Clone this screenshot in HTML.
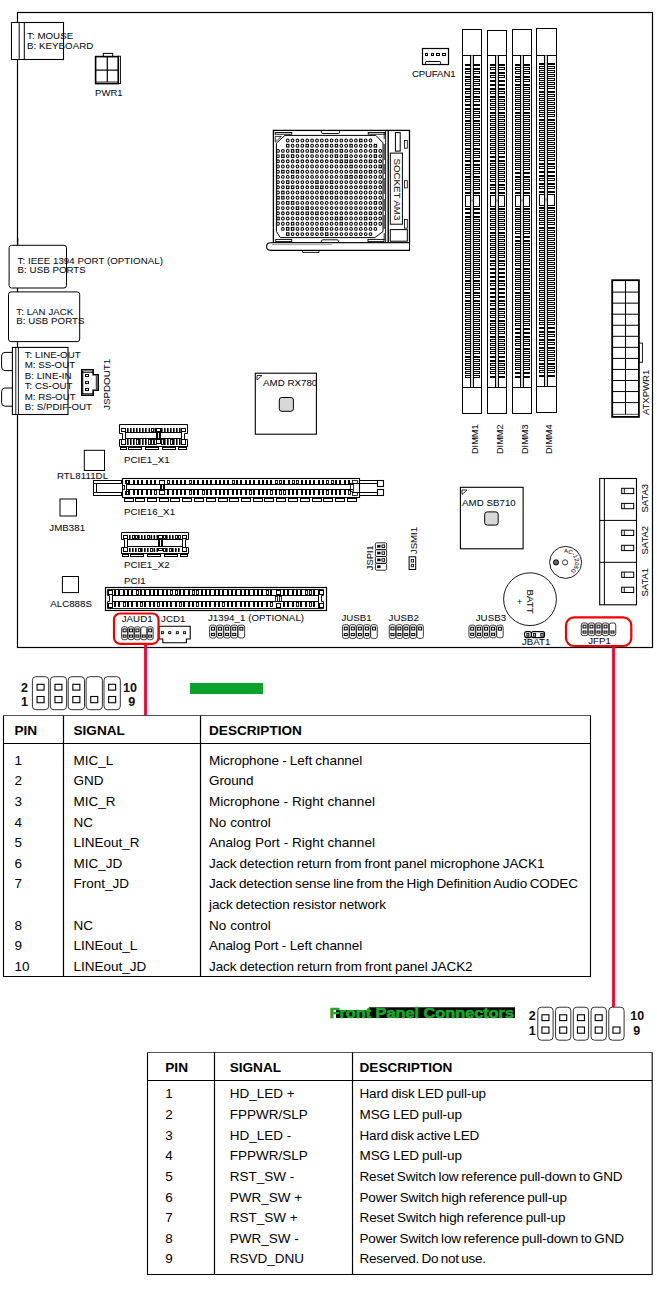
<!DOCTYPE html>
<html><head><meta charset="utf-8"><style>
html,body{margin:0;padding:0;background:#fff;width:657px;height:1292px;overflow:hidden}
svg{display:block;font-family:"Liberation Sans",sans-serif}
</style></head><body>
<svg width="657" height="1292" viewBox="0 0 657 1292">
<rect x="0" y="0" width="657" height="1292" fill="#fff"/>
<rect x="17.50" y="12.50" width="635.00" height="635.00" fill="none" stroke="#000" stroke-width="1.2" />
<rect x="11.50" y="22.50" width="52.00" height="37.00" fill="#fff" stroke="#000" stroke-width="1.1" />
<rect x="11.50" y="22.50" width="7.70" height="37.00" fill="#fff" stroke="#000" stroke-width="1.0" rx="1" />
<line x1="24.30" y1="22.50" x2="24.30" y2="59.50" stroke="#000" stroke-width="1.0"/>
<text x="27.00" y="39.30" font-size="9.7" text-anchor="start" fill="#0a0a14" font-weight="normal" stroke="#0a0a14" stroke-width="0.06" letter-spacing="0.05" >T: MOUSE</text>
<text x="27.00" y="49.20" font-size="9.7" text-anchor="start" fill="#0a0a14" font-weight="normal" stroke="#0a0a14" stroke-width="0.06" letter-spacing="0.05" >B: KEYBOARD</text>
<rect x="103.30" y="53.40" width="9.40" height="3.20" fill="none" stroke="#000" stroke-width="1" />
<rect x="95.60" y="56.60" width="22.70" height="27.00" fill="none" stroke="#000" stroke-width="1.6" />
<rect x="118.30" y="56.20" width="2.20" height="27.40" fill="none" stroke="#000" stroke-width="0.9" />
<line x1="107.30" y1="56.60" x2="107.30" y2="82.00" stroke="#000" stroke-width="1.2"/>
<line x1="95.60" y1="70.10" x2="118.30" y2="70.10" stroke="#000" stroke-width="1.2"/>
<line x1="95.60" y1="82.00" x2="118.30" y2="82.00" stroke="#000" stroke-width="0.8"/>
<text x="95.00" y="95.70" font-size="9.5" text-anchor="start" fill="#0a0a14" font-weight="normal" stroke="#0a0a14" stroke-width="0.06" letter-spacing="0.05" >PWR1</text>
<rect x="422.5" y="48.5" width="26" height="16" fill="none" stroke="#000" stroke-width="1.2"/>
<rect x="425.5" y="53.5" width="2" height="2" fill="none" stroke="#000" stroke-width="1"/>
<rect x="431.5" y="53.5" width="2" height="2" fill="none" stroke="#000" stroke-width="1"/>
<rect x="436.5" y="53.5" width="3" height="2" fill="none" stroke="#000" stroke-width="1"/>
<rect x="442.5" y="53.5" width="3" height="2" fill="none" stroke="#000" stroke-width="1"/>
<rect x="425.5" y="61.5" width="15" height="3" rx="0.8" fill="none" stroke="#000" stroke-width="1"/>
<text x="411.90" y="77.10" font-size="9.6" text-anchor="start" fill="#0a0a14" font-weight="normal" stroke="#0a0a14" stroke-width="0.06" letter-spacing="-0.1" >CPUFAN1</text>
<rect x="462.50" y="29.50" width="19.00" height="384.00" fill="#fff" stroke="#000" stroke-width="1" />
<line x1="462.00" y1="55.50" x2="482.00" y2="55.50" stroke="#000" stroke-width="1"/>
<line x1="462.00" y1="387.50" x2="482.00" y2="387.50" stroke="#000" stroke-width="1"/>
<rect x="471.00" y="55.50" width="2.00" height="331.50" fill="#d6d6d6" stroke="none" stroke-width="0" />
<line x1="470.50" y1="55.50" x2="470.50" y2="387.00" stroke="#000" stroke-width="1"/>
<line x1="473.50" y1="55.50" x2="473.50" y2="387.00" stroke="#000" stroke-width="1"/>
<rect x="465.00" y="64.00" width="6.00" height="2.00" fill="#000" stroke="none" stroke-width="0" />
<rect x="473.00" y="64.00" width="7.00" height="2.00" fill="#000" stroke="none" stroke-width="0" />
<rect x="465.00" y="68.00" width="6.00" height="2.00" fill="#000" stroke="none" stroke-width="0" />
<rect x="473.00" y="68.00" width="7.00" height="2.00" fill="#000" stroke="none" stroke-width="0" />
<rect x="465.50" y="71.50" width="5.00" height="2.00" fill="none" stroke="#000" stroke-width="1" />
<rect x="473.50" y="71.50" width="6.00" height="2.00" fill="none" stroke="#000" stroke-width="1" />
<rect x="465.00" y="76.00" width="6.00" height="2.00" fill="#000" stroke="none" stroke-width="0" />
<rect x="473.00" y="76.00" width="7.00" height="2.00" fill="#000" stroke="none" stroke-width="0" />
<rect x="465.50" y="79.50" width="5.00" height="2.00" fill="none" stroke="#000" stroke-width="1" />
<rect x="473.50" y="79.50" width="6.00" height="2.00" fill="none" stroke="#000" stroke-width="1" />
<rect x="465.50" y="83.50" width="5.00" height="2.00" fill="none" stroke="#000" stroke-width="1" />
<rect x="473.50" y="83.50" width="6.00" height="2.00" fill="none" stroke="#000" stroke-width="1" />
<rect x="465.00" y="88.00" width="6.00" height="2.00" fill="#000" stroke="none" stroke-width="0" />
<rect x="473.00" y="88.00" width="7.00" height="2.00" fill="#000" stroke="none" stroke-width="0" />
<rect x="465.50" y="91.50" width="5.00" height="2.00" fill="none" stroke="#000" stroke-width="1" />
<rect x="473.50" y="91.50" width="6.00" height="2.00" fill="none" stroke="#000" stroke-width="1" />
<rect x="465.00" y="96.00" width="6.00" height="2.00" fill="#000" stroke="none" stroke-width="0" />
<rect x="473.00" y="96.00" width="7.00" height="2.00" fill="#000" stroke="none" stroke-width="0" />
<rect x="465.50" y="99.50" width="5.00" height="2.00" fill="none" stroke="#000" stroke-width="1" />
<rect x="473.50" y="99.50" width="6.00" height="2.00" fill="none" stroke="#000" stroke-width="1" />
<rect x="465.00" y="104.00" width="6.00" height="2.00" fill="#000" stroke="none" stroke-width="0" />
<rect x="473.00" y="104.00" width="7.00" height="2.00" fill="#000" stroke="none" stroke-width="0" />
<rect x="465.00" y="108.00" width="6.00" height="2.00" fill="#000" stroke="none" stroke-width="0" />
<rect x="473.00" y="108.00" width="7.00" height="2.00" fill="#000" stroke="none" stroke-width="0" />
<rect x="465.50" y="111.50" width="5.00" height="2.00" fill="none" stroke="#000" stroke-width="1" />
<rect x="473.50" y="111.50" width="6.00" height="2.00" fill="none" stroke="#000" stroke-width="1" />
<rect x="465.50" y="115.50" width="5.00" height="2.00" fill="none" stroke="#000" stroke-width="1" />
<rect x="473.50" y="115.50" width="6.00" height="2.00" fill="none" stroke="#000" stroke-width="1" />
<rect x="465.00" y="120.00" width="6.00" height="2.00" fill="#000" stroke="none" stroke-width="0" />
<rect x="473.00" y="120.00" width="7.00" height="2.00" fill="#000" stroke="none" stroke-width="0" />
<rect x="465.50" y="123.50" width="5.00" height="2.00" fill="none" stroke="#000" stroke-width="1" />
<rect x="473.50" y="123.50" width="6.00" height="2.00" fill="none" stroke="#000" stroke-width="1" />
<rect x="465.50" y="127.50" width="5.00" height="2.00" fill="none" stroke="#000" stroke-width="1" />
<rect x="473.50" y="127.50" width="6.00" height="2.00" fill="none" stroke="#000" stroke-width="1" />
<rect x="465.50" y="131.50" width="5.00" height="2.00" fill="none" stroke="#000" stroke-width="1" />
<rect x="473.50" y="131.50" width="6.00" height="2.00" fill="none" stroke="#000" stroke-width="1" />
<rect x="465.50" y="135.50" width="5.00" height="2.00" fill="none" stroke="#000" stroke-width="1" />
<rect x="473.50" y="135.50" width="6.00" height="2.00" fill="none" stroke="#000" stroke-width="1" />
<rect x="465.50" y="139.50" width="5.00" height="2.00" fill="none" stroke="#000" stroke-width="1" />
<rect x="473.50" y="139.50" width="6.00" height="2.00" fill="none" stroke="#000" stroke-width="1" />
<rect x="465.50" y="143.50" width="5.00" height="2.00" fill="none" stroke="#000" stroke-width="1" />
<rect x="473.50" y="143.50" width="6.00" height="2.00" fill="none" stroke="#000" stroke-width="1" />
<rect x="465.00" y="148.00" width="6.00" height="2.00" fill="#000" stroke="none" stroke-width="0" />
<rect x="473.00" y="148.00" width="7.00" height="2.00" fill="#000" stroke="none" stroke-width="0" />
<rect x="465.50" y="151.50" width="5.00" height="2.00" fill="none" stroke="#000" stroke-width="1" />
<rect x="473.50" y="151.50" width="6.00" height="2.00" fill="none" stroke="#000" stroke-width="1" />
<rect x="465.50" y="155.50" width="5.00" height="2.00" fill="none" stroke="#000" stroke-width="1" />
<rect x="473.50" y="155.50" width="6.00" height="2.00" fill="none" stroke="#000" stroke-width="1" />
<rect x="465.00" y="160.00" width="6.00" height="2.00" fill="#000" stroke="none" stroke-width="0" />
<rect x="473.00" y="160.00" width="7.00" height="2.00" fill="#000" stroke="none" stroke-width="0" />
<rect x="465.00" y="164.00" width="6.00" height="2.00" fill="#000" stroke="none" stroke-width="0" />
<rect x="473.00" y="164.00" width="7.00" height="2.00" fill="#000" stroke="none" stroke-width="0" />
<rect x="465.50" y="167.50" width="5.00" height="2.00" fill="none" stroke="#000" stroke-width="1" />
<rect x="473.50" y="167.50" width="6.00" height="2.00" fill="none" stroke="#000" stroke-width="1" />
<rect x="465.50" y="171.50" width="5.00" height="2.00" fill="none" stroke="#000" stroke-width="1" />
<rect x="473.50" y="171.50" width="6.00" height="2.00" fill="none" stroke="#000" stroke-width="1" />
<rect x="465.00" y="176.00" width="6.00" height="2.00" fill="#000" stroke="none" stroke-width="0" />
<rect x="473.00" y="176.00" width="7.00" height="2.00" fill="#000" stroke="none" stroke-width="0" />
<rect x="465.50" y="179.50" width="5.00" height="2.00" fill="none" stroke="#000" stroke-width="1" />
<rect x="473.50" y="179.50" width="6.00" height="2.00" fill="none" stroke="#000" stroke-width="1" />
<rect x="465.50" y="183.50" width="5.00" height="2.00" fill="none" stroke="#000" stroke-width="1" />
<rect x="473.50" y="183.50" width="6.00" height="2.00" fill="none" stroke="#000" stroke-width="1" />
<rect x="465.50" y="187.50" width="5.00" height="2.00" fill="none" stroke="#000" stroke-width="1" />
<rect x="473.50" y="187.50" width="6.00" height="2.00" fill="none" stroke="#000" stroke-width="1" />
<rect x="465.00" y="192.00" width="6.00" height="2.00" fill="#000" stroke="none" stroke-width="0" />
<rect x="473.00" y="192.00" width="7.00" height="2.00" fill="#000" stroke="none" stroke-width="0" />
<rect x="465.00" y="208.00" width="6.00" height="2.00" fill="#000" stroke="none" stroke-width="0" />
<rect x="473.00" y="208.00" width="7.00" height="2.00" fill="#000" stroke="none" stroke-width="0" />
<rect x="465.00" y="212.00" width="6.00" height="2.00" fill="#000" stroke="none" stroke-width="0" />
<rect x="473.00" y="212.00" width="7.00" height="2.00" fill="#000" stroke="none" stroke-width="0" />
<rect x="465.00" y="216.00" width="6.00" height="2.00" fill="#000" stroke="none" stroke-width="0" />
<rect x="473.00" y="216.00" width="7.00" height="2.00" fill="#000" stroke="none" stroke-width="0" />
<rect x="465.50" y="219.50" width="5.00" height="2.00" fill="none" stroke="#000" stroke-width="1" />
<rect x="473.50" y="219.50" width="6.00" height="2.00" fill="none" stroke="#000" stroke-width="1" />
<rect x="465.50" y="223.50" width="5.00" height="2.00" fill="none" stroke="#000" stroke-width="1" />
<rect x="473.50" y="223.50" width="6.00" height="2.00" fill="none" stroke="#000" stroke-width="1" />
<rect x="465.50" y="227.50" width="5.00" height="2.00" fill="none" stroke="#000" stroke-width="1" />
<rect x="473.50" y="227.50" width="6.00" height="2.00" fill="none" stroke="#000" stroke-width="1" />
<rect x="465.50" y="231.50" width="5.00" height="2.00" fill="none" stroke="#000" stroke-width="1" />
<rect x="473.50" y="231.50" width="6.00" height="2.00" fill="none" stroke="#000" stroke-width="1" />
<rect x="465.50" y="235.50" width="5.00" height="2.00" fill="none" stroke="#000" stroke-width="1" />
<rect x="473.50" y="235.50" width="6.00" height="2.00" fill="none" stroke="#000" stroke-width="1" />
<rect x="465.50" y="239.50" width="5.00" height="2.00" fill="none" stroke="#000" stroke-width="1" />
<rect x="473.50" y="239.50" width="6.00" height="2.00" fill="none" stroke="#000" stroke-width="1" />
<rect x="465.50" y="243.50" width="5.00" height="2.00" fill="none" stroke="#000" stroke-width="1" />
<rect x="473.50" y="243.50" width="6.00" height="2.00" fill="none" stroke="#000" stroke-width="1" />
<rect x="465.50" y="247.50" width="5.00" height="2.00" fill="none" stroke="#000" stroke-width="1" />
<rect x="473.50" y="247.50" width="6.00" height="2.00" fill="none" stroke="#000" stroke-width="1" />
<rect x="465.50" y="251.50" width="5.00" height="2.00" fill="none" stroke="#000" stroke-width="1" />
<rect x="473.50" y="251.50" width="6.00" height="2.00" fill="none" stroke="#000" stroke-width="1" />
<rect x="465.50" y="255.50" width="5.00" height="2.00" fill="none" stroke="#000" stroke-width="1" />
<rect x="473.50" y="255.50" width="6.00" height="2.00" fill="none" stroke="#000" stroke-width="1" />
<rect x="465.50" y="259.50" width="5.00" height="2.00" fill="none" stroke="#000" stroke-width="1" />
<rect x="473.50" y="259.50" width="6.00" height="2.00" fill="none" stroke="#000" stroke-width="1" />
<rect x="465.50" y="263.50" width="5.00" height="2.00" fill="none" stroke="#000" stroke-width="1" />
<rect x="473.50" y="263.50" width="6.00" height="2.00" fill="none" stroke="#000" stroke-width="1" />
<rect x="465.50" y="267.50" width="5.00" height="2.00" fill="none" stroke="#000" stroke-width="1" />
<rect x="473.50" y="267.50" width="6.00" height="2.00" fill="none" stroke="#000" stroke-width="1" />
<rect x="465.50" y="271.50" width="5.00" height="2.00" fill="none" stroke="#000" stroke-width="1" />
<rect x="473.50" y="271.50" width="6.00" height="2.00" fill="none" stroke="#000" stroke-width="1" />
<rect x="465.50" y="275.50" width="5.00" height="2.00" fill="none" stroke="#000" stroke-width="1" />
<rect x="473.50" y="275.50" width="6.00" height="2.00" fill="none" stroke="#000" stroke-width="1" />
<rect x="465.00" y="280.00" width="6.00" height="2.00" fill="#000" stroke="none" stroke-width="0" />
<rect x="473.00" y="280.00" width="7.00" height="2.00" fill="#000" stroke="none" stroke-width="0" />
<rect x="465.50" y="283.50" width="5.00" height="2.00" fill="none" stroke="#000" stroke-width="1" />
<rect x="473.50" y="283.50" width="6.00" height="2.00" fill="none" stroke="#000" stroke-width="1" />
<rect x="465.50" y="287.50" width="5.00" height="2.00" fill="none" stroke="#000" stroke-width="1" />
<rect x="473.50" y="287.50" width="6.00" height="2.00" fill="none" stroke="#000" stroke-width="1" />
<rect x="465.00" y="292.00" width="6.00" height="2.00" fill="#000" stroke="none" stroke-width="0" />
<rect x="473.00" y="292.00" width="7.00" height="2.00" fill="#000" stroke="none" stroke-width="0" />
<rect x="465.50" y="295.50" width="5.00" height="2.00" fill="none" stroke="#000" stroke-width="1" />
<rect x="473.50" y="295.50" width="6.00" height="2.00" fill="none" stroke="#000" stroke-width="1" />
<rect x="465.00" y="300.00" width="6.00" height="2.00" fill="#000" stroke="none" stroke-width="0" />
<rect x="473.00" y="300.00" width="7.00" height="2.00" fill="#000" stroke="none" stroke-width="0" />
<rect x="465.50" y="303.50" width="5.00" height="2.00" fill="none" stroke="#000" stroke-width="1" />
<rect x="473.50" y="303.50" width="6.00" height="2.00" fill="none" stroke="#000" stroke-width="1" />
<rect x="465.50" y="307.50" width="5.00" height="2.00" fill="none" stroke="#000" stroke-width="1" />
<rect x="473.50" y="307.50" width="6.00" height="2.00" fill="none" stroke="#000" stroke-width="1" />
<rect x="465.50" y="311.50" width="5.00" height="2.00" fill="none" stroke="#000" stroke-width="1" />
<rect x="473.50" y="311.50" width="6.00" height="2.00" fill="none" stroke="#000" stroke-width="1" />
<rect x="465.50" y="315.50" width="5.00" height="2.00" fill="none" stroke="#000" stroke-width="1" />
<rect x="473.50" y="315.50" width="6.00" height="2.00" fill="none" stroke="#000" stroke-width="1" />
<rect x="465.50" y="319.50" width="5.00" height="2.00" fill="none" stroke="#000" stroke-width="1" />
<rect x="473.50" y="319.50" width="6.00" height="2.00" fill="none" stroke="#000" stroke-width="1" />
<rect x="465.50" y="323.50" width="5.00" height="2.00" fill="none" stroke="#000" stroke-width="1" />
<rect x="473.50" y="323.50" width="6.00" height="2.00" fill="none" stroke="#000" stroke-width="1" />
<rect x="465.50" y="327.50" width="5.00" height="2.00" fill="none" stroke="#000" stroke-width="1" />
<rect x="473.50" y="327.50" width="6.00" height="2.00" fill="none" stroke="#000" stroke-width="1" />
<rect x="465.50" y="331.50" width="5.00" height="2.00" fill="none" stroke="#000" stroke-width="1" />
<rect x="473.50" y="331.50" width="6.00" height="2.00" fill="none" stroke="#000" stroke-width="1" />
<rect x="465.50" y="335.50" width="5.00" height="2.00" fill="none" stroke="#000" stroke-width="1" />
<rect x="473.50" y="335.50" width="6.00" height="2.00" fill="none" stroke="#000" stroke-width="1" />
<rect x="465.50" y="339.50" width="5.00" height="2.00" fill="none" stroke="#000" stroke-width="1" />
<rect x="473.50" y="339.50" width="6.00" height="2.00" fill="none" stroke="#000" stroke-width="1" />
<rect x="465.50" y="343.50" width="5.00" height="2.00" fill="none" stroke="#000" stroke-width="1" />
<rect x="473.50" y="343.50" width="6.00" height="2.00" fill="none" stroke="#000" stroke-width="1" />
<rect x="465.50" y="347.50" width="5.00" height="2.00" fill="none" stroke="#000" stroke-width="1" />
<rect x="473.50" y="347.50" width="6.00" height="2.00" fill="none" stroke="#000" stroke-width="1" />
<rect x="465.50" y="351.50" width="5.00" height="2.00" fill="none" stroke="#000" stroke-width="1" />
<rect x="473.50" y="351.50" width="6.00" height="2.00" fill="none" stroke="#000" stroke-width="1" />
<rect x="465.00" y="356.00" width="6.00" height="2.00" fill="#000" stroke="none" stroke-width="0" />
<rect x="473.00" y="356.00" width="7.00" height="2.00" fill="#000" stroke="none" stroke-width="0" />
<rect x="465.50" y="359.50" width="5.00" height="2.00" fill="none" stroke="#000" stroke-width="1" />
<rect x="473.50" y="359.50" width="6.00" height="2.00" fill="none" stroke="#000" stroke-width="1" />
<rect x="465.50" y="363.50" width="5.00" height="2.00" fill="none" stroke="#000" stroke-width="1" />
<rect x="473.50" y="363.50" width="6.00" height="2.00" fill="none" stroke="#000" stroke-width="1" />
<rect x="465.50" y="367.50" width="5.00" height="2.00" fill="none" stroke="#000" stroke-width="1" />
<rect x="473.50" y="367.50" width="6.00" height="2.00" fill="none" stroke="#000" stroke-width="1" />
<rect x="465.50" y="371.50" width="5.00" height="2.00" fill="none" stroke="#000" stroke-width="1" />
<rect x="473.50" y="371.50" width="6.00" height="2.00" fill="none" stroke="#000" stroke-width="1" />
<rect x="465.50" y="375.50" width="5.00" height="2.00" fill="none" stroke="#000" stroke-width="1" />
<rect x="473.50" y="375.50" width="6.00" height="2.00" fill="none" stroke="#000" stroke-width="1" />
<rect x="465.50" y="195.50" width="5.00" height="11.00" fill="none" stroke="#000" stroke-width="1" />
<rect x="473.50" y="195.50" width="6.00" height="11.00" fill="none" stroke="#000" stroke-width="1" />
<rect x="471.00" y="199.50" width="2.00" height="2.00" fill="#999" stroke="none" stroke-width="0" />
<rect x="470.50" y="198.00" width="3.00" height="5.00" fill="none" stroke="none" stroke-width="0" />
<text x="478.30" y="454.00" font-size="9.4" text-anchor="start" fill="#0a0a14" font-weight="normal" stroke="#0a0a14" stroke-width="0.06" transform="rotate(-90 478.30 454.00)" textLength="29.5" lengthAdjust="spacingAndGlyphs" >DIMM1</text>
<rect x="487.50" y="30.50" width="19.00" height="383.00" fill="#fff" stroke="#000" stroke-width="1" />
<line x1="487.00" y1="55.50" x2="507.00" y2="55.50" stroke="#000" stroke-width="1"/>
<line x1="487.00" y1="387.50" x2="507.00" y2="387.50" stroke="#000" stroke-width="1"/>
<rect x="496.00" y="55.50" width="2.00" height="331.50" fill="#d6d6d6" stroke="none" stroke-width="0" />
<line x1="495.50" y1="55.50" x2="495.50" y2="387.00" stroke="#000" stroke-width="1"/>
<line x1="498.50" y1="55.50" x2="498.50" y2="387.00" stroke="#000" stroke-width="1"/>
<rect x="490.00" y="64.00" width="6.00" height="2.00" fill="#000" stroke="none" stroke-width="0" />
<rect x="498.00" y="64.00" width="7.00" height="2.00" fill="#000" stroke="none" stroke-width="0" />
<rect x="490.50" y="67.50" width="5.00" height="2.00" fill="none" stroke="#000" stroke-width="1" />
<rect x="498.50" y="67.50" width="6.00" height="2.00" fill="none" stroke="#000" stroke-width="1" />
<rect x="490.00" y="72.00" width="6.00" height="2.00" fill="#000" stroke="none" stroke-width="0" />
<rect x="498.00" y="72.00" width="7.00" height="2.00" fill="#000" stroke="none" stroke-width="0" />
<rect x="490.50" y="75.50" width="5.00" height="2.00" fill="none" stroke="#000" stroke-width="1" />
<rect x="498.50" y="75.50" width="6.00" height="2.00" fill="none" stroke="#000" stroke-width="1" />
<rect x="490.00" y="80.00" width="6.00" height="2.00" fill="#000" stroke="none" stroke-width="0" />
<rect x="498.00" y="80.00" width="7.00" height="2.00" fill="#000" stroke="none" stroke-width="0" />
<rect x="490.00" y="84.00" width="6.00" height="2.00" fill="#000" stroke="none" stroke-width="0" />
<rect x="498.00" y="84.00" width="7.00" height="2.00" fill="#000" stroke="none" stroke-width="0" />
<rect x="490.00" y="88.00" width="6.00" height="2.00" fill="#000" stroke="none" stroke-width="0" />
<rect x="498.00" y="88.00" width="7.00" height="2.00" fill="#000" stroke="none" stroke-width="0" />
<rect x="490.50" y="91.50" width="5.00" height="2.00" fill="none" stroke="#000" stroke-width="1" />
<rect x="498.50" y="91.50" width="6.00" height="2.00" fill="none" stroke="#000" stroke-width="1" />
<rect x="490.00" y="96.00" width="6.00" height="2.00" fill="#000" stroke="none" stroke-width="0" />
<rect x="498.00" y="96.00" width="7.00" height="2.00" fill="#000" stroke="none" stroke-width="0" />
<rect x="490.50" y="99.50" width="5.00" height="2.00" fill="none" stroke="#000" stroke-width="1" />
<rect x="498.50" y="99.50" width="6.00" height="2.00" fill="none" stroke="#000" stroke-width="1" />
<rect x="490.50" y="103.50" width="5.00" height="2.00" fill="none" stroke="#000" stroke-width="1" />
<rect x="498.50" y="103.50" width="6.00" height="2.00" fill="none" stroke="#000" stroke-width="1" />
<rect x="490.50" y="107.50" width="5.00" height="2.00" fill="none" stroke="#000" stroke-width="1" />
<rect x="498.50" y="107.50" width="6.00" height="2.00" fill="none" stroke="#000" stroke-width="1" />
<rect x="490.00" y="112.00" width="6.00" height="2.00" fill="#000" stroke="none" stroke-width="0" />
<rect x="498.00" y="112.00" width="7.00" height="2.00" fill="#000" stroke="none" stroke-width="0" />
<rect x="490.50" y="115.50" width="5.00" height="2.00" fill="none" stroke="#000" stroke-width="1" />
<rect x="498.50" y="115.50" width="6.00" height="2.00" fill="none" stroke="#000" stroke-width="1" />
<rect x="490.50" y="119.50" width="5.00" height="2.00" fill="none" stroke="#000" stroke-width="1" />
<rect x="498.50" y="119.50" width="6.00" height="2.00" fill="none" stroke="#000" stroke-width="1" />
<rect x="490.50" y="123.50" width="5.00" height="2.00" fill="none" stroke="#000" stroke-width="1" />
<rect x="498.50" y="123.50" width="6.00" height="2.00" fill="none" stroke="#000" stroke-width="1" />
<rect x="490.50" y="127.50" width="5.00" height="2.00" fill="none" stroke="#000" stroke-width="1" />
<rect x="498.50" y="127.50" width="6.00" height="2.00" fill="none" stroke="#000" stroke-width="1" />
<rect x="490.50" y="131.50" width="5.00" height="2.00" fill="none" stroke="#000" stroke-width="1" />
<rect x="498.50" y="131.50" width="6.00" height="2.00" fill="none" stroke="#000" stroke-width="1" />
<rect x="490.50" y="135.50" width="5.00" height="2.00" fill="none" stroke="#000" stroke-width="1" />
<rect x="498.50" y="135.50" width="6.00" height="2.00" fill="none" stroke="#000" stroke-width="1" />
<rect x="490.50" y="139.50" width="5.00" height="2.00" fill="none" stroke="#000" stroke-width="1" />
<rect x="498.50" y="139.50" width="6.00" height="2.00" fill="none" stroke="#000" stroke-width="1" />
<rect x="490.50" y="143.50" width="5.00" height="2.00" fill="none" stroke="#000" stroke-width="1" />
<rect x="498.50" y="143.50" width="6.00" height="2.00" fill="none" stroke="#000" stroke-width="1" />
<rect x="490.50" y="147.50" width="5.00" height="2.00" fill="none" stroke="#000" stroke-width="1" />
<rect x="498.50" y="147.50" width="6.00" height="2.00" fill="none" stroke="#000" stroke-width="1" />
<rect x="490.50" y="151.50" width="5.00" height="2.00" fill="none" stroke="#000" stroke-width="1" />
<rect x="498.50" y="151.50" width="6.00" height="2.00" fill="none" stroke="#000" stroke-width="1" />
<rect x="490.00" y="156.00" width="6.00" height="2.00" fill="#000" stroke="none" stroke-width="0" />
<rect x="498.00" y="156.00" width="7.00" height="2.00" fill="#000" stroke="none" stroke-width="0" />
<rect x="490.00" y="160.00" width="6.00" height="2.00" fill="#000" stroke="none" stroke-width="0" />
<rect x="498.00" y="160.00" width="7.00" height="2.00" fill="#000" stroke="none" stroke-width="0" />
<rect x="490.50" y="163.50" width="5.00" height="2.00" fill="none" stroke="#000" stroke-width="1" />
<rect x="498.50" y="163.50" width="6.00" height="2.00" fill="none" stroke="#000" stroke-width="1" />
<rect x="490.50" y="167.50" width="5.00" height="2.00" fill="none" stroke="#000" stroke-width="1" />
<rect x="498.50" y="167.50" width="6.00" height="2.00" fill="none" stroke="#000" stroke-width="1" />
<rect x="490.50" y="171.50" width="5.00" height="2.00" fill="none" stroke="#000" stroke-width="1" />
<rect x="498.50" y="171.50" width="6.00" height="2.00" fill="none" stroke="#000" stroke-width="1" />
<rect x="490.50" y="175.50" width="5.00" height="2.00" fill="none" stroke="#000" stroke-width="1" />
<rect x="498.50" y="175.50" width="6.00" height="2.00" fill="none" stroke="#000" stroke-width="1" />
<rect x="490.50" y="179.50" width="5.00" height="2.00" fill="none" stroke="#000" stroke-width="1" />
<rect x="498.50" y="179.50" width="6.00" height="2.00" fill="none" stroke="#000" stroke-width="1" />
<rect x="490.00" y="184.00" width="6.00" height="2.00" fill="#000" stroke="none" stroke-width="0" />
<rect x="498.00" y="184.00" width="7.00" height="2.00" fill="#000" stroke="none" stroke-width="0" />
<rect x="490.50" y="187.50" width="5.00" height="2.00" fill="none" stroke="#000" stroke-width="1" />
<rect x="498.50" y="187.50" width="6.00" height="2.00" fill="none" stroke="#000" stroke-width="1" />
<rect x="490.00" y="192.00" width="6.00" height="2.00" fill="#000" stroke="none" stroke-width="0" />
<rect x="498.00" y="192.00" width="7.00" height="2.00" fill="#000" stroke="none" stroke-width="0" />
<rect x="490.00" y="208.00" width="6.00" height="2.00" fill="#000" stroke="none" stroke-width="0" />
<rect x="498.00" y="208.00" width="7.00" height="2.00" fill="#000" stroke="none" stroke-width="0" />
<rect x="490.50" y="211.50" width="5.00" height="2.00" fill="none" stroke="#000" stroke-width="1" />
<rect x="498.50" y="211.50" width="6.00" height="2.00" fill="none" stroke="#000" stroke-width="1" />
<rect x="490.50" y="215.50" width="5.00" height="2.00" fill="none" stroke="#000" stroke-width="1" />
<rect x="498.50" y="215.50" width="6.00" height="2.00" fill="none" stroke="#000" stroke-width="1" />
<rect x="490.50" y="219.50" width="5.00" height="2.00" fill="none" stroke="#000" stroke-width="1" />
<rect x="498.50" y="219.50" width="6.00" height="2.00" fill="none" stroke="#000" stroke-width="1" />
<rect x="490.50" y="223.50" width="5.00" height="2.00" fill="none" stroke="#000" stroke-width="1" />
<rect x="498.50" y="223.50" width="6.00" height="2.00" fill="none" stroke="#000" stroke-width="1" />
<rect x="490.50" y="227.50" width="5.00" height="2.00" fill="none" stroke="#000" stroke-width="1" />
<rect x="498.50" y="227.50" width="6.00" height="2.00" fill="none" stroke="#000" stroke-width="1" />
<rect x="490.00" y="232.00" width="6.00" height="2.00" fill="#000" stroke="none" stroke-width="0" />
<rect x="498.00" y="232.00" width="7.00" height="2.00" fill="#000" stroke="none" stroke-width="0" />
<rect x="490.50" y="235.50" width="5.00" height="2.00" fill="none" stroke="#000" stroke-width="1" />
<rect x="498.50" y="235.50" width="6.00" height="2.00" fill="none" stroke="#000" stroke-width="1" />
<rect x="490.50" y="239.50" width="5.00" height="2.00" fill="none" stroke="#000" stroke-width="1" />
<rect x="498.50" y="239.50" width="6.00" height="2.00" fill="none" stroke="#000" stroke-width="1" />
<rect x="490.50" y="243.50" width="5.00" height="2.00" fill="none" stroke="#000" stroke-width="1" />
<rect x="498.50" y="243.50" width="6.00" height="2.00" fill="none" stroke="#000" stroke-width="1" />
<rect x="490.50" y="247.50" width="5.00" height="2.00" fill="none" stroke="#000" stroke-width="1" />
<rect x="498.50" y="247.50" width="6.00" height="2.00" fill="none" stroke="#000" stroke-width="1" />
<rect x="490.50" y="251.50" width="5.00" height="2.00" fill="none" stroke="#000" stroke-width="1" />
<rect x="498.50" y="251.50" width="6.00" height="2.00" fill="none" stroke="#000" stroke-width="1" />
<rect x="490.50" y="255.50" width="5.00" height="2.00" fill="none" stroke="#000" stroke-width="1" />
<rect x="498.50" y="255.50" width="6.00" height="2.00" fill="none" stroke="#000" stroke-width="1" />
<rect x="490.00" y="260.00" width="6.00" height="2.00" fill="#000" stroke="none" stroke-width="0" />
<rect x="498.00" y="260.00" width="7.00" height="2.00" fill="#000" stroke="none" stroke-width="0" />
<rect x="490.50" y="263.50" width="5.00" height="2.00" fill="none" stroke="#000" stroke-width="1" />
<rect x="498.50" y="263.50" width="6.00" height="2.00" fill="none" stroke="#000" stroke-width="1" />
<rect x="490.00" y="268.00" width="6.00" height="2.00" fill="#000" stroke="none" stroke-width="0" />
<rect x="498.00" y="268.00" width="7.00" height="2.00" fill="#000" stroke="none" stroke-width="0" />
<rect x="490.00" y="272.00" width="6.00" height="2.00" fill="#000" stroke="none" stroke-width="0" />
<rect x="498.00" y="272.00" width="7.00" height="2.00" fill="#000" stroke="none" stroke-width="0" />
<rect x="490.00" y="276.00" width="6.00" height="2.00" fill="#000" stroke="none" stroke-width="0" />
<rect x="498.00" y="276.00" width="7.00" height="2.00" fill="#000" stroke="none" stroke-width="0" />
<rect x="490.00" y="280.00" width="6.00" height="2.00" fill="#000" stroke="none" stroke-width="0" />
<rect x="498.00" y="280.00" width="7.00" height="2.00" fill="#000" stroke="none" stroke-width="0" />
<rect x="490.50" y="283.50" width="5.00" height="2.00" fill="none" stroke="#000" stroke-width="1" />
<rect x="498.50" y="283.50" width="6.00" height="2.00" fill="none" stroke="#000" stroke-width="1" />
<rect x="490.00" y="288.00" width="6.00" height="2.00" fill="#000" stroke="none" stroke-width="0" />
<rect x="498.00" y="288.00" width="7.00" height="2.00" fill="#000" stroke="none" stroke-width="0" />
<rect x="490.00" y="292.00" width="6.00" height="2.00" fill="#000" stroke="none" stroke-width="0" />
<rect x="498.00" y="292.00" width="7.00" height="2.00" fill="#000" stroke="none" stroke-width="0" />
<rect x="490.00" y="296.00" width="6.00" height="2.00" fill="#000" stroke="none" stroke-width="0" />
<rect x="498.00" y="296.00" width="7.00" height="2.00" fill="#000" stroke="none" stroke-width="0" />
<rect x="490.00" y="300.00" width="6.00" height="2.00" fill="#000" stroke="none" stroke-width="0" />
<rect x="498.00" y="300.00" width="7.00" height="2.00" fill="#000" stroke="none" stroke-width="0" />
<rect x="490.50" y="303.50" width="5.00" height="2.00" fill="none" stroke="#000" stroke-width="1" />
<rect x="498.50" y="303.50" width="6.00" height="2.00" fill="none" stroke="#000" stroke-width="1" />
<rect x="490.00" y="308.00" width="6.00" height="2.00" fill="#000" stroke="none" stroke-width="0" />
<rect x="498.00" y="308.00" width="7.00" height="2.00" fill="#000" stroke="none" stroke-width="0" />
<rect x="490.50" y="311.50" width="5.00" height="2.00" fill="none" stroke="#000" stroke-width="1" />
<rect x="498.50" y="311.50" width="6.00" height="2.00" fill="none" stroke="#000" stroke-width="1" />
<rect x="490.50" y="315.50" width="5.00" height="2.00" fill="none" stroke="#000" stroke-width="1" />
<rect x="498.50" y="315.50" width="6.00" height="2.00" fill="none" stroke="#000" stroke-width="1" />
<rect x="490.00" y="320.00" width="6.00" height="2.00" fill="#000" stroke="none" stroke-width="0" />
<rect x="498.00" y="320.00" width="7.00" height="2.00" fill="#000" stroke="none" stroke-width="0" />
<rect x="490.50" y="323.50" width="5.00" height="2.00" fill="none" stroke="#000" stroke-width="1" />
<rect x="498.50" y="323.50" width="6.00" height="2.00" fill="none" stroke="#000" stroke-width="1" />
<rect x="490.50" y="327.50" width="5.00" height="2.00" fill="none" stroke="#000" stroke-width="1" />
<rect x="498.50" y="327.50" width="6.00" height="2.00" fill="none" stroke="#000" stroke-width="1" />
<rect x="490.50" y="331.50" width="5.00" height="2.00" fill="none" stroke="#000" stroke-width="1" />
<rect x="498.50" y="331.50" width="6.00" height="2.00" fill="none" stroke="#000" stroke-width="1" />
<rect x="490.00" y="336.00" width="6.00" height="2.00" fill="#000" stroke="none" stroke-width="0" />
<rect x="498.00" y="336.00" width="7.00" height="2.00" fill="#000" stroke="none" stroke-width="0" />
<rect x="490.50" y="339.50" width="5.00" height="2.00" fill="none" stroke="#000" stroke-width="1" />
<rect x="498.50" y="339.50" width="6.00" height="2.00" fill="none" stroke="#000" stroke-width="1" />
<rect x="490.50" y="343.50" width="5.00" height="2.00" fill="none" stroke="#000" stroke-width="1" />
<rect x="498.50" y="343.50" width="6.00" height="2.00" fill="none" stroke="#000" stroke-width="1" />
<rect x="490.50" y="347.50" width="5.00" height="2.00" fill="none" stroke="#000" stroke-width="1" />
<rect x="498.50" y="347.50" width="6.00" height="2.00" fill="none" stroke="#000" stroke-width="1" />
<rect x="490.50" y="351.50" width="5.00" height="2.00" fill="none" stroke="#000" stroke-width="1" />
<rect x="498.50" y="351.50" width="6.00" height="2.00" fill="none" stroke="#000" stroke-width="1" />
<rect x="490.00" y="356.00" width="6.00" height="2.00" fill="#000" stroke="none" stroke-width="0" />
<rect x="498.00" y="356.00" width="7.00" height="2.00" fill="#000" stroke="none" stroke-width="0" />
<rect x="490.00" y="360.00" width="6.00" height="2.00" fill="#000" stroke="none" stroke-width="0" />
<rect x="498.00" y="360.00" width="7.00" height="2.00" fill="#000" stroke="none" stroke-width="0" />
<rect x="490.50" y="363.50" width="5.00" height="2.00" fill="none" stroke="#000" stroke-width="1" />
<rect x="498.50" y="363.50" width="6.00" height="2.00" fill="none" stroke="#000" stroke-width="1" />
<rect x="490.50" y="367.50" width="5.00" height="2.00" fill="none" stroke="#000" stroke-width="1" />
<rect x="498.50" y="367.50" width="6.00" height="2.00" fill="none" stroke="#000" stroke-width="1" />
<rect x="490.50" y="371.50" width="5.00" height="2.00" fill="none" stroke="#000" stroke-width="1" />
<rect x="498.50" y="371.50" width="6.00" height="2.00" fill="none" stroke="#000" stroke-width="1" />
<rect x="490.00" y="376.00" width="6.00" height="2.00" fill="#000" stroke="none" stroke-width="0" />
<rect x="498.00" y="376.00" width="7.00" height="2.00" fill="#000" stroke="none" stroke-width="0" />
<rect x="490.50" y="195.50" width="5.00" height="11.00" fill="none" stroke="#000" stroke-width="1" />
<rect x="498.50" y="195.50" width="6.00" height="11.00" fill="none" stroke="#000" stroke-width="1" />
<rect x="496.00" y="199.50" width="2.00" height="2.00" fill="#999" stroke="none" stroke-width="0" />
<rect x="495.50" y="198.00" width="3.00" height="5.00" fill="none" stroke="none" stroke-width="0" />
<text x="503.30" y="454.00" font-size="9.4" text-anchor="start" fill="#0a0a14" font-weight="normal" stroke="#0a0a14" stroke-width="0.06" transform="rotate(-90 503.30 454.00)" textLength="29.5" lengthAdjust="spacingAndGlyphs" >DIMM2</text>
<rect x="512.50" y="29.50" width="19.00" height="384.00" fill="#fff" stroke="#000" stroke-width="1" />
<line x1="512.00" y1="55.50" x2="532.00" y2="55.50" stroke="#000" stroke-width="1"/>
<line x1="512.00" y1="387.50" x2="532.00" y2="387.50" stroke="#000" stroke-width="1"/>
<rect x="521.00" y="55.50" width="2.00" height="331.50" fill="#d6d6d6" stroke="none" stroke-width="0" />
<line x1="520.50" y1="55.50" x2="520.50" y2="387.00" stroke="#000" stroke-width="1"/>
<line x1="523.50" y1="55.50" x2="523.50" y2="387.00" stroke="#000" stroke-width="1"/>
<rect x="515.00" y="64.00" width="6.00" height="2.00" fill="#000" stroke="none" stroke-width="0" />
<rect x="523.00" y="64.00" width="7.00" height="2.00" fill="#000" stroke="none" stroke-width="0" />
<rect x="515.50" y="67.50" width="5.00" height="2.00" fill="none" stroke="#000" stroke-width="1" />
<rect x="523.50" y="67.50" width="6.00" height="2.00" fill="none" stroke="#000" stroke-width="1" />
<rect x="515.50" y="71.50" width="5.00" height="2.00" fill="none" stroke="#000" stroke-width="1" />
<rect x="523.50" y="71.50" width="6.00" height="2.00" fill="none" stroke="#000" stroke-width="1" />
<rect x="515.00" y="76.00" width="6.00" height="2.00" fill="#000" stroke="none" stroke-width="0" />
<rect x="523.00" y="76.00" width="7.00" height="2.00" fill="#000" stroke="none" stroke-width="0" />
<rect x="515.50" y="79.50" width="5.00" height="2.00" fill="none" stroke="#000" stroke-width="1" />
<rect x="523.50" y="79.50" width="6.00" height="2.00" fill="none" stroke="#000" stroke-width="1" />
<rect x="515.00" y="84.00" width="6.00" height="2.00" fill="#000" stroke="none" stroke-width="0" />
<rect x="523.00" y="84.00" width="7.00" height="2.00" fill="#000" stroke="none" stroke-width="0" />
<rect x="515.50" y="87.50" width="5.00" height="2.00" fill="none" stroke="#000" stroke-width="1" />
<rect x="523.50" y="87.50" width="6.00" height="2.00" fill="none" stroke="#000" stroke-width="1" />
<rect x="515.50" y="91.50" width="5.00" height="2.00" fill="none" stroke="#000" stroke-width="1" />
<rect x="523.50" y="91.50" width="6.00" height="2.00" fill="none" stroke="#000" stroke-width="1" />
<rect x="515.50" y="95.50" width="5.00" height="2.00" fill="none" stroke="#000" stroke-width="1" />
<rect x="523.50" y="95.50" width="6.00" height="2.00" fill="none" stroke="#000" stroke-width="1" />
<rect x="515.50" y="99.50" width="5.00" height="2.00" fill="none" stroke="#000" stroke-width="1" />
<rect x="523.50" y="99.50" width="6.00" height="2.00" fill="none" stroke="#000" stroke-width="1" />
<rect x="515.50" y="103.50" width="5.00" height="2.00" fill="none" stroke="#000" stroke-width="1" />
<rect x="523.50" y="103.50" width="6.00" height="2.00" fill="none" stroke="#000" stroke-width="1" />
<rect x="515.50" y="107.50" width="5.00" height="2.00" fill="none" stroke="#000" stroke-width="1" />
<rect x="523.50" y="107.50" width="6.00" height="2.00" fill="none" stroke="#000" stroke-width="1" />
<rect x="515.00" y="112.00" width="6.00" height="2.00" fill="#000" stroke="none" stroke-width="0" />
<rect x="523.00" y="112.00" width="7.00" height="2.00" fill="#000" stroke="none" stroke-width="0" />
<rect x="515.50" y="115.50" width="5.00" height="2.00" fill="none" stroke="#000" stroke-width="1" />
<rect x="523.50" y="115.50" width="6.00" height="2.00" fill="none" stroke="#000" stroke-width="1" />
<rect x="515.50" y="119.50" width="5.00" height="2.00" fill="none" stroke="#000" stroke-width="1" />
<rect x="523.50" y="119.50" width="6.00" height="2.00" fill="none" stroke="#000" stroke-width="1" />
<rect x="515.50" y="123.50" width="5.00" height="2.00" fill="none" stroke="#000" stroke-width="1" />
<rect x="523.50" y="123.50" width="6.00" height="2.00" fill="none" stroke="#000" stroke-width="1" />
<rect x="515.50" y="127.50" width="5.00" height="2.00" fill="none" stroke="#000" stroke-width="1" />
<rect x="523.50" y="127.50" width="6.00" height="2.00" fill="none" stroke="#000" stroke-width="1" />
<rect x="515.50" y="131.50" width="5.00" height="2.00" fill="none" stroke="#000" stroke-width="1" />
<rect x="523.50" y="131.50" width="6.00" height="2.00" fill="none" stroke="#000" stroke-width="1" />
<rect x="515.50" y="135.50" width="5.00" height="2.00" fill="none" stroke="#000" stroke-width="1" />
<rect x="523.50" y="135.50" width="6.00" height="2.00" fill="none" stroke="#000" stroke-width="1" />
<rect x="515.50" y="139.50" width="5.00" height="2.00" fill="none" stroke="#000" stroke-width="1" />
<rect x="523.50" y="139.50" width="6.00" height="2.00" fill="none" stroke="#000" stroke-width="1" />
<rect x="515.50" y="143.50" width="5.00" height="2.00" fill="none" stroke="#000" stroke-width="1" />
<rect x="523.50" y="143.50" width="6.00" height="2.00" fill="none" stroke="#000" stroke-width="1" />
<rect x="515.50" y="147.50" width="5.00" height="2.00" fill="none" stroke="#000" stroke-width="1" />
<rect x="523.50" y="147.50" width="6.00" height="2.00" fill="none" stroke="#000" stroke-width="1" />
<rect x="515.50" y="151.50" width="5.00" height="2.00" fill="none" stroke="#000" stroke-width="1" />
<rect x="523.50" y="151.50" width="6.00" height="2.00" fill="none" stroke="#000" stroke-width="1" />
<rect x="515.50" y="155.50" width="5.00" height="2.00" fill="none" stroke="#000" stroke-width="1" />
<rect x="523.50" y="155.50" width="6.00" height="2.00" fill="none" stroke="#000" stroke-width="1" />
<rect x="515.50" y="159.50" width="5.00" height="2.00" fill="none" stroke="#000" stroke-width="1" />
<rect x="523.50" y="159.50" width="6.00" height="2.00" fill="none" stroke="#000" stroke-width="1" />
<rect x="515.50" y="163.50" width="5.00" height="2.00" fill="none" stroke="#000" stroke-width="1" />
<rect x="523.50" y="163.50" width="6.00" height="2.00" fill="none" stroke="#000" stroke-width="1" />
<rect x="515.50" y="167.50" width="5.00" height="2.00" fill="none" stroke="#000" stroke-width="1" />
<rect x="523.50" y="167.50" width="6.00" height="2.00" fill="none" stroke="#000" stroke-width="1" />
<rect x="515.00" y="172.00" width="6.00" height="2.00" fill="#000" stroke="none" stroke-width="0" />
<rect x="523.00" y="172.00" width="7.00" height="2.00" fill="#000" stroke="none" stroke-width="0" />
<rect x="515.00" y="176.00" width="6.00" height="2.00" fill="#000" stroke="none" stroke-width="0" />
<rect x="523.00" y="176.00" width="7.00" height="2.00" fill="#000" stroke="none" stroke-width="0" />
<rect x="515.50" y="179.50" width="5.00" height="2.00" fill="none" stroke="#000" stroke-width="1" />
<rect x="523.50" y="179.50" width="6.00" height="2.00" fill="none" stroke="#000" stroke-width="1" />
<rect x="515.50" y="183.50" width="5.00" height="2.00" fill="none" stroke="#000" stroke-width="1" />
<rect x="523.50" y="183.50" width="6.00" height="2.00" fill="none" stroke="#000" stroke-width="1" />
<rect x="515.50" y="187.50" width="5.00" height="2.00" fill="none" stroke="#000" stroke-width="1" />
<rect x="523.50" y="187.50" width="6.00" height="2.00" fill="none" stroke="#000" stroke-width="1" />
<rect x="515.00" y="192.00" width="6.00" height="2.00" fill="#000" stroke="none" stroke-width="0" />
<rect x="523.00" y="192.00" width="7.00" height="2.00" fill="#000" stroke="none" stroke-width="0" />
<rect x="515.00" y="208.00" width="6.00" height="2.00" fill="#000" stroke="none" stroke-width="0" />
<rect x="523.00" y="208.00" width="7.00" height="2.00" fill="#000" stroke="none" stroke-width="0" />
<rect x="515.50" y="211.50" width="5.00" height="2.00" fill="none" stroke="#000" stroke-width="1" />
<rect x="523.50" y="211.50" width="6.00" height="2.00" fill="none" stroke="#000" stroke-width="1" />
<rect x="515.50" y="215.50" width="5.00" height="2.00" fill="none" stroke="#000" stroke-width="1" />
<rect x="523.50" y="215.50" width="6.00" height="2.00" fill="none" stroke="#000" stroke-width="1" />
<rect x="515.50" y="219.50" width="5.00" height="2.00" fill="none" stroke="#000" stroke-width="1" />
<rect x="523.50" y="219.50" width="6.00" height="2.00" fill="none" stroke="#000" stroke-width="1" />
<rect x="515.50" y="223.50" width="5.00" height="2.00" fill="none" stroke="#000" stroke-width="1" />
<rect x="523.50" y="223.50" width="6.00" height="2.00" fill="none" stroke="#000" stroke-width="1" />
<rect x="515.50" y="227.50" width="5.00" height="2.00" fill="none" stroke="#000" stroke-width="1" />
<rect x="523.50" y="227.50" width="6.00" height="2.00" fill="none" stroke="#000" stroke-width="1" />
<rect x="515.50" y="231.50" width="5.00" height="2.00" fill="none" stroke="#000" stroke-width="1" />
<rect x="523.50" y="231.50" width="6.00" height="2.00" fill="none" stroke="#000" stroke-width="1" />
<rect x="515.00" y="236.00" width="6.00" height="2.00" fill="#000" stroke="none" stroke-width="0" />
<rect x="523.00" y="236.00" width="7.00" height="2.00" fill="#000" stroke="none" stroke-width="0" />
<rect x="515.00" y="240.00" width="6.00" height="2.00" fill="#000" stroke="none" stroke-width="0" />
<rect x="523.00" y="240.00" width="7.00" height="2.00" fill="#000" stroke="none" stroke-width="0" />
<rect x="515.50" y="243.50" width="5.00" height="2.00" fill="none" stroke="#000" stroke-width="1" />
<rect x="523.50" y="243.50" width="6.00" height="2.00" fill="none" stroke="#000" stroke-width="1" />
<rect x="515.50" y="247.50" width="5.00" height="2.00" fill="none" stroke="#000" stroke-width="1" />
<rect x="523.50" y="247.50" width="6.00" height="2.00" fill="none" stroke="#000" stroke-width="1" />
<rect x="515.50" y="251.50" width="5.00" height="2.00" fill="none" stroke="#000" stroke-width="1" />
<rect x="523.50" y="251.50" width="6.00" height="2.00" fill="none" stroke="#000" stroke-width="1" />
<rect x="515.50" y="255.50" width="5.00" height="2.00" fill="none" stroke="#000" stroke-width="1" />
<rect x="523.50" y="255.50" width="6.00" height="2.00" fill="none" stroke="#000" stroke-width="1" />
<rect x="515.50" y="259.50" width="5.00" height="2.00" fill="none" stroke="#000" stroke-width="1" />
<rect x="523.50" y="259.50" width="6.00" height="2.00" fill="none" stroke="#000" stroke-width="1" />
<rect x="515.50" y="263.50" width="5.00" height="2.00" fill="none" stroke="#000" stroke-width="1" />
<rect x="523.50" y="263.50" width="6.00" height="2.00" fill="none" stroke="#000" stroke-width="1" />
<rect x="515.00" y="268.00" width="6.00" height="2.00" fill="#000" stroke="none" stroke-width="0" />
<rect x="523.00" y="268.00" width="7.00" height="2.00" fill="#000" stroke="none" stroke-width="0" />
<rect x="515.50" y="271.50" width="5.00" height="2.00" fill="none" stroke="#000" stroke-width="1" />
<rect x="523.50" y="271.50" width="6.00" height="2.00" fill="none" stroke="#000" stroke-width="1" />
<rect x="515.50" y="275.50" width="5.00" height="2.00" fill="none" stroke="#000" stroke-width="1" />
<rect x="523.50" y="275.50" width="6.00" height="2.00" fill="none" stroke="#000" stroke-width="1" />
<rect x="515.50" y="279.50" width="5.00" height="2.00" fill="none" stroke="#000" stroke-width="1" />
<rect x="523.50" y="279.50" width="6.00" height="2.00" fill="none" stroke="#000" stroke-width="1" />
<rect x="515.50" y="283.50" width="5.00" height="2.00" fill="none" stroke="#000" stroke-width="1" />
<rect x="523.50" y="283.50" width="6.00" height="2.00" fill="none" stroke="#000" stroke-width="1" />
<rect x="515.50" y="287.50" width="5.00" height="2.00" fill="none" stroke="#000" stroke-width="1" />
<rect x="523.50" y="287.50" width="6.00" height="2.00" fill="none" stroke="#000" stroke-width="1" />
<rect x="515.00" y="292.00" width="6.00" height="2.00" fill="#000" stroke="none" stroke-width="0" />
<rect x="523.00" y="292.00" width="7.00" height="2.00" fill="#000" stroke="none" stroke-width="0" />
<rect x="515.50" y="295.50" width="5.00" height="2.00" fill="none" stroke="#000" stroke-width="1" />
<rect x="523.50" y="295.50" width="6.00" height="2.00" fill="none" stroke="#000" stroke-width="1" />
<rect x="515.50" y="299.50" width="5.00" height="2.00" fill="none" stroke="#000" stroke-width="1" />
<rect x="523.50" y="299.50" width="6.00" height="2.00" fill="none" stroke="#000" stroke-width="1" />
<rect x="515.50" y="303.50" width="5.00" height="2.00" fill="none" stroke="#000" stroke-width="1" />
<rect x="523.50" y="303.50" width="6.00" height="2.00" fill="none" stroke="#000" stroke-width="1" />
<rect x="515.50" y="307.50" width="5.00" height="2.00" fill="none" stroke="#000" stroke-width="1" />
<rect x="523.50" y="307.50" width="6.00" height="2.00" fill="none" stroke="#000" stroke-width="1" />
<rect x="515.50" y="311.50" width="5.00" height="2.00" fill="none" stroke="#000" stroke-width="1" />
<rect x="523.50" y="311.50" width="6.00" height="2.00" fill="none" stroke="#000" stroke-width="1" />
<rect x="515.50" y="315.50" width="5.00" height="2.00" fill="none" stroke="#000" stroke-width="1" />
<rect x="523.50" y="315.50" width="6.00" height="2.00" fill="none" stroke="#000" stroke-width="1" />
<rect x="515.50" y="319.50" width="5.00" height="2.00" fill="none" stroke="#000" stroke-width="1" />
<rect x="523.50" y="319.50" width="6.00" height="2.00" fill="none" stroke="#000" stroke-width="1" />
<rect x="515.50" y="323.50" width="5.00" height="2.00" fill="none" stroke="#000" stroke-width="1" />
<rect x="523.50" y="323.50" width="6.00" height="2.00" fill="none" stroke="#000" stroke-width="1" />
<rect x="515.00" y="328.00" width="6.00" height="2.00" fill="#000" stroke="none" stroke-width="0" />
<rect x="523.00" y="328.00" width="7.00" height="2.00" fill="#000" stroke="none" stroke-width="0" />
<rect x="515.00" y="332.00" width="6.00" height="2.00" fill="#000" stroke="none" stroke-width="0" />
<rect x="523.00" y="332.00" width="7.00" height="2.00" fill="#000" stroke="none" stroke-width="0" />
<rect x="515.00" y="336.00" width="6.00" height="2.00" fill="#000" stroke="none" stroke-width="0" />
<rect x="523.00" y="336.00" width="7.00" height="2.00" fill="#000" stroke="none" stroke-width="0" />
<rect x="515.50" y="339.50" width="5.00" height="2.00" fill="none" stroke="#000" stroke-width="1" />
<rect x="523.50" y="339.50" width="6.00" height="2.00" fill="none" stroke="#000" stroke-width="1" />
<rect x="515.50" y="343.50" width="5.00" height="2.00" fill="none" stroke="#000" stroke-width="1" />
<rect x="523.50" y="343.50" width="6.00" height="2.00" fill="none" stroke="#000" stroke-width="1" />
<rect x="515.00" y="348.00" width="6.00" height="2.00" fill="#000" stroke="none" stroke-width="0" />
<rect x="523.00" y="348.00" width="7.00" height="2.00" fill="#000" stroke="none" stroke-width="0" />
<rect x="515.50" y="351.50" width="5.00" height="2.00" fill="none" stroke="#000" stroke-width="1" />
<rect x="523.50" y="351.50" width="6.00" height="2.00" fill="none" stroke="#000" stroke-width="1" />
<rect x="515.50" y="355.50" width="5.00" height="2.00" fill="none" stroke="#000" stroke-width="1" />
<rect x="523.50" y="355.50" width="6.00" height="2.00" fill="none" stroke="#000" stroke-width="1" />
<rect x="515.50" y="359.50" width="5.00" height="2.00" fill="none" stroke="#000" stroke-width="1" />
<rect x="523.50" y="359.50" width="6.00" height="2.00" fill="none" stroke="#000" stroke-width="1" />
<rect x="515.50" y="363.50" width="5.00" height="2.00" fill="none" stroke="#000" stroke-width="1" />
<rect x="523.50" y="363.50" width="6.00" height="2.00" fill="none" stroke="#000" stroke-width="1" />
<rect x="515.50" y="367.50" width="5.00" height="2.00" fill="none" stroke="#000" stroke-width="1" />
<rect x="523.50" y="367.50" width="6.00" height="2.00" fill="none" stroke="#000" stroke-width="1" />
<rect x="515.00" y="372.00" width="6.00" height="2.00" fill="#000" stroke="none" stroke-width="0" />
<rect x="523.00" y="372.00" width="7.00" height="2.00" fill="#000" stroke="none" stroke-width="0" />
<rect x="515.00" y="376.00" width="6.00" height="2.00" fill="#000" stroke="none" stroke-width="0" />
<rect x="523.00" y="376.00" width="7.00" height="2.00" fill="#000" stroke="none" stroke-width="0" />
<rect x="515.50" y="195.50" width="5.00" height="11.00" fill="none" stroke="#000" stroke-width="1" />
<rect x="523.50" y="195.50" width="6.00" height="11.00" fill="none" stroke="#000" stroke-width="1" />
<rect x="521.00" y="199.50" width="2.00" height="2.00" fill="#999" stroke="none" stroke-width="0" />
<rect x="520.50" y="198.00" width="3.00" height="5.00" fill="none" stroke="none" stroke-width="0" />
<text x="528.30" y="454.00" font-size="9.4" text-anchor="start" fill="#0a0a14" font-weight="normal" stroke="#0a0a14" stroke-width="0.06" transform="rotate(-90 528.30 454.00)" textLength="29.5" lengthAdjust="spacingAndGlyphs" >DIMM3</text>
<rect x="536.50" y="28.50" width="20.00" height="384.00" fill="#fff" stroke="#000" stroke-width="1" />
<line x1="536.00" y1="55.50" x2="557.00" y2="55.50" stroke="#000" stroke-width="1"/>
<line x1="536.00" y1="386.50" x2="557.00" y2="386.50" stroke="#000" stroke-width="1"/>
<rect x="545.00" y="55.50" width="2.00" height="330.50" fill="#d6d6d6" stroke="none" stroke-width="0" />
<line x1="544.50" y1="55.50" x2="544.50" y2="386.00" stroke="#000" stroke-width="1"/>
<line x1="547.50" y1="55.50" x2="547.50" y2="386.00" stroke="#000" stroke-width="1"/>
<rect x="539.00" y="63.00" width="6.00" height="2.00" fill="#000" stroke="none" stroke-width="0" />
<rect x="547.00" y="63.00" width="8.00" height="2.00" fill="#000" stroke="none" stroke-width="0" />
<rect x="539.50" y="66.50" width="5.00" height="2.00" fill="none" stroke="#000" stroke-width="1" />
<rect x="547.50" y="66.50" width="7.00" height="2.00" fill="none" stroke="#000" stroke-width="1" />
<rect x="539.50" y="70.50" width="5.00" height="2.00" fill="none" stroke="#000" stroke-width="1" />
<rect x="547.50" y="70.50" width="7.00" height="2.00" fill="none" stroke="#000" stroke-width="1" />
<rect x="539.50" y="74.50" width="5.00" height="2.00" fill="none" stroke="#000" stroke-width="1" />
<rect x="547.50" y="74.50" width="7.00" height="2.00" fill="none" stroke="#000" stroke-width="1" />
<rect x="539.50" y="78.50" width="5.00" height="2.00" fill="none" stroke="#000" stroke-width="1" />
<rect x="547.50" y="78.50" width="7.00" height="2.00" fill="none" stroke="#000" stroke-width="1" />
<rect x="539.50" y="82.50" width="5.00" height="2.00" fill="none" stroke="#000" stroke-width="1" />
<rect x="547.50" y="82.50" width="7.00" height="2.00" fill="none" stroke="#000" stroke-width="1" />
<rect x="539.50" y="86.50" width="5.00" height="2.00" fill="none" stroke="#000" stroke-width="1" />
<rect x="547.50" y="86.50" width="7.00" height="2.00" fill="none" stroke="#000" stroke-width="1" />
<rect x="539.00" y="91.00" width="6.00" height="2.00" fill="#000" stroke="none" stroke-width="0" />
<rect x="547.00" y="91.00" width="8.00" height="2.00" fill="#000" stroke="none" stroke-width="0" />
<rect x="539.50" y="94.50" width="5.00" height="2.00" fill="none" stroke="#000" stroke-width="1" />
<rect x="547.50" y="94.50" width="7.00" height="2.00" fill="none" stroke="#000" stroke-width="1" />
<rect x="539.50" y="98.50" width="5.00" height="2.00" fill="none" stroke="#000" stroke-width="1" />
<rect x="547.50" y="98.50" width="7.00" height="2.00" fill="none" stroke="#000" stroke-width="1" />
<rect x="539.50" y="102.50" width="5.00" height="2.00" fill="none" stroke="#000" stroke-width="1" />
<rect x="547.50" y="102.50" width="7.00" height="2.00" fill="none" stroke="#000" stroke-width="1" />
<rect x="539.50" y="106.50" width="5.00" height="2.00" fill="none" stroke="#000" stroke-width="1" />
<rect x="547.50" y="106.50" width="7.00" height="2.00" fill="none" stroke="#000" stroke-width="1" />
<rect x="539.50" y="110.50" width="5.00" height="2.00" fill="none" stroke="#000" stroke-width="1" />
<rect x="547.50" y="110.50" width="7.00" height="2.00" fill="none" stroke="#000" stroke-width="1" />
<rect x="539.50" y="114.50" width="5.00" height="2.00" fill="none" stroke="#000" stroke-width="1" />
<rect x="547.50" y="114.50" width="7.00" height="2.00" fill="none" stroke="#000" stroke-width="1" />
<rect x="539.00" y="119.00" width="6.00" height="2.00" fill="#000" stroke="none" stroke-width="0" />
<rect x="547.00" y="119.00" width="8.00" height="2.00" fill="#000" stroke="none" stroke-width="0" />
<rect x="539.50" y="122.50" width="5.00" height="2.00" fill="none" stroke="#000" stroke-width="1" />
<rect x="547.50" y="122.50" width="7.00" height="2.00" fill="none" stroke="#000" stroke-width="1" />
<rect x="539.50" y="126.50" width="5.00" height="2.00" fill="none" stroke="#000" stroke-width="1" />
<rect x="547.50" y="126.50" width="7.00" height="2.00" fill="none" stroke="#000" stroke-width="1" />
<rect x="539.50" y="130.50" width="5.00" height="2.00" fill="none" stroke="#000" stroke-width="1" />
<rect x="547.50" y="130.50" width="7.00" height="2.00" fill="none" stroke="#000" stroke-width="1" />
<rect x="539.50" y="134.50" width="5.00" height="2.00" fill="none" stroke="#000" stroke-width="1" />
<rect x="547.50" y="134.50" width="7.00" height="2.00" fill="none" stroke="#000" stroke-width="1" />
<rect x="539.50" y="138.50" width="5.00" height="2.00" fill="none" stroke="#000" stroke-width="1" />
<rect x="547.50" y="138.50" width="7.00" height="2.00" fill="none" stroke="#000" stroke-width="1" />
<rect x="539.50" y="142.50" width="5.00" height="2.00" fill="none" stroke="#000" stroke-width="1" />
<rect x="547.50" y="142.50" width="7.00" height="2.00" fill="none" stroke="#000" stroke-width="1" />
<rect x="539.50" y="146.50" width="5.00" height="2.00" fill="none" stroke="#000" stroke-width="1" />
<rect x="547.50" y="146.50" width="7.00" height="2.00" fill="none" stroke="#000" stroke-width="1" />
<rect x="539.50" y="150.50" width="5.00" height="2.00" fill="none" stroke="#000" stroke-width="1" />
<rect x="547.50" y="150.50" width="7.00" height="2.00" fill="none" stroke="#000" stroke-width="1" />
<rect x="539.50" y="154.50" width="5.00" height="2.00" fill="none" stroke="#000" stroke-width="1" />
<rect x="547.50" y="154.50" width="7.00" height="2.00" fill="none" stroke="#000" stroke-width="1" />
<rect x="539.50" y="158.50" width="5.00" height="2.00" fill="none" stroke="#000" stroke-width="1" />
<rect x="547.50" y="158.50" width="7.00" height="2.00" fill="none" stroke="#000" stroke-width="1" />
<rect x="539.00" y="163.00" width="6.00" height="2.00" fill="#000" stroke="none" stroke-width="0" />
<rect x="547.00" y="163.00" width="8.00" height="2.00" fill="#000" stroke="none" stroke-width="0" />
<rect x="539.50" y="166.50" width="5.00" height="2.00" fill="none" stroke="#000" stroke-width="1" />
<rect x="547.50" y="166.50" width="7.00" height="2.00" fill="none" stroke="#000" stroke-width="1" />
<rect x="539.00" y="171.00" width="6.00" height="2.00" fill="#000" stroke="none" stroke-width="0" />
<rect x="547.00" y="171.00" width="8.00" height="2.00" fill="#000" stroke="none" stroke-width="0" />
<rect x="539.00" y="175.00" width="6.00" height="2.00" fill="#000" stroke="none" stroke-width="0" />
<rect x="547.00" y="175.00" width="8.00" height="2.00" fill="#000" stroke="none" stroke-width="0" />
<rect x="539.50" y="178.50" width="5.00" height="2.00" fill="none" stroke="#000" stroke-width="1" />
<rect x="547.50" y="178.50" width="7.00" height="2.00" fill="none" stroke="#000" stroke-width="1" />
<rect x="539.00" y="183.00" width="6.00" height="2.00" fill="#000" stroke="none" stroke-width="0" />
<rect x="547.00" y="183.00" width="8.00" height="2.00" fill="#000" stroke="none" stroke-width="0" />
<rect x="539.50" y="186.50" width="5.00" height="2.00" fill="none" stroke="#000" stroke-width="1" />
<rect x="547.50" y="186.50" width="7.00" height="2.00" fill="none" stroke="#000" stroke-width="1" />
<rect x="539.00" y="191.00" width="6.00" height="2.00" fill="#000" stroke="none" stroke-width="0" />
<rect x="547.00" y="191.00" width="8.00" height="2.00" fill="#000" stroke="none" stroke-width="0" />
<rect x="539.00" y="207.00" width="6.00" height="2.00" fill="#000" stroke="none" stroke-width="0" />
<rect x="547.00" y="207.00" width="8.00" height="2.00" fill="#000" stroke="none" stroke-width="0" />
<rect x="539.50" y="210.50" width="5.00" height="2.00" fill="none" stroke="#000" stroke-width="1" />
<rect x="547.50" y="210.50" width="7.00" height="2.00" fill="none" stroke="#000" stroke-width="1" />
<rect x="539.50" y="214.50" width="5.00" height="2.00" fill="none" stroke="#000" stroke-width="1" />
<rect x="547.50" y="214.50" width="7.00" height="2.00" fill="none" stroke="#000" stroke-width="1" />
<rect x="539.50" y="218.50" width="5.00" height="2.00" fill="none" stroke="#000" stroke-width="1" />
<rect x="547.50" y="218.50" width="7.00" height="2.00" fill="none" stroke="#000" stroke-width="1" />
<rect x="539.50" y="222.50" width="5.00" height="2.00" fill="none" stroke="#000" stroke-width="1" />
<rect x="547.50" y="222.50" width="7.00" height="2.00" fill="none" stroke="#000" stroke-width="1" />
<rect x="539.00" y="227.00" width="6.00" height="2.00" fill="#000" stroke="none" stroke-width="0" />
<rect x="547.00" y="227.00" width="8.00" height="2.00" fill="#000" stroke="none" stroke-width="0" />
<rect x="539.50" y="230.50" width="5.00" height="2.00" fill="none" stroke="#000" stroke-width="1" />
<rect x="547.50" y="230.50" width="7.00" height="2.00" fill="none" stroke="#000" stroke-width="1" />
<rect x="539.50" y="234.50" width="5.00" height="2.00" fill="none" stroke="#000" stroke-width="1" />
<rect x="547.50" y="234.50" width="7.00" height="2.00" fill="none" stroke="#000" stroke-width="1" />
<rect x="539.50" y="238.50" width="5.00" height="2.00" fill="none" stroke="#000" stroke-width="1" />
<rect x="547.50" y="238.50" width="7.00" height="2.00" fill="none" stroke="#000" stroke-width="1" />
<rect x="539.50" y="242.50" width="5.00" height="2.00" fill="none" stroke="#000" stroke-width="1" />
<rect x="547.50" y="242.50" width="7.00" height="2.00" fill="none" stroke="#000" stroke-width="1" />
<rect x="539.50" y="246.50" width="5.00" height="2.00" fill="none" stroke="#000" stroke-width="1" />
<rect x="547.50" y="246.50" width="7.00" height="2.00" fill="none" stroke="#000" stroke-width="1" />
<rect x="539.50" y="250.50" width="5.00" height="2.00" fill="none" stroke="#000" stroke-width="1" />
<rect x="547.50" y="250.50" width="7.00" height="2.00" fill="none" stroke="#000" stroke-width="1" />
<rect x="539.50" y="254.50" width="5.00" height="2.00" fill="none" stroke="#000" stroke-width="1" />
<rect x="547.50" y="254.50" width="7.00" height="2.00" fill="none" stroke="#000" stroke-width="1" />
<rect x="539.50" y="258.50" width="5.00" height="2.00" fill="none" stroke="#000" stroke-width="1" />
<rect x="547.50" y="258.50" width="7.00" height="2.00" fill="none" stroke="#000" stroke-width="1" />
<rect x="539.50" y="262.50" width="5.00" height="2.00" fill="none" stroke="#000" stroke-width="1" />
<rect x="547.50" y="262.50" width="7.00" height="2.00" fill="none" stroke="#000" stroke-width="1" />
<rect x="539.50" y="266.50" width="5.00" height="2.00" fill="none" stroke="#000" stroke-width="1" />
<rect x="547.50" y="266.50" width="7.00" height="2.00" fill="none" stroke="#000" stroke-width="1" />
<rect x="539.50" y="270.50" width="5.00" height="2.00" fill="none" stroke="#000" stroke-width="1" />
<rect x="547.50" y="270.50" width="7.00" height="2.00" fill="none" stroke="#000" stroke-width="1" />
<rect x="539.50" y="274.50" width="5.00" height="2.00" fill="none" stroke="#000" stroke-width="1" />
<rect x="547.50" y="274.50" width="7.00" height="2.00" fill="none" stroke="#000" stroke-width="1" />
<rect x="539.50" y="278.50" width="5.00" height="2.00" fill="none" stroke="#000" stroke-width="1" />
<rect x="547.50" y="278.50" width="7.00" height="2.00" fill="none" stroke="#000" stroke-width="1" />
<rect x="539.50" y="282.50" width="5.00" height="2.00" fill="none" stroke="#000" stroke-width="1" />
<rect x="547.50" y="282.50" width="7.00" height="2.00" fill="none" stroke="#000" stroke-width="1" />
<rect x="539.50" y="286.50" width="5.00" height="2.00" fill="none" stroke="#000" stroke-width="1" />
<rect x="547.50" y="286.50" width="7.00" height="2.00" fill="none" stroke="#000" stroke-width="1" />
<rect x="539.50" y="290.50" width="5.00" height="2.00" fill="none" stroke="#000" stroke-width="1" />
<rect x="547.50" y="290.50" width="7.00" height="2.00" fill="none" stroke="#000" stroke-width="1" />
<rect x="539.50" y="294.50" width="5.00" height="2.00" fill="none" stroke="#000" stroke-width="1" />
<rect x="547.50" y="294.50" width="7.00" height="2.00" fill="none" stroke="#000" stroke-width="1" />
<rect x="539.50" y="298.50" width="5.00" height="2.00" fill="none" stroke="#000" stroke-width="1" />
<rect x="547.50" y="298.50" width="7.00" height="2.00" fill="none" stroke="#000" stroke-width="1" />
<rect x="539.50" y="302.50" width="5.00" height="2.00" fill="none" stroke="#000" stroke-width="1" />
<rect x="547.50" y="302.50" width="7.00" height="2.00" fill="none" stroke="#000" stroke-width="1" />
<rect x="539.50" y="306.50" width="5.00" height="2.00" fill="none" stroke="#000" stroke-width="1" />
<rect x="547.50" y="306.50" width="7.00" height="2.00" fill="none" stroke="#000" stroke-width="1" />
<rect x="539.50" y="310.50" width="5.00" height="2.00" fill="none" stroke="#000" stroke-width="1" />
<rect x="547.50" y="310.50" width="7.00" height="2.00" fill="none" stroke="#000" stroke-width="1" />
<rect x="539.50" y="314.50" width="5.00" height="2.00" fill="none" stroke="#000" stroke-width="1" />
<rect x="547.50" y="314.50" width="7.00" height="2.00" fill="none" stroke="#000" stroke-width="1" />
<rect x="539.50" y="318.50" width="5.00" height="2.00" fill="none" stroke="#000" stroke-width="1" />
<rect x="547.50" y="318.50" width="7.00" height="2.00" fill="none" stroke="#000" stroke-width="1" />
<rect x="539.50" y="322.50" width="5.00" height="2.00" fill="none" stroke="#000" stroke-width="1" />
<rect x="547.50" y="322.50" width="7.00" height="2.00" fill="none" stroke="#000" stroke-width="1" />
<rect x="539.00" y="327.00" width="6.00" height="2.00" fill="#000" stroke="none" stroke-width="0" />
<rect x="547.00" y="327.00" width="8.00" height="2.00" fill="#000" stroke="none" stroke-width="0" />
<rect x="539.00" y="331.00" width="6.00" height="2.00" fill="#000" stroke="none" stroke-width="0" />
<rect x="547.00" y="331.00" width="8.00" height="2.00" fill="#000" stroke="none" stroke-width="0" />
<rect x="539.50" y="334.50" width="5.00" height="2.00" fill="none" stroke="#000" stroke-width="1" />
<rect x="547.50" y="334.50" width="7.00" height="2.00" fill="none" stroke="#000" stroke-width="1" />
<rect x="539.00" y="339.00" width="6.00" height="2.00" fill="#000" stroke="none" stroke-width="0" />
<rect x="547.00" y="339.00" width="8.00" height="2.00" fill="#000" stroke="none" stroke-width="0" />
<rect x="539.50" y="342.50" width="5.00" height="2.00" fill="none" stroke="#000" stroke-width="1" />
<rect x="547.50" y="342.50" width="7.00" height="2.00" fill="none" stroke="#000" stroke-width="1" />
<rect x="539.00" y="347.00" width="6.00" height="2.00" fill="#000" stroke="none" stroke-width="0" />
<rect x="547.00" y="347.00" width="8.00" height="2.00" fill="#000" stroke="none" stroke-width="0" />
<rect x="539.50" y="350.50" width="5.00" height="2.00" fill="none" stroke="#000" stroke-width="1" />
<rect x="547.50" y="350.50" width="7.00" height="2.00" fill="none" stroke="#000" stroke-width="1" />
<rect x="539.50" y="354.50" width="5.00" height="2.00" fill="none" stroke="#000" stroke-width="1" />
<rect x="547.50" y="354.50" width="7.00" height="2.00" fill="none" stroke="#000" stroke-width="1" />
<rect x="539.50" y="358.50" width="5.00" height="2.00" fill="none" stroke="#000" stroke-width="1" />
<rect x="547.50" y="358.50" width="7.00" height="2.00" fill="none" stroke="#000" stroke-width="1" />
<rect x="539.00" y="363.00" width="6.00" height="2.00" fill="#000" stroke="none" stroke-width="0" />
<rect x="547.00" y="363.00" width="8.00" height="2.00" fill="#000" stroke="none" stroke-width="0" />
<rect x="539.50" y="366.50" width="5.00" height="2.00" fill="none" stroke="#000" stroke-width="1" />
<rect x="547.50" y="366.50" width="7.00" height="2.00" fill="none" stroke="#000" stroke-width="1" />
<rect x="539.50" y="370.50" width="5.00" height="2.00" fill="none" stroke="#000" stroke-width="1" />
<rect x="547.50" y="370.50" width="7.00" height="2.00" fill="none" stroke="#000" stroke-width="1" />
<rect x="539.00" y="375.00" width="6.00" height="2.00" fill="#000" stroke="none" stroke-width="0" />
<rect x="547.00" y="375.00" width="8.00" height="2.00" fill="#000" stroke="none" stroke-width="0" />
<rect x="539.50" y="194.50" width="5.00" height="11.00" fill="none" stroke="#000" stroke-width="1" />
<rect x="547.50" y="194.50" width="7.00" height="11.00" fill="none" stroke="#000" stroke-width="1" />
<rect x="545.00" y="198.50" width="2.00" height="2.00" fill="#999" stroke="none" stroke-width="0" />
<rect x="544.50" y="197.00" width="3.00" height="5.00" fill="none" stroke="none" stroke-width="0" />
<text x="552.30" y="454.00" font-size="9.4" text-anchor="start" fill="#0a0a14" font-weight="normal" stroke="#0a0a14" stroke-width="0.06" transform="rotate(-90 552.30 454.00)" textLength="29.5" lengthAdjust="spacingAndGlyphs" >DIMM4</text>
<rect x="273.40" y="130.40" width="136.10" height="112.30" fill="#fff" stroke="#000" stroke-width="1.3" />
<line x1="385.60" y1="130.40" x2="385.60" y2="242.70" stroke="#000" stroke-width="0.9"/>
<line x1="388.20" y1="130.40" x2="388.20" y2="242.70" stroke="#000" stroke-width="1.4"/>
<path d="M321.4,130.4 L321.4,132.3 Q321.4,133.5 323,133.5 L338,133.5 Q339.6,133.5 339.6,132.3 L339.6,130.4" fill="none" stroke="#000" stroke-width="0.9"/>
<rect x="275.20" y="132.50" width="16.50" height="1.70" fill="none" stroke="#000" stroke-width="0.9" />
<rect x="368.20" y="132.50" width="17.10" height="1.70" fill="none" stroke="#000" stroke-width="0.9" />
<rect x="275.70" y="239.40" width="16.00" height="2.20" fill="none" stroke="#000" stroke-width="0.9" />
<rect x="368.00" y="239.40" width="16.00" height="2.20" fill="none" stroke="#000" stroke-width="0.9" />
<path d="M321.4,242.7 L321.4,240.8 Q321.4,239.8 323,239.8 L337,239.8 Q338.5,239.8 338.5,240.8 L338.5,242.7" fill="none" stroke="#000" stroke-width="0.9"/>
<path d="M284.8,135.4 L375.8,135.4 L383,142.9 L383,231.5 L374.8,237.6 L280.3,237.6 L276.4,231.4 L276.4,143.3 Z" fill="none" stroke="#000" stroke-width="1.0"/>
<path d="M275.3,136.4 L281.4,136.4 L275.3,142.1 Z" fill="none" stroke="#000" stroke-width="0.8"/>
<line x1="384.20" y1="133.00" x2="384.20" y2="139.00" stroke="#000" stroke-width="0.9"/>
<line x1="384.20" y1="144.00" x2="384.20" y2="160.00" stroke="#000" stroke-width="0.9"/>
<line x1="384.20" y1="164.00" x2="384.20" y2="174.00" stroke="#000" stroke-width="0.9"/>
<line x1="384.20" y1="178.00" x2="384.20" y2="194.00" stroke="#000" stroke-width="0.9"/>
<line x1="384.20" y1="199.00" x2="384.20" y2="211.00" stroke="#000" stroke-width="0.9"/>
<line x1="384.20" y1="215.00" x2="384.20" y2="229.00" stroke="#000" stroke-width="0.9"/>
<line x1="384.20" y1="233.00" x2="384.20" y2="240.00" stroke="#000" stroke-width="0.9"/>
<rect x="395.40" y="132.60" width="4.80" height="18.50" fill="none" stroke="#000" stroke-width="1.0" />
<rect x="404.40" y="140.50" width="2.90" height="7.70" fill="none" stroke="#000" stroke-width="0.8" />
<rect x="404.40" y="180.70" width="2.90" height="7.20" fill="none" stroke="#000" stroke-width="0.8" />
<rect x="404.40" y="219.40" width="2.90" height="8.70" fill="none" stroke="#000" stroke-width="0.8" />
<rect x="390.30" y="153.10" width="12.10" height="71.10" fill="none" stroke="#000" stroke-width="1.0" />
<rect x="390.30" y="229.60" width="17.00" height="11.60" fill="none" stroke="#000" stroke-width="1.0" />
<text x="393.90" y="158.40" font-size="9.8" text-anchor="start" fill="#222" font-weight="normal" stroke="#222" stroke-width="0.06" transform="rotate(90 393.90 158.40)" textLength="62" lengthAdjust="spacingAndGlyphs" >SOCKET AM3</text>
<path d="M409.5,242.7 L409.5,250.4 L270.5,250.4 Q266.6,250.4 266.6,246.6 Q266.6,242.7 270.5,242.7 Z" fill="#fff" stroke="#000" stroke-width="1.1"/>
<line x1="272.00" y1="244.60" x2="332.00" y2="244.60" stroke="#666" stroke-width="0.6"/>
<path d="M302.6,250.4 L302.6,252.4 L319,252.4 L319,250.4" fill="none" stroke="#000" stroke-width="0.9"/>
<rect x="286.44" y="139.05" width="2.6" height="2.9" rx="1.2" fill="none" stroke="#000" stroke-width="1.05"/>
<rect x="291.31" y="139.05" width="2.6" height="2.9" rx="1.2" fill="none" stroke="#000" stroke-width="1.05"/>
<rect x="296.18" y="139.05" width="2.6" height="2.9" rx="1.2" fill="none" stroke="#000" stroke-width="1.05"/>
<rect x="301.05" y="139.05" width="2.6" height="2.9" rx="1.2" fill="none" stroke="#000" stroke-width="1.05"/>
<rect x="305.92" y="139.05" width="2.6" height="2.9" rx="1.2" fill="none" stroke="#000" stroke-width="1.05"/>
<rect x="310.79" y="139.05" width="2.6" height="2.9" rx="1.2" fill="none" stroke="#000" stroke-width="1.05"/>
<rect x="315.66" y="139.05" width="2.6" height="2.9" rx="1.2" fill="none" stroke="#000" stroke-width="1.05"/>
<rect x="320.53" y="139.05" width="2.6" height="2.9" rx="1.2" fill="none" stroke="#000" stroke-width="1.05"/>
<rect x="325.40" y="139.05" width="2.6" height="2.9" rx="1.2" fill="none" stroke="#000" stroke-width="1.05"/>
<rect x="330.27" y="139.05" width="2.6" height="2.9" rx="1.2" fill="none" stroke="#000" stroke-width="1.05"/>
<rect x="335.14" y="139.05" width="2.6" height="2.9" rx="1.2" fill="none" stroke="#000" stroke-width="1.05"/>
<rect x="340.01" y="139.05" width="2.6" height="2.9" rx="1.2" fill="none" stroke="#000" stroke-width="1.05"/>
<rect x="344.88" y="139.05" width="2.6" height="2.9" rx="1.2" fill="none" stroke="#000" stroke-width="1.05"/>
<rect x="349.75" y="139.05" width="2.6" height="2.9" rx="1.2" fill="none" stroke="#000" stroke-width="1.05"/>
<rect x="354.62" y="139.05" width="2.6" height="2.9" rx="1.2" fill="none" stroke="#000" stroke-width="1.05"/>
<rect x="359.59" y="139.20" width="2.40" height="2.60" fill="none" stroke="#000" stroke-width="1.1" />
<rect x="364.36" y="139.05" width="2.6" height="2.9" rx="1.2" fill="none" stroke="#000" stroke-width="1.05"/>
<rect x="369.23" y="139.05" width="2.6" height="2.9" rx="1.2" fill="none" stroke="#000" stroke-width="1.05"/>
<rect x="286.54" y="144.40" width="2.40" height="2.60" fill="none" stroke="#000" stroke-width="1.1" />
<rect x="291.31" y="144.25" width="2.6" height="2.9" rx="1.2" fill="none" stroke="#000" stroke-width="1.05"/>
<rect x="296.18" y="144.25" width="2.6" height="2.9" rx="1.2" fill="none" stroke="#000" stroke-width="1.05"/>
<rect x="301.05" y="144.25" width="2.6" height="2.9" rx="1.2" fill="none" stroke="#000" stroke-width="1.05"/>
<rect x="306.02" y="144.40" width="2.40" height="2.60" fill="none" stroke="#000" stroke-width="1.1" />
<rect x="310.79" y="144.25" width="2.6" height="2.9" rx="1.2" fill="none" stroke="#000" stroke-width="1.05"/>
<rect x="315.66" y="144.25" width="2.6" height="2.9" rx="1.2" fill="none" stroke="#000" stroke-width="1.05"/>
<rect x="320.53" y="144.25" width="2.6" height="2.9" rx="1.2" fill="none" stroke="#000" stroke-width="1.05"/>
<rect x="325.50" y="144.40" width="2.40" height="2.60" fill="none" stroke="#000" stroke-width="1.1" />
<rect x="330.27" y="144.25" width="2.6" height="2.9" rx="1.2" fill="none" stroke="#000" stroke-width="1.05"/>
<rect x="335.24" y="144.40" width="2.40" height="2.60" fill="none" stroke="#000" stroke-width="1.1" />
<rect x="340.01" y="144.25" width="2.6" height="2.9" rx="1.2" fill="none" stroke="#000" stroke-width="1.05"/>
<rect x="344.88" y="144.25" width="2.6" height="2.9" rx="1.2" fill="none" stroke="#000" stroke-width="1.05"/>
<rect x="349.85" y="144.40" width="2.40" height="2.60" fill="none" stroke="#000" stroke-width="1.1" />
<rect x="354.62" y="144.25" width="2.6" height="2.9" rx="1.2" fill="none" stroke="#000" stroke-width="1.05"/>
<rect x="359.49" y="144.25" width="2.6" height="2.9" rx="1.2" fill="none" stroke="#000" stroke-width="1.05"/>
<rect x="364.36" y="144.25" width="2.6" height="2.9" rx="1.2" fill="none" stroke="#000" stroke-width="1.05"/>
<rect x="369.23" y="144.25" width="2.6" height="2.9" rx="1.2" fill="none" stroke="#000" stroke-width="1.05"/>
<rect x="374.20" y="144.40" width="2.40" height="2.60" fill="none" stroke="#000" stroke-width="1.1" />
<rect x="276.70" y="149.45" width="2.6" height="2.9" rx="1.2" fill="none" stroke="#000" stroke-width="1.05"/>
<rect x="281.57" y="149.45" width="2.6" height="2.9" rx="1.2" fill="none" stroke="#000" stroke-width="1.05"/>
<rect x="286.44" y="149.45" width="2.6" height="2.9" rx="1.2" fill="none" stroke="#000" stroke-width="1.05"/>
<rect x="291.41" y="149.60" width="2.40" height="2.60" fill="none" stroke="#000" stroke-width="1.1" />
<rect x="296.28" y="149.60" width="2.40" height="2.60" fill="none" stroke="#000" stroke-width="1.1" />
<rect x="301.05" y="149.45" width="2.6" height="2.9" rx="1.2" fill="none" stroke="#000" stroke-width="1.05"/>
<rect x="305.92" y="149.45" width="2.6" height="2.9" rx="1.2" fill="none" stroke="#000" stroke-width="1.05"/>
<rect x="310.89" y="149.60" width="2.40" height="2.60" fill="none" stroke="#000" stroke-width="1.1" />
<rect x="315.66" y="149.45" width="2.6" height="2.9" rx="1.2" fill="none" stroke="#000" stroke-width="1.05"/>
<rect x="320.53" y="149.45" width="2.6" height="2.9" rx="1.2" fill="none" stroke="#000" stroke-width="1.05"/>
<rect x="325.40" y="149.45" width="2.6" height="2.9" rx="1.2" fill="none" stroke="#000" stroke-width="1.05"/>
<rect x="330.37" y="149.60" width="2.40" height="2.60" fill="none" stroke="#000" stroke-width="1.1" />
<rect x="335.14" y="149.45" width="2.6" height="2.9" rx="1.2" fill="none" stroke="#000" stroke-width="1.05"/>
<rect x="340.11" y="149.60" width="2.40" height="2.60" fill="none" stroke="#000" stroke-width="1.1" />
<rect x="344.88" y="149.45" width="2.6" height="2.9" rx="1.2" fill="none" stroke="#000" stroke-width="1.05"/>
<rect x="349.75" y="149.45" width="2.6" height="2.9" rx="1.2" fill="none" stroke="#000" stroke-width="1.05"/>
<rect x="354.62" y="149.45" width="2.6" height="2.9" rx="1.2" fill="none" stroke="#000" stroke-width="1.05"/>
<rect x="359.49" y="149.45" width="2.6" height="2.9" rx="1.2" fill="none" stroke="#000" stroke-width="1.05"/>
<rect x="364.36" y="149.45" width="2.6" height="2.9" rx="1.2" fill="none" stroke="#000" stroke-width="1.05"/>
<rect x="369.23" y="149.45" width="2.6" height="2.9" rx="1.2" fill="none" stroke="#000" stroke-width="1.05"/>
<rect x="374.20" y="149.60" width="2.40" height="2.60" fill="none" stroke="#000" stroke-width="1.1" />
<rect x="378.97" y="149.45" width="2.6" height="2.9" rx="1.2" fill="none" stroke="#000" stroke-width="1.05"/>
<rect x="276.70" y="154.65" width="2.6" height="2.9" rx="1.2" fill="none" stroke="#000" stroke-width="1.05"/>
<rect x="281.67" y="154.80" width="2.40" height="2.60" fill="none" stroke="#000" stroke-width="1.1" />
<rect x="286.44" y="154.65" width="2.6" height="2.9" rx="1.2" fill="none" stroke="#000" stroke-width="1.05"/>
<rect x="291.41" y="154.80" width="2.40" height="2.60" fill="none" stroke="#000" stroke-width="1.1" />
<rect x="296.18" y="154.65" width="2.6" height="2.9" rx="1.2" fill="none" stroke="#000" stroke-width="1.05"/>
<rect x="301.05" y="154.65" width="2.6" height="2.9" rx="1.2" fill="none" stroke="#000" stroke-width="1.05"/>
<rect x="305.92" y="154.65" width="2.6" height="2.9" rx="1.2" fill="none" stroke="#000" stroke-width="1.05"/>
<rect x="310.79" y="154.65" width="2.6" height="2.9" rx="1.2" fill="none" stroke="#000" stroke-width="1.05"/>
<rect x="315.66" y="154.65" width="2.6" height="2.9" rx="1.2" fill="none" stroke="#000" stroke-width="1.05"/>
<rect x="320.53" y="154.65" width="2.6" height="2.9" rx="1.2" fill="none" stroke="#000" stroke-width="1.05"/>
<rect x="325.40" y="154.65" width="2.6" height="2.9" rx="1.2" fill="none" stroke="#000" stroke-width="1.05"/>
<rect x="330.27" y="154.65" width="2.6" height="2.9" rx="1.2" fill="none" stroke="#000" stroke-width="1.05"/>
<rect x="335.24" y="154.80" width="2.40" height="2.60" fill="none" stroke="#000" stroke-width="1.1" />
<rect x="340.01" y="154.65" width="2.6" height="2.9" rx="1.2" fill="none" stroke="#000" stroke-width="1.05"/>
<rect x="344.98" y="154.80" width="2.40" height="2.60" fill="none" stroke="#000" stroke-width="1.1" />
<rect x="349.75" y="154.65" width="2.6" height="2.9" rx="1.2" fill="none" stroke="#000" stroke-width="1.05"/>
<rect x="354.62" y="154.65" width="2.6" height="2.9" rx="1.2" fill="none" stroke="#000" stroke-width="1.05"/>
<rect x="359.49" y="154.65" width="2.6" height="2.9" rx="1.2" fill="none" stroke="#000" stroke-width="1.05"/>
<rect x="364.36" y="154.65" width="2.6" height="2.9" rx="1.2" fill="none" stroke="#000" stroke-width="1.05"/>
<rect x="369.23" y="154.65" width="2.6" height="2.9" rx="1.2" fill="none" stroke="#000" stroke-width="1.05"/>
<rect x="374.20" y="154.80" width="2.40" height="2.60" fill="none" stroke="#000" stroke-width="1.1" />
<rect x="378.97" y="154.65" width="2.6" height="2.9" rx="1.2" fill="none" stroke="#000" stroke-width="1.05"/>
<rect x="276.70" y="159.85" width="2.6" height="2.9" rx="1.2" fill="none" stroke="#000" stroke-width="1.05"/>
<rect x="281.57" y="159.85" width="2.6" height="2.9" rx="1.2" fill="none" stroke="#000" stroke-width="1.05"/>
<rect x="286.44" y="159.85" width="2.6" height="2.9" rx="1.2" fill="none" stroke="#000" stroke-width="1.05"/>
<rect x="291.31" y="159.85" width="2.6" height="2.9" rx="1.2" fill="none" stroke="#000" stroke-width="1.05"/>
<rect x="296.18" y="159.85" width="2.6" height="2.9" rx="1.2" fill="none" stroke="#000" stroke-width="1.05"/>
<rect x="301.05" y="159.85" width="2.6" height="2.9" rx="1.2" fill="none" stroke="#000" stroke-width="1.05"/>
<rect x="305.92" y="159.85" width="2.6" height="2.9" rx="1.2" fill="none" stroke="#000" stroke-width="1.05"/>
<rect x="310.79" y="159.85" width="2.6" height="2.9" rx="1.2" fill="none" stroke="#000" stroke-width="1.05"/>
<rect x="315.66" y="159.85" width="2.6" height="2.9" rx="1.2" fill="none" stroke="#000" stroke-width="1.05"/>
<rect x="320.53" y="159.85" width="2.6" height="2.9" rx="1.2" fill="none" stroke="#000" stroke-width="1.05"/>
<rect x="325.40" y="159.85" width="2.6" height="2.9" rx="1.2" fill="none" stroke="#000" stroke-width="1.05"/>
<rect x="330.27" y="159.85" width="2.6" height="2.9" rx="1.2" fill="none" stroke="#000" stroke-width="1.05"/>
<rect x="335.14" y="159.85" width="2.6" height="2.9" rx="1.2" fill="none" stroke="#000" stroke-width="1.05"/>
<rect x="340.11" y="160.00" width="2.40" height="2.60" fill="none" stroke="#000" stroke-width="1.1" />
<rect x="344.98" y="160.00" width="2.40" height="2.60" fill="none" stroke="#000" stroke-width="1.1" />
<rect x="349.85" y="160.00" width="2.40" height="2.60" fill="none" stroke="#000" stroke-width="1.1" />
<rect x="354.62" y="159.85" width="2.6" height="2.9" rx="1.2" fill="none" stroke="#000" stroke-width="1.05"/>
<rect x="359.49" y="159.85" width="2.6" height="2.9" rx="1.2" fill="none" stroke="#000" stroke-width="1.05"/>
<rect x="364.36" y="159.85" width="2.6" height="2.9" rx="1.2" fill="none" stroke="#000" stroke-width="1.05"/>
<rect x="369.33" y="160.00" width="2.40" height="2.60" fill="none" stroke="#000" stroke-width="1.1" />
<rect x="374.10" y="159.85" width="2.6" height="2.9" rx="1.2" fill="none" stroke="#000" stroke-width="1.05"/>
<rect x="378.97" y="159.85" width="2.6" height="2.9" rx="1.2" fill="none" stroke="#000" stroke-width="1.05"/>
<rect x="276.70" y="165.05" width="2.6" height="2.9" rx="1.2" fill="none" stroke="#000" stroke-width="1.05"/>
<rect x="281.57" y="165.05" width="2.6" height="2.9" rx="1.2" fill="none" stroke="#000" stroke-width="1.05"/>
<rect x="286.44" y="165.05" width="2.6" height="2.9" rx="1.2" fill="none" stroke="#000" stroke-width="1.05"/>
<rect x="291.31" y="165.05" width="2.6" height="2.9" rx="1.2" fill="none" stroke="#000" stroke-width="1.05"/>
<rect x="296.18" y="165.05" width="2.6" height="2.9" rx="1.2" fill="none" stroke="#000" stroke-width="1.05"/>
<rect x="301.05" y="165.05" width="2.6" height="2.9" rx="1.2" fill="none" stroke="#000" stroke-width="1.05"/>
<rect x="305.92" y="165.05" width="2.6" height="2.9" rx="1.2" fill="none" stroke="#000" stroke-width="1.05"/>
<rect x="310.79" y="165.05" width="2.6" height="2.9" rx="1.2" fill="none" stroke="#000" stroke-width="1.05"/>
<rect x="315.66" y="165.05" width="2.6" height="2.9" rx="1.2" fill="none" stroke="#000" stroke-width="1.05"/>
<rect x="320.53" y="165.05" width="2.6" height="2.9" rx="1.2" fill="none" stroke="#000" stroke-width="1.05"/>
<rect x="325.40" y="165.05" width="2.6" height="2.9" rx="1.2" fill="none" stroke="#000" stroke-width="1.05"/>
<rect x="330.27" y="165.05" width="2.6" height="2.9" rx="1.2" fill="none" stroke="#000" stroke-width="1.05"/>
<rect x="335.14" y="165.05" width="2.6" height="2.9" rx="1.2" fill="none" stroke="#000" stroke-width="1.05"/>
<rect x="340.01" y="165.05" width="2.6" height="2.9" rx="1.2" fill="none" stroke="#000" stroke-width="1.05"/>
<rect x="344.88" y="165.05" width="2.6" height="2.9" rx="1.2" fill="none" stroke="#000" stroke-width="1.05"/>
<rect x="349.85" y="165.20" width="2.40" height="2.60" fill="none" stroke="#000" stroke-width="1.1" />
<rect x="354.62" y="165.05" width="2.6" height="2.9" rx="1.2" fill="none" stroke="#000" stroke-width="1.05"/>
<rect x="359.49" y="165.05" width="2.6" height="2.9" rx="1.2" fill="none" stroke="#000" stroke-width="1.05"/>
<rect x="364.36" y="165.05" width="2.6" height="2.9" rx="1.2" fill="none" stroke="#000" stroke-width="1.05"/>
<rect x="369.23" y="165.05" width="2.6" height="2.9" rx="1.2" fill="none" stroke="#000" stroke-width="1.05"/>
<rect x="374.10" y="165.05" width="2.6" height="2.9" rx="1.2" fill="none" stroke="#000" stroke-width="1.05"/>
<rect x="379.07" y="165.20" width="2.40" height="2.60" fill="none" stroke="#000" stroke-width="1.1" />
<rect x="276.70" y="170.25" width="2.6" height="2.9" rx="1.2" fill="none" stroke="#000" stroke-width="1.05"/>
<rect x="281.67" y="170.40" width="2.40" height="2.60" fill="none" stroke="#000" stroke-width="1.1" />
<rect x="286.44" y="170.25" width="2.6" height="2.9" rx="1.2" fill="none" stroke="#000" stroke-width="1.05"/>
<rect x="291.41" y="170.40" width="2.40" height="2.60" fill="none" stroke="#000" stroke-width="1.1" />
<rect x="296.28" y="170.40" width="2.40" height="2.60" fill="none" stroke="#000" stroke-width="1.1" />
<rect x="301.05" y="170.25" width="2.6" height="2.9" rx="1.2" fill="none" stroke="#000" stroke-width="1.05"/>
<rect x="305.92" y="170.25" width="2.6" height="2.9" rx="1.2" fill="none" stroke="#000" stroke-width="1.05"/>
<rect x="310.79" y="170.25" width="2.6" height="2.9" rx="1.2" fill="none" stroke="#000" stroke-width="1.05"/>
<rect x="315.66" y="170.25" width="2.6" height="2.9" rx="1.2" fill="none" stroke="#000" stroke-width="1.05"/>
<rect x="320.53" y="170.25" width="2.6" height="2.9" rx="1.2" fill="none" stroke="#000" stroke-width="1.05"/>
<rect x="325.40" y="170.25" width="2.6" height="2.9" rx="1.2" fill="none" stroke="#000" stroke-width="1.05"/>
<rect x="330.27" y="170.25" width="2.6" height="2.9" rx="1.2" fill="none" stroke="#000" stroke-width="1.05"/>
<rect x="335.14" y="170.25" width="2.6" height="2.9" rx="1.2" fill="none" stroke="#000" stroke-width="1.05"/>
<rect x="340.01" y="170.25" width="2.6" height="2.9" rx="1.2" fill="none" stroke="#000" stroke-width="1.05"/>
<rect x="344.88" y="170.25" width="2.6" height="2.9" rx="1.2" fill="none" stroke="#000" stroke-width="1.05"/>
<rect x="349.75" y="170.25" width="2.6" height="2.9" rx="1.2" fill="none" stroke="#000" stroke-width="1.05"/>
<rect x="354.72" y="170.40" width="2.40" height="2.60" fill="none" stroke="#000" stroke-width="1.1" />
<rect x="359.49" y="170.25" width="2.6" height="2.9" rx="1.2" fill="none" stroke="#000" stroke-width="1.05"/>
<rect x="364.36" y="170.25" width="2.6" height="2.9" rx="1.2" fill="none" stroke="#000" stroke-width="1.05"/>
<rect x="369.33" y="170.40" width="2.40" height="2.60" fill="none" stroke="#000" stroke-width="1.1" />
<rect x="374.10" y="170.25" width="2.6" height="2.9" rx="1.2" fill="none" stroke="#000" stroke-width="1.05"/>
<rect x="378.97" y="170.25" width="2.6" height="2.9" rx="1.2" fill="none" stroke="#000" stroke-width="1.05"/>
<rect x="276.70" y="175.45" width="2.6" height="2.9" rx="1.2" fill="none" stroke="#000" stroke-width="1.05"/>
<rect x="281.57" y="175.45" width="2.6" height="2.9" rx="1.2" fill="none" stroke="#000" stroke-width="1.05"/>
<rect x="286.44" y="175.45" width="2.6" height="2.9" rx="1.2" fill="none" stroke="#000" stroke-width="1.05"/>
<rect x="291.41" y="175.60" width="2.40" height="2.60" fill="none" stroke="#000" stroke-width="1.1" />
<rect x="296.18" y="175.45" width="2.6" height="2.9" rx="1.2" fill="none" stroke="#000" stroke-width="1.05"/>
<rect x="301.05" y="175.45" width="2.6" height="2.9" rx="1.2" fill="none" stroke="#000" stroke-width="1.05"/>
<rect x="305.92" y="175.45" width="2.6" height="2.9" rx="1.2" fill="none" stroke="#000" stroke-width="1.05"/>
<rect x="310.79" y="175.45" width="2.6" height="2.9" rx="1.2" fill="none" stroke="#000" stroke-width="1.05"/>
<rect x="315.66" y="175.45" width="2.6" height="2.9" rx="1.2" fill="none" stroke="#000" stroke-width="1.05"/>
<rect x="320.53" y="175.45" width="2.6" height="2.9" rx="1.2" fill="none" stroke="#000" stroke-width="1.05"/>
<rect x="325.40" y="175.45" width="2.6" height="2.9" rx="1.2" fill="none" stroke="#000" stroke-width="1.05"/>
<rect x="330.27" y="175.45" width="2.6" height="2.9" rx="1.2" fill="none" stroke="#000" stroke-width="1.05"/>
<rect x="335.14" y="175.45" width="2.6" height="2.9" rx="1.2" fill="none" stroke="#000" stroke-width="1.05"/>
<rect x="340.01" y="175.45" width="2.6" height="2.9" rx="1.2" fill="none" stroke="#000" stroke-width="1.05"/>
<rect x="344.98" y="175.60" width="2.40" height="2.60" fill="none" stroke="#000" stroke-width="1.1" />
<rect x="349.85" y="175.60" width="2.40" height="2.60" fill="none" stroke="#000" stroke-width="1.1" />
<rect x="354.62" y="175.45" width="2.6" height="2.9" rx="1.2" fill="none" stroke="#000" stroke-width="1.05"/>
<rect x="359.59" y="175.60" width="2.40" height="2.60" fill="none" stroke="#000" stroke-width="1.1" />
<rect x="364.36" y="175.45" width="2.6" height="2.9" rx="1.2" fill="none" stroke="#000" stroke-width="1.05"/>
<rect x="369.23" y="175.45" width="2.6" height="2.9" rx="1.2" fill="none" stroke="#000" stroke-width="1.05"/>
<rect x="374.10" y="175.45" width="2.6" height="2.9" rx="1.2" fill="none" stroke="#000" stroke-width="1.05"/>
<rect x="378.97" y="175.45" width="2.6" height="2.9" rx="1.2" fill="none" stroke="#000" stroke-width="1.05"/>
<rect x="276.70" y="180.65" width="2.6" height="2.9" rx="1.2" fill="none" stroke="#000" stroke-width="1.05"/>
<rect x="281.57" y="180.65" width="2.6" height="2.9" rx="1.2" fill="none" stroke="#000" stroke-width="1.05"/>
<rect x="286.54" y="180.80" width="2.40" height="2.60" fill="none" stroke="#000" stroke-width="1.1" />
<rect x="291.31" y="180.65" width="2.6" height="2.9" rx="1.2" fill="none" stroke="#000" stroke-width="1.05"/>
<rect x="296.18" y="180.65" width="2.6" height="2.9" rx="1.2" fill="none" stroke="#000" stroke-width="1.05"/>
<rect x="301.05" y="180.65" width="2.6" height="2.9" rx="1.2" fill="none" stroke="#000" stroke-width="1.05"/>
<rect x="305.92" y="180.65" width="2.6" height="2.9" rx="1.2" fill="none" stroke="#000" stroke-width="1.05"/>
<rect x="310.79" y="180.65" width="2.6" height="2.9" rx="1.2" fill="none" stroke="#000" stroke-width="1.05"/>
<rect x="315.76" y="180.80" width="2.40" height="2.60" fill="none" stroke="#000" stroke-width="1.1" />
<rect x="320.53" y="180.65" width="2.6" height="2.9" rx="1.2" fill="none" stroke="#000" stroke-width="1.05"/>
<rect x="325.40" y="180.65" width="2.6" height="2.9" rx="1.2" fill="none" stroke="#000" stroke-width="1.05"/>
<rect x="330.37" y="180.80" width="2.40" height="2.60" fill="none" stroke="#000" stroke-width="1.1" />
<rect x="335.14" y="180.65" width="2.6" height="2.9" rx="1.2" fill="none" stroke="#000" stroke-width="1.05"/>
<rect x="340.01" y="180.65" width="2.6" height="2.9" rx="1.2" fill="none" stroke="#000" stroke-width="1.05"/>
<rect x="344.88" y="180.65" width="2.6" height="2.9" rx="1.2" fill="none" stroke="#000" stroke-width="1.05"/>
<rect x="349.75" y="180.65" width="2.6" height="2.9" rx="1.2" fill="none" stroke="#000" stroke-width="1.05"/>
<rect x="354.62" y="180.65" width="2.6" height="2.9" rx="1.2" fill="none" stroke="#000" stroke-width="1.05"/>
<rect x="359.49" y="180.65" width="2.6" height="2.9" rx="1.2" fill="none" stroke="#000" stroke-width="1.05"/>
<rect x="364.36" y="180.65" width="2.6" height="2.9" rx="1.2" fill="none" stroke="#000" stroke-width="1.05"/>
<rect x="369.23" y="180.65" width="2.6" height="2.9" rx="1.2" fill="none" stroke="#000" stroke-width="1.05"/>
<rect x="374.10" y="180.65" width="2.6" height="2.9" rx="1.2" fill="none" stroke="#000" stroke-width="1.05"/>
<rect x="378.97" y="180.65" width="2.6" height="2.9" rx="1.2" fill="none" stroke="#000" stroke-width="1.05"/>
<rect x="276.70" y="185.85" width="2.6" height="2.9" rx="1.2" fill="none" stroke="#000" stroke-width="1.05"/>
<rect x="281.57" y="185.85" width="2.6" height="2.9" rx="1.2" fill="none" stroke="#000" stroke-width="1.05"/>
<rect x="286.54" y="186.00" width="2.40" height="2.60" fill="none" stroke="#000" stroke-width="1.1" />
<rect x="291.41" y="186.00" width="2.40" height="2.60" fill="none" stroke="#000" stroke-width="1.1" />
<rect x="296.18" y="185.85" width="2.6" height="2.9" rx="1.2" fill="none" stroke="#000" stroke-width="1.05"/>
<rect x="301.05" y="185.85" width="2.6" height="2.9" rx="1.2" fill="none" stroke="#000" stroke-width="1.05"/>
<rect x="305.92" y="185.85" width="2.6" height="2.9" rx="1.2" fill="none" stroke="#000" stroke-width="1.05"/>
<rect x="310.79" y="185.85" width="2.6" height="2.9" rx="1.2" fill="none" stroke="#000" stroke-width="1.05"/>
<rect x="315.76" y="186.00" width="2.40" height="2.60" fill="none" stroke="#000" stroke-width="1.1" />
<rect x="320.63" y="186.00" width="2.40" height="2.60" fill="none" stroke="#000" stroke-width="1.1" />
<rect x="325.40" y="185.85" width="2.6" height="2.9" rx="1.2" fill="none" stroke="#000" stroke-width="1.05"/>
<rect x="330.27" y="185.85" width="2.6" height="2.9" rx="1.2" fill="none" stroke="#000" stroke-width="1.05"/>
<rect x="335.14" y="185.85" width="2.6" height="2.9" rx="1.2" fill="none" stroke="#000" stroke-width="1.05"/>
<rect x="340.01" y="185.85" width="2.6" height="2.9" rx="1.2" fill="none" stroke="#000" stroke-width="1.05"/>
<rect x="344.88" y="185.85" width="2.6" height="2.9" rx="1.2" fill="none" stroke="#000" stroke-width="1.05"/>
<rect x="349.75" y="185.85" width="2.6" height="2.9" rx="1.2" fill="none" stroke="#000" stroke-width="1.05"/>
<rect x="354.62" y="185.85" width="2.6" height="2.9" rx="1.2" fill="none" stroke="#000" stroke-width="1.05"/>
<rect x="359.49" y="185.85" width="2.6" height="2.9" rx="1.2" fill="none" stroke="#000" stroke-width="1.05"/>
<rect x="364.46" y="186.00" width="2.40" height="2.60" fill="none" stroke="#000" stroke-width="1.1" />
<rect x="369.23" y="185.85" width="2.6" height="2.9" rx="1.2" fill="none" stroke="#000" stroke-width="1.05"/>
<rect x="374.10" y="185.85" width="2.6" height="2.9" rx="1.2" fill="none" stroke="#000" stroke-width="1.05"/>
<rect x="378.97" y="185.85" width="2.6" height="2.9" rx="1.2" fill="none" stroke="#000" stroke-width="1.05"/>
<rect x="276.70" y="191.05" width="2.6" height="2.9" rx="1.2" fill="none" stroke="#000" stroke-width="1.05"/>
<rect x="281.67" y="191.20" width="2.40" height="2.60" fill="none" stroke="#000" stroke-width="1.1" />
<rect x="286.44" y="191.05" width="2.6" height="2.9" rx="1.2" fill="none" stroke="#000" stroke-width="1.05"/>
<rect x="291.31" y="191.05" width="2.6" height="2.9" rx="1.2" fill="none" stroke="#000" stroke-width="1.05"/>
<rect x="296.18" y="191.05" width="2.6" height="2.9" rx="1.2" fill="none" stroke="#000" stroke-width="1.05"/>
<rect x="301.05" y="191.05" width="2.6" height="2.9" rx="1.2" fill="none" stroke="#000" stroke-width="1.05"/>
<rect x="305.92" y="191.05" width="2.6" height="2.9" rx="1.2" fill="none" stroke="#000" stroke-width="1.05"/>
<rect x="310.79" y="191.05" width="2.6" height="2.9" rx="1.2" fill="none" stroke="#000" stroke-width="1.05"/>
<rect x="315.66" y="191.05" width="2.6" height="2.9" rx="1.2" fill="none" stroke="#000" stroke-width="1.05"/>
<rect x="320.53" y="191.05" width="2.6" height="2.9" rx="1.2" fill="none" stroke="#000" stroke-width="1.05"/>
<rect x="325.40" y="191.05" width="2.6" height="2.9" rx="1.2" fill="none" stroke="#000" stroke-width="1.05"/>
<rect x="330.37" y="191.20" width="2.40" height="2.60" fill="none" stroke="#000" stroke-width="1.1" />
<rect x="335.14" y="191.05" width="2.6" height="2.9" rx="1.2" fill="none" stroke="#000" stroke-width="1.05"/>
<rect x="340.01" y="191.05" width="2.6" height="2.9" rx="1.2" fill="none" stroke="#000" stroke-width="1.05"/>
<rect x="344.98" y="191.20" width="2.40" height="2.60" fill="none" stroke="#000" stroke-width="1.1" />
<rect x="349.75" y="191.05" width="2.6" height="2.9" rx="1.2" fill="none" stroke="#000" stroke-width="1.05"/>
<rect x="354.62" y="191.05" width="2.6" height="2.9" rx="1.2" fill="none" stroke="#000" stroke-width="1.05"/>
<rect x="359.49" y="191.05" width="2.6" height="2.9" rx="1.2" fill="none" stroke="#000" stroke-width="1.05"/>
<rect x="364.36" y="191.05" width="2.6" height="2.9" rx="1.2" fill="none" stroke="#000" stroke-width="1.05"/>
<rect x="369.23" y="191.05" width="2.6" height="2.9" rx="1.2" fill="none" stroke="#000" stroke-width="1.05"/>
<rect x="374.10" y="191.05" width="2.6" height="2.9" rx="1.2" fill="none" stroke="#000" stroke-width="1.05"/>
<rect x="378.97" y="191.05" width="2.6" height="2.9" rx="1.2" fill="none" stroke="#000" stroke-width="1.05"/>
<rect x="276.80" y="196.40" width="2.40" height="2.60" fill="none" stroke="#000" stroke-width="1.1" />
<rect x="281.67" y="196.40" width="2.40" height="2.60" fill="none" stroke="#000" stroke-width="1.1" />
<rect x="286.44" y="196.25" width="2.6" height="2.9" rx="1.2" fill="none" stroke="#000" stroke-width="1.05"/>
<rect x="291.31" y="196.25" width="2.6" height="2.9" rx="1.2" fill="none" stroke="#000" stroke-width="1.05"/>
<rect x="296.18" y="196.25" width="2.6" height="2.9" rx="1.2" fill="none" stroke="#000" stroke-width="1.05"/>
<rect x="301.15" y="196.40" width="2.40" height="2.60" fill="none" stroke="#000" stroke-width="1.1" />
<rect x="305.92" y="196.25" width="2.6" height="2.9" rx="1.2" fill="none" stroke="#000" stroke-width="1.05"/>
<rect x="310.79" y="196.25" width="2.6" height="2.9" rx="1.2" fill="none" stroke="#000" stroke-width="1.05"/>
<rect x="315.66" y="196.25" width="2.6" height="2.9" rx="1.2" fill="none" stroke="#000" stroke-width="1.05"/>
<rect x="320.63" y="196.40" width="2.40" height="2.60" fill="none" stroke="#000" stroke-width="1.1" />
<rect x="325.40" y="196.25" width="2.6" height="2.9" rx="1.2" fill="none" stroke="#000" stroke-width="1.05"/>
<rect x="330.27" y="196.25" width="2.6" height="2.9" rx="1.2" fill="none" stroke="#000" stroke-width="1.05"/>
<rect x="335.24" y="196.40" width="2.40" height="2.60" fill="none" stroke="#000" stroke-width="1.1" />
<rect x="340.01" y="196.25" width="2.6" height="2.9" rx="1.2" fill="none" stroke="#000" stroke-width="1.05"/>
<rect x="344.88" y="196.25" width="2.6" height="2.9" rx="1.2" fill="none" stroke="#000" stroke-width="1.05"/>
<rect x="349.75" y="196.25" width="2.6" height="2.9" rx="1.2" fill="none" stroke="#000" stroke-width="1.05"/>
<rect x="354.62" y="196.25" width="2.6" height="2.9" rx="1.2" fill="none" stroke="#000" stroke-width="1.05"/>
<rect x="359.49" y="196.25" width="2.6" height="2.9" rx="1.2" fill="none" stroke="#000" stroke-width="1.05"/>
<rect x="364.36" y="196.25" width="2.6" height="2.9" rx="1.2" fill="none" stroke="#000" stroke-width="1.05"/>
<rect x="369.23" y="196.25" width="2.6" height="2.9" rx="1.2" fill="none" stroke="#000" stroke-width="1.05"/>
<rect x="374.10" y="196.25" width="2.6" height="2.9" rx="1.2" fill="none" stroke="#000" stroke-width="1.05"/>
<rect x="378.97" y="196.25" width="2.6" height="2.9" rx="1.2" fill="none" stroke="#000" stroke-width="1.05"/>
<rect x="276.70" y="201.45" width="2.6" height="2.9" rx="1.2" fill="none" stroke="#000" stroke-width="1.05"/>
<rect x="281.57" y="201.45" width="2.6" height="2.9" rx="1.2" fill="none" stroke="#000" stroke-width="1.05"/>
<rect x="286.54" y="201.60" width="2.40" height="2.60" fill="none" stroke="#000" stroke-width="1.1" />
<rect x="291.41" y="201.60" width="2.40" height="2.60" fill="none" stroke="#000" stroke-width="1.1" />
<rect x="296.18" y="201.45" width="2.6" height="2.9" rx="1.2" fill="none" stroke="#000" stroke-width="1.05"/>
<rect x="301.05" y="201.45" width="2.6" height="2.9" rx="1.2" fill="none" stroke="#000" stroke-width="1.05"/>
<rect x="305.92" y="201.45" width="2.6" height="2.9" rx="1.2" fill="none" stroke="#000" stroke-width="1.05"/>
<rect x="310.79" y="201.45" width="2.6" height="2.9" rx="1.2" fill="none" stroke="#000" stroke-width="1.05"/>
<rect x="315.66" y="201.45" width="2.6" height="2.9" rx="1.2" fill="none" stroke="#000" stroke-width="1.05"/>
<rect x="320.53" y="201.45" width="2.6" height="2.9" rx="1.2" fill="none" stroke="#000" stroke-width="1.05"/>
<rect x="325.40" y="201.45" width="2.6" height="2.9" rx="1.2" fill="none" stroke="#000" stroke-width="1.05"/>
<rect x="330.27" y="201.45" width="2.6" height="2.9" rx="1.2" fill="none" stroke="#000" stroke-width="1.05"/>
<rect x="335.14" y="201.45" width="2.6" height="2.9" rx="1.2" fill="none" stroke="#000" stroke-width="1.05"/>
<rect x="340.01" y="201.45" width="2.6" height="2.9" rx="1.2" fill="none" stroke="#000" stroke-width="1.05"/>
<rect x="344.88" y="201.45" width="2.6" height="2.9" rx="1.2" fill="none" stroke="#000" stroke-width="1.05"/>
<rect x="349.75" y="201.45" width="2.6" height="2.9" rx="1.2" fill="none" stroke="#000" stroke-width="1.05"/>
<rect x="354.62" y="201.45" width="2.6" height="2.9" rx="1.2" fill="none" stroke="#000" stroke-width="1.05"/>
<rect x="359.49" y="201.45" width="2.6" height="2.9" rx="1.2" fill="none" stroke="#000" stroke-width="1.05"/>
<rect x="364.36" y="201.45" width="2.6" height="2.9" rx="1.2" fill="none" stroke="#000" stroke-width="1.05"/>
<rect x="369.23" y="201.45" width="2.6" height="2.9" rx="1.2" fill="none" stroke="#000" stroke-width="1.05"/>
<rect x="374.20" y="201.60" width="2.40" height="2.60" fill="none" stroke="#000" stroke-width="1.1" />
<rect x="378.97" y="201.45" width="2.6" height="2.9" rx="1.2" fill="none" stroke="#000" stroke-width="1.05"/>
<rect x="276.70" y="206.65" width="2.6" height="2.9" rx="1.2" fill="none" stroke="#000" stroke-width="1.05"/>
<rect x="281.57" y="206.65" width="2.6" height="2.9" rx="1.2" fill="none" stroke="#000" stroke-width="1.05"/>
<rect x="286.44" y="206.65" width="2.6" height="2.9" rx="1.2" fill="none" stroke="#000" stroke-width="1.05"/>
<rect x="291.31" y="206.65" width="2.6" height="2.9" rx="1.2" fill="none" stroke="#000" stroke-width="1.05"/>
<rect x="296.28" y="206.80" width="2.40" height="2.60" fill="none" stroke="#000" stroke-width="1.1" />
<rect x="301.05" y="206.65" width="2.6" height="2.9" rx="1.2" fill="none" stroke="#000" stroke-width="1.05"/>
<rect x="306.02" y="206.80" width="2.40" height="2.60" fill="none" stroke="#000" stroke-width="1.1" />
<rect x="310.79" y="206.65" width="2.6" height="2.9" rx="1.2" fill="none" stroke="#000" stroke-width="1.05"/>
<rect x="315.66" y="206.65" width="2.6" height="2.9" rx="1.2" fill="none" stroke="#000" stroke-width="1.05"/>
<rect x="320.53" y="206.65" width="2.6" height="2.9" rx="1.2" fill="none" stroke="#000" stroke-width="1.05"/>
<rect x="325.40" y="206.65" width="2.6" height="2.9" rx="1.2" fill="none" stroke="#000" stroke-width="1.05"/>
<rect x="330.27" y="206.65" width="2.6" height="2.9" rx="1.2" fill="none" stroke="#000" stroke-width="1.05"/>
<rect x="335.14" y="206.65" width="2.6" height="2.9" rx="1.2" fill="none" stroke="#000" stroke-width="1.05"/>
<rect x="340.01" y="206.65" width="2.6" height="2.9" rx="1.2" fill="none" stroke="#000" stroke-width="1.05"/>
<rect x="344.88" y="206.65" width="2.6" height="2.9" rx="1.2" fill="none" stroke="#000" stroke-width="1.05"/>
<rect x="349.75" y="206.65" width="2.6" height="2.9" rx="1.2" fill="none" stroke="#000" stroke-width="1.05"/>
<rect x="354.62" y="206.65" width="2.6" height="2.9" rx="1.2" fill="none" stroke="#000" stroke-width="1.05"/>
<rect x="359.49" y="206.65" width="2.6" height="2.9" rx="1.2" fill="none" stroke="#000" stroke-width="1.05"/>
<rect x="364.36" y="206.65" width="2.6" height="2.9" rx="1.2" fill="none" stroke="#000" stroke-width="1.05"/>
<rect x="369.23" y="206.65" width="2.6" height="2.9" rx="1.2" fill="none" stroke="#000" stroke-width="1.05"/>
<rect x="374.10" y="206.65" width="2.6" height="2.9" rx="1.2" fill="none" stroke="#000" stroke-width="1.05"/>
<rect x="378.97" y="206.65" width="2.6" height="2.9" rx="1.2" fill="none" stroke="#000" stroke-width="1.05"/>
<rect x="276.70" y="211.85" width="2.6" height="2.9" rx="1.2" fill="none" stroke="#000" stroke-width="1.05"/>
<rect x="281.57" y="211.85" width="2.6" height="2.9" rx="1.2" fill="none" stroke="#000" stroke-width="1.05"/>
<rect x="286.44" y="211.85" width="2.6" height="2.9" rx="1.2" fill="none" stroke="#000" stroke-width="1.05"/>
<rect x="291.31" y="211.85" width="2.6" height="2.9" rx="1.2" fill="none" stroke="#000" stroke-width="1.05"/>
<rect x="296.28" y="212.00" width="2.40" height="2.60" fill="none" stroke="#000" stroke-width="1.1" />
<rect x="301.05" y="211.85" width="2.6" height="2.9" rx="1.2" fill="none" stroke="#000" stroke-width="1.05"/>
<rect x="306.02" y="212.00" width="2.40" height="2.60" fill="none" stroke="#000" stroke-width="1.1" />
<rect x="310.79" y="211.85" width="2.6" height="2.9" rx="1.2" fill="none" stroke="#000" stroke-width="1.05"/>
<rect x="315.76" y="212.00" width="2.40" height="2.60" fill="none" stroke="#000" stroke-width="1.1" />
<rect x="320.53" y="211.85" width="2.6" height="2.9" rx="1.2" fill="none" stroke="#000" stroke-width="1.05"/>
<rect x="325.40" y="211.85" width="2.6" height="2.9" rx="1.2" fill="none" stroke="#000" stroke-width="1.05"/>
<rect x="330.27" y="211.85" width="2.6" height="2.9" rx="1.2" fill="none" stroke="#000" stroke-width="1.05"/>
<rect x="335.14" y="211.85" width="2.6" height="2.9" rx="1.2" fill="none" stroke="#000" stroke-width="1.05"/>
<rect x="340.01" y="211.85" width="2.6" height="2.9" rx="1.2" fill="none" stroke="#000" stroke-width="1.05"/>
<rect x="344.88" y="211.85" width="2.6" height="2.9" rx="1.2" fill="none" stroke="#000" stroke-width="1.05"/>
<rect x="349.75" y="211.85" width="2.6" height="2.9" rx="1.2" fill="none" stroke="#000" stroke-width="1.05"/>
<rect x="354.62" y="211.85" width="2.6" height="2.9" rx="1.2" fill="none" stroke="#000" stroke-width="1.05"/>
<rect x="359.49" y="211.85" width="2.6" height="2.9" rx="1.2" fill="none" stroke="#000" stroke-width="1.05"/>
<rect x="364.36" y="211.85" width="2.6" height="2.9" rx="1.2" fill="none" stroke="#000" stroke-width="1.05"/>
<rect x="369.33" y="212.00" width="2.40" height="2.60" fill="none" stroke="#000" stroke-width="1.1" />
<rect x="374.10" y="211.85" width="2.6" height="2.9" rx="1.2" fill="none" stroke="#000" stroke-width="1.05"/>
<rect x="378.97" y="211.85" width="2.6" height="2.9" rx="1.2" fill="none" stroke="#000" stroke-width="1.05"/>
<rect x="276.80" y="217.20" width="2.40" height="2.60" fill="none" stroke="#000" stroke-width="1.1" />
<rect x="281.57" y="217.05" width="2.6" height="2.9" rx="1.2" fill="none" stroke="#000" stroke-width="1.05"/>
<rect x="286.44" y="217.05" width="2.6" height="2.9" rx="1.2" fill="none" stroke="#000" stroke-width="1.05"/>
<rect x="291.31" y="217.05" width="2.6" height="2.9" rx="1.2" fill="none" stroke="#000" stroke-width="1.05"/>
<rect x="296.18" y="217.05" width="2.6" height="2.9" rx="1.2" fill="none" stroke="#000" stroke-width="1.05"/>
<rect x="301.05" y="217.05" width="2.6" height="2.9" rx="1.2" fill="none" stroke="#000" stroke-width="1.05"/>
<rect x="305.92" y="217.05" width="2.6" height="2.9" rx="1.2" fill="none" stroke="#000" stroke-width="1.05"/>
<rect x="310.79" y="217.05" width="2.6" height="2.9" rx="1.2" fill="none" stroke="#000" stroke-width="1.05"/>
<rect x="315.66" y="217.05" width="2.6" height="2.9" rx="1.2" fill="none" stroke="#000" stroke-width="1.05"/>
<rect x="320.53" y="217.05" width="2.6" height="2.9" rx="1.2" fill="none" stroke="#000" stroke-width="1.05"/>
<rect x="325.40" y="217.05" width="2.6" height="2.9" rx="1.2" fill="none" stroke="#000" stroke-width="1.05"/>
<rect x="330.27" y="217.05" width="2.6" height="2.9" rx="1.2" fill="none" stroke="#000" stroke-width="1.05"/>
<rect x="335.24" y="217.20" width="2.40" height="2.60" fill="none" stroke="#000" stroke-width="1.1" />
<rect x="340.11" y="217.20" width="2.40" height="2.60" fill="none" stroke="#000" stroke-width="1.1" />
<rect x="344.88" y="217.05" width="2.6" height="2.9" rx="1.2" fill="none" stroke="#000" stroke-width="1.05"/>
<rect x="349.75" y="217.05" width="2.6" height="2.9" rx="1.2" fill="none" stroke="#000" stroke-width="1.05"/>
<rect x="354.62" y="217.05" width="2.6" height="2.9" rx="1.2" fill="none" stroke="#000" stroke-width="1.05"/>
<rect x="359.49" y="217.05" width="2.6" height="2.9" rx="1.2" fill="none" stroke="#000" stroke-width="1.05"/>
<rect x="364.46" y="217.20" width="2.40" height="2.60" fill="none" stroke="#000" stroke-width="1.1" />
<rect x="369.23" y="217.05" width="2.6" height="2.9" rx="1.2" fill="none" stroke="#000" stroke-width="1.05"/>
<rect x="374.10" y="217.05" width="2.6" height="2.9" rx="1.2" fill="none" stroke="#000" stroke-width="1.05"/>
<rect x="378.97" y="217.05" width="2.6" height="2.9" rx="1.2" fill="none" stroke="#000" stroke-width="1.05"/>
<rect x="276.70" y="222.25" width="2.6" height="2.9" rx="1.2" fill="none" stroke="#000" stroke-width="1.05"/>
<rect x="281.57" y="222.25" width="2.6" height="2.9" rx="1.2" fill="none" stroke="#000" stroke-width="1.05"/>
<rect x="286.44" y="222.25" width="2.6" height="2.9" rx="1.2" fill="none" stroke="#000" stroke-width="1.05"/>
<rect x="291.41" y="222.40" width="2.40" height="2.60" fill="none" stroke="#000" stroke-width="1.1" />
<rect x="296.18" y="222.25" width="2.6" height="2.9" rx="1.2" fill="none" stroke="#000" stroke-width="1.05"/>
<rect x="301.05" y="222.25" width="2.6" height="2.9" rx="1.2" fill="none" stroke="#000" stroke-width="1.05"/>
<rect x="305.92" y="222.25" width="2.6" height="2.9" rx="1.2" fill="none" stroke="#000" stroke-width="1.05"/>
<rect x="310.79" y="222.25" width="2.6" height="2.9" rx="1.2" fill="none" stroke="#000" stroke-width="1.05"/>
<rect x="315.66" y="222.25" width="2.6" height="2.9" rx="1.2" fill="none" stroke="#000" stroke-width="1.05"/>
<rect x="320.53" y="222.25" width="2.6" height="2.9" rx="1.2" fill="none" stroke="#000" stroke-width="1.05"/>
<rect x="325.40" y="222.25" width="2.6" height="2.9" rx="1.2" fill="none" stroke="#000" stroke-width="1.05"/>
<rect x="330.27" y="222.25" width="2.6" height="2.9" rx="1.2" fill="none" stroke="#000" stroke-width="1.05"/>
<rect x="335.14" y="222.25" width="2.6" height="2.9" rx="1.2" fill="none" stroke="#000" stroke-width="1.05"/>
<rect x="340.11" y="222.40" width="2.40" height="2.60" fill="none" stroke="#000" stroke-width="1.1" />
<rect x="344.88" y="222.25" width="2.6" height="2.9" rx="1.2" fill="none" stroke="#000" stroke-width="1.05"/>
<rect x="349.75" y="222.25" width="2.6" height="2.9" rx="1.2" fill="none" stroke="#000" stroke-width="1.05"/>
<rect x="354.62" y="222.25" width="2.6" height="2.9" rx="1.2" fill="none" stroke="#000" stroke-width="1.05"/>
<rect x="359.49" y="222.25" width="2.6" height="2.9" rx="1.2" fill="none" stroke="#000" stroke-width="1.05"/>
<rect x="364.36" y="222.25" width="2.6" height="2.9" rx="1.2" fill="none" stroke="#000" stroke-width="1.05"/>
<rect x="369.33" y="222.40" width="2.40" height="2.60" fill="none" stroke="#000" stroke-width="1.1" />
<rect x="374.10" y="222.25" width="2.6" height="2.9" rx="1.2" fill="none" stroke="#000" stroke-width="1.05"/>
<rect x="378.97" y="222.25" width="2.6" height="2.9" rx="1.2" fill="none" stroke="#000" stroke-width="1.05"/>
<rect x="281.57" y="227.45" width="2.6" height="2.9" rx="1.2" fill="none" stroke="#000" stroke-width="1.05"/>
<rect x="286.54" y="227.60" width="2.40" height="2.60" fill="none" stroke="#000" stroke-width="1.1" />
<rect x="291.41" y="227.60" width="2.40" height="2.60" fill="none" stroke="#000" stroke-width="1.1" />
<rect x="296.18" y="227.45" width="2.6" height="2.9" rx="1.2" fill="none" stroke="#000" stroke-width="1.05"/>
<rect x="301.05" y="227.45" width="2.6" height="2.9" rx="1.2" fill="none" stroke="#000" stroke-width="1.05"/>
<rect x="305.92" y="227.45" width="2.6" height="2.9" rx="1.2" fill="none" stroke="#000" stroke-width="1.05"/>
<rect x="310.79" y="227.45" width="2.6" height="2.9" rx="1.2" fill="none" stroke="#000" stroke-width="1.05"/>
<rect x="315.66" y="227.45" width="2.6" height="2.9" rx="1.2" fill="none" stroke="#000" stroke-width="1.05"/>
<rect x="320.63" y="227.60" width="2.40" height="2.60" fill="none" stroke="#000" stroke-width="1.1" />
<rect x="325.40" y="227.45" width="2.6" height="2.9" rx="1.2" fill="none" stroke="#000" stroke-width="1.05"/>
<rect x="330.27" y="227.45" width="2.6" height="2.9" rx="1.2" fill="none" stroke="#000" stroke-width="1.05"/>
<rect x="335.14" y="227.45" width="2.6" height="2.9" rx="1.2" fill="none" stroke="#000" stroke-width="1.05"/>
<rect x="340.01" y="227.45" width="2.6" height="2.9" rx="1.2" fill="none" stroke="#000" stroke-width="1.05"/>
<rect x="344.88" y="227.45" width="2.6" height="2.9" rx="1.2" fill="none" stroke="#000" stroke-width="1.05"/>
<rect x="349.75" y="227.45" width="2.6" height="2.9" rx="1.2" fill="none" stroke="#000" stroke-width="1.05"/>
<rect x="354.62" y="227.45" width="2.6" height="2.9" rx="1.2" fill="none" stroke="#000" stroke-width="1.05"/>
<rect x="359.49" y="227.45" width="2.6" height="2.9" rx="1.2" fill="none" stroke="#000" stroke-width="1.05"/>
<rect x="364.36" y="227.45" width="2.6" height="2.9" rx="1.2" fill="none" stroke="#000" stroke-width="1.05"/>
<rect x="369.23" y="227.45" width="2.6" height="2.9" rx="1.2" fill="none" stroke="#000" stroke-width="1.05"/>
<rect x="374.10" y="227.45" width="2.6" height="2.9" rx="1.2" fill="none" stroke="#000" stroke-width="1.05"/>
<rect x="286.54" y="232.80" width="2.40" height="2.60" fill="none" stroke="#000" stroke-width="1.1" />
<rect x="291.31" y="232.65" width="2.6" height="2.9" rx="1.2" fill="none" stroke="#000" stroke-width="1.05"/>
<rect x="296.18" y="232.65" width="2.6" height="2.9" rx="1.2" fill="none" stroke="#000" stroke-width="1.05"/>
<rect x="301.05" y="232.65" width="2.6" height="2.9" rx="1.2" fill="none" stroke="#000" stroke-width="1.05"/>
<rect x="305.92" y="232.65" width="2.6" height="2.9" rx="1.2" fill="none" stroke="#000" stroke-width="1.05"/>
<rect x="310.79" y="232.65" width="2.6" height="2.9" rx="1.2" fill="none" stroke="#000" stroke-width="1.05"/>
<rect x="315.66" y="232.65" width="2.6" height="2.9" rx="1.2" fill="none" stroke="#000" stroke-width="1.05"/>
<rect x="320.53" y="232.65" width="2.6" height="2.9" rx="1.2" fill="none" stroke="#000" stroke-width="1.05"/>
<rect x="325.50" y="232.80" width="2.40" height="2.60" fill="none" stroke="#000" stroke-width="1.1" />
<rect x="330.27" y="232.65" width="2.6" height="2.9" rx="1.2" fill="none" stroke="#000" stroke-width="1.05"/>
<rect x="335.14" y="232.65" width="2.6" height="2.9" rx="1.2" fill="none" stroke="#000" stroke-width="1.05"/>
<rect x="340.01" y="232.65" width="2.6" height="2.9" rx="1.2" fill="none" stroke="#000" stroke-width="1.05"/>
<rect x="344.88" y="232.65" width="2.6" height="2.9" rx="1.2" fill="none" stroke="#000" stroke-width="1.05"/>
<rect x="349.75" y="232.65" width="2.6" height="2.9" rx="1.2" fill="none" stroke="#000" stroke-width="1.05"/>
<rect x="354.62" y="232.65" width="2.6" height="2.9" rx="1.2" fill="none" stroke="#000" stroke-width="1.05"/>
<rect x="359.49" y="232.65" width="2.6" height="2.9" rx="1.2" fill="none" stroke="#000" stroke-width="1.05"/>
<rect x="364.36" y="232.65" width="2.6" height="2.9" rx="1.2" fill="none" stroke="#000" stroke-width="1.05"/>
<rect x="369.23" y="232.65" width="2.6" height="2.9" rx="1.2" fill="none" stroke="#000" stroke-width="1.05"/>
<rect x="9.10" y="245.30" width="57.40" height="42.70" fill="#fff" stroke="#000" stroke-width="1.0" rx="2.5" />
<line x1="17.60" y1="238.00" x2="17.60" y2="245.30" stroke="#000" stroke-width="1.3"/>
<text x="17.60" y="264.00" font-size="9.7" text-anchor="start" fill="#0a0a14" font-weight="normal" stroke="#0a0a14" stroke-width="0.06" letter-spacing="0.05" >T: IEEE 1394 PORT (OPTIONAL)</text>
<text x="17.60" y="273.30" font-size="9.7" text-anchor="start" fill="#0a0a14" font-weight="normal" stroke="#0a0a14" stroke-width="0.06" letter-spacing="0.05" >B: USB PORTS</text>
<rect x="8.50" y="291.90" width="71.20" height="49.70" fill="#fff" stroke="#000" stroke-width="1.0" rx="2.5" />
<text x="16.30" y="314.70" font-size="9.7" text-anchor="start" fill="#0a0a14" font-weight="normal" stroke="#0a0a14" stroke-width="0.06" letter-spacing="0.05" >T: LAN JACK</text>
<text x="16.30" y="324.30" font-size="9.7" text-anchor="start" fill="#0a0a14" font-weight="normal" stroke="#0a0a14" stroke-width="0.06" letter-spacing="0.05" >B: USB PORTS</text>
<path d="M12.4,352.4 L5,352.4 Q1.6,352.4 1.6,356 L1.6,367 Q1.6,370.6 5,370.6 L12.4,370.6" fill="#fff" stroke="#000" stroke-width="1"/>
<path d="M12.4,388 L5,388 Q1.6,388 1.6,391.6 L1.6,402.6 Q1.6,406.2 5,406.2 L12.4,406.2" fill="#fff" stroke="#000" stroke-width="1"/>
<rect x="12.40" y="347.40" width="55.60" height="67.10" fill="#fff" stroke="#000" stroke-width="1.1" />
<line x1="15.80" y1="347.40" x2="15.80" y2="414.50" stroke="#000" stroke-width="0.9"/>
<line x1="18.40" y1="347.40" x2="18.40" y2="414.50" stroke="#000" stroke-width="0.9"/>
<text x="24.70" y="357.80" font-size="9.7" text-anchor="start" fill="#0a0a14" font-weight="normal" stroke="#0a0a14" stroke-width="0.06" letter-spacing="0.05" >T: LINE-OUT</text>
<text x="24.70" y="368.32" font-size="9.7" text-anchor="start" fill="#0a0a14" font-weight="normal" stroke="#0a0a14" stroke-width="0.06" letter-spacing="0.05" >M: SS-OUT</text>
<text x="24.70" y="378.84" font-size="9.7" text-anchor="start" fill="#0a0a14" font-weight="normal" stroke="#0a0a14" stroke-width="0.06" letter-spacing="0.05" >B: LINE-IN</text>
<text x="24.70" y="389.36" font-size="9.7" text-anchor="start" fill="#0a0a14" font-weight="normal" stroke="#0a0a14" stroke-width="0.06" letter-spacing="0.05" >T: CS-OUT</text>
<text x="24.70" y="399.88" font-size="9.7" text-anchor="start" fill="#0a0a14" font-weight="normal" stroke="#0a0a14" stroke-width="0.06" letter-spacing="0.05" >M: RS-OUT</text>
<text x="24.70" y="410.40" font-size="9.7" text-anchor="start" fill="#0a0a14" font-weight="normal" stroke="#0a0a14" stroke-width="0.06" letter-spacing="0.05" >B: S/PDIF-OUT</text>
<path d="M81.8,369.8 L93.2,369.8 L93.2,374.8 L98.2,374.8 L98.2,390.2 L93.2,390.2 L93.2,395.2 L81.8,395.2 Z" fill="none" stroke="#000" stroke-width="1.6"/>
<path d="M82.5,372.2 L93,372.2" stroke="#000" stroke-width="1.1"/>
<path d="M82.8,371 L82.8,394.5" stroke="#000" stroke-width="0.9"/>
<path d="M96.3,375.5 L96.3,389.5" stroke="#000" stroke-width="0.9"/>
<path d="M93.2,393.8 L82.5,393.8" stroke="#000" stroke-width="1.0"/>
<rect x="85.5" y="374.5" width="3" height="2" fill="none" stroke="#000" stroke-width="1"/>
<rect x="85.5" y="381.6" width="3" height="2" fill="none" stroke="#000" stroke-width="1"/>
<rect x="85.5" y="388.6" width="3" height="2" fill="none" stroke="#000" stroke-width="1"/>
<text x="110.30" y="409.90" font-size="9.7" text-anchor="start" fill="#0a0a14" font-weight="normal" stroke="#0a0a14" stroke-width="0.06" transform="rotate(-90 110.30 409.90)" textLength="51" lengthAdjust="spacingAndGlyphs" >JSPDOUT1</text>
<path d="M119.5,424.5 L187.5,424.5 L187.5,433.5 L184.5,433.5 L184.5,439.5 L187.5,439.5 L187.5,446.5 L119.5,446.5 L119.5,439.5 L122.5,439.5 L122.5,433.5 L119.5,433.5 Z" fill="#fff" stroke="#000" stroke-width="1"/>
<rect x="125.5" y="432.5" width="31" height="6" fill="none" stroke="#000" stroke-width="1"/>
<rect x="160.5" y="432.5" width="21" height="6" fill="none" stroke="#000" stroke-width="1"/>
<rect x="121.5" y="428.5" width="4" height="3" fill="none" stroke="#000" stroke-width="1"/>
<rect x="121.5" y="439.5" width="4" height="5" fill="none" stroke="#000" stroke-width="1"/>
<rect x="181.5" y="428.5" width="4" height="3" fill="none" stroke="#000" stroke-width="1"/>
<rect x="181.5" y="439.5" width="4" height="5" fill="none" stroke="#000" stroke-width="1"/>
<rect x="125" y="428" width="1" height="17" fill="#000"/>
<rect x="181" y="428" width="1" height="17" fill="#000"/>
<rect x="156.5" y="428.5" width="4" height="3" fill="none" stroke="#000" stroke-width="1"/>
<rect x="156.5" y="439.5" width="4" height="4" fill="none" stroke="#000" stroke-width="1"/>
<rect x="157.5" y="432.5" width="2" height="6" fill="none" stroke="#000" stroke-width="1"/>
<rect x="127.0" y="428" width="1.5999999999999943" height="4" fill="#000"/>
<rect x="130.0" y="428" width="1.5999999999999943" height="4" fill="#000"/>
<rect x="133.0" y="428" width="1.5999999999999943" height="4" fill="#000"/>
<rect x="136.0" y="428" width="1.5999999999999943" height="4" fill="#000"/>
<rect x="139.0" y="428" width="1.5999999999999943" height="4" fill="#000"/>
<rect x="142.0" y="428" width="1.5999999999999943" height="4" fill="#000"/>
<rect x="145.0" y="428" width="1.5999999999999943" height="4" fill="#000"/>
<rect x="148.5" y="428" width="1.5999999999999943" height="4" fill="#000"/>
<rect x="151.5" y="428.5" width="2" height="3" fill="none" stroke="#000" stroke-width="0.9"/>
<rect x="154.5" y="428" width="1.5999999999999943" height="4" fill="#000"/>
<rect x="127.0" y="439" width="1.5999999999999943" height="6" fill="#000"/>
<rect x="130.0" y="439" width="1.5999999999999943" height="6" fill="#000"/>
<rect x="133.0" y="439" width="1.5999999999999943" height="6" fill="#000"/>
<rect x="136.5" y="439.5" width="2" height="5" fill="none" stroke="#000" stroke-width="0.9"/>
<rect x="139.0" y="439" width="1.5999999999999943" height="6" fill="#000"/>
<rect x="142.0" y="439" width="1.5999999999999943" height="6" fill="#000"/>
<rect x="145.0" y="439" width="1.5999999999999943" height="6" fill="#000"/>
<rect x="148.5" y="439.5" width="2" height="5" fill="none" stroke="#000" stroke-width="0.9"/>
<rect x="151.5" y="439.5" width="2" height="5" fill="none" stroke="#000" stroke-width="0.9"/>
<rect x="154.5" y="439.5" width="2" height="5" fill="none" stroke="#000" stroke-width="0.9"/>
<rect x="161.0" y="428" width="1.5999999999999943" height="4" fill="#000"/>
<rect x="164.0" y="428" width="1.5999999999999943" height="4" fill="#000"/>
<rect x="167.0" y="428" width="1.5999999999999943" height="4" fill="#000"/>
<rect x="170.0" y="428" width="1.5999999999999943" height="4" fill="#000"/>
<rect x="173.0" y="428" width="1.5999999999999943" height="4" fill="#000"/>
<rect x="176.0" y="428" width="1.5999999999999943" height="4" fill="#000"/>
<rect x="179.0" y="428" width="1.5999999999999943" height="4" fill="#000"/>
<rect x="161.5" y="439.5" width="2" height="5" fill="none" stroke="#000" stroke-width="0.9"/>
<rect x="164.0" y="439" width="1.5999999999999943" height="6" fill="#000"/>
<rect x="167.0" y="439" width="1.5999999999999943" height="6" fill="#000"/>
<rect x="170.5" y="439.5" width="2" height="5" fill="none" stroke="#000" stroke-width="0.9"/>
<rect x="173.0" y="439" width="1.5999999999999943" height="6" fill="#000"/>
<rect x="176.0" y="439" width="1.5999999999999943" height="6" fill="#000"/>
<rect x="179.0" y="439" width="1.5999999999999943" height="6" fill="#000"/>
<rect x="120.5" y="447.5" width="6" height="2" fill="none" stroke="#000" stroke-width="1"/>
<rect x="128.5" y="447.5" width="13" height="2" fill="none" stroke="#000" stroke-width="1"/>
<rect x="145.5" y="447.5" width="13" height="2" fill="none" stroke="#000" stroke-width="1"/>
<rect x="162.5" y="447.5" width="13" height="2" fill="none" stroke="#000" stroke-width="1"/>
<rect x="178.5" y="447.5" width="8" height="2" fill="none" stroke="#000" stroke-width="1"/>
<text x="124.00" y="462.50" font-size="9.7" text-anchor="start" fill="#0a0a14" font-weight="normal" stroke="#0a0a14" stroke-width="0.06" letter-spacing="0.05" >PCIE1_X1</text>
<path d="M121.5,532.5 L188.5,532.5 L188.5,539.5 L185.5,539.5 L185.5,547.5 L188.5,547.5 L188.5,553.5 L121.5,553.5 L121.5,547.5 L124.5,547.5 L124.5,539.5 L121.5,539.5 Z" fill="#fff" stroke="#000" stroke-width="1"/>
<rect x="127.5" y="539.5" width="31" height="7" fill="none" stroke="#000" stroke-width="1"/>
<rect x="162.5" y="539.5" width="20" height="7" fill="none" stroke="#000" stroke-width="1"/>
<rect x="123.5" y="535.5" width="4" height="3" fill="none" stroke="#000" stroke-width="1"/>
<rect x="123.5" y="547.5" width="4" height="4" fill="none" stroke="#000" stroke-width="1"/>
<rect x="182.5" y="535.5" width="4" height="3" fill="none" stroke="#000" stroke-width="1"/>
<rect x="182.5" y="547.5" width="4" height="4" fill="none" stroke="#000" stroke-width="1"/>
<rect x="127" y="535" width="1" height="17" fill="#000"/>
<rect x="182" y="535" width="1" height="17" fill="#000"/>
<rect x="158.5" y="535.5" width="4" height="3" fill="none" stroke="#000" stroke-width="1"/>
<rect x="158.5" y="548.5" width="4" height="2" fill="none" stroke="#000" stroke-width="1"/>
<rect x="159.5" y="539.5" width="2" height="7" fill="none" stroke="#000" stroke-width="1"/>
<rect x="129.0" y="535" width="1.5999999999999943" height="4" fill="#000"/>
<rect x="132.5" y="535.5" width="2" height="3" fill="none" stroke="#000" stroke-width="0.9"/>
<rect x="135.5" y="535.5" width="2" height="3" fill="none" stroke="#000" stroke-width="0.9"/>
<rect x="138.0" y="535" width="1.5999999999999943" height="4" fill="#000"/>
<rect x="141.0" y="535" width="1.5999999999999943" height="4" fill="#000"/>
<rect x="144.0" y="535" width="1.5999999999999943" height="4" fill="#000"/>
<rect x="147.5" y="535.5" width="2" height="3" fill="none" stroke="#000" stroke-width="0.9"/>
<rect x="150.5" y="535" width="1.5999999999999943" height="4" fill="#000"/>
<rect x="153.5" y="535" width="1.5999999999999943" height="4" fill="#000"/>
<rect x="156.5" y="535" width="1.5999999999999943" height="4" fill="#000"/>
<rect x="129.0" y="548" width="1.5999999999999943" height="4" fill="#000"/>
<rect x="132.0" y="548" width="1.5999999999999943" height="4" fill="#000"/>
<rect x="135.0" y="548" width="1.5999999999999943" height="4" fill="#000"/>
<rect x="138.5" y="548.5" width="2" height="3" fill="none" stroke="#000" stroke-width="0.9"/>
<rect x="141.0" y="548" width="1.5999999999999943" height="4" fill="#000"/>
<rect x="144.0" y="548" width="1.5999999999999943" height="4" fill="#000"/>
<rect x="147.0" y="548" width="1.5999999999999943" height="4" fill="#000"/>
<rect x="150.5" y="548.5" width="2" height="3" fill="none" stroke="#000" stroke-width="0.9"/>
<rect x="153.5" y="548" width="1.5999999999999943" height="4" fill="#000"/>
<rect x="156.5" y="548" width="1.5999999999999943" height="4" fill="#000"/>
<rect x="163.5" y="535.5" width="2" height="3" fill="none" stroke="#000" stroke-width="0.9"/>
<rect x="166.0" y="535" width="1.5999999999999943" height="4" fill="#000"/>
<rect x="169.0" y="535" width="1.5999999999999943" height="4" fill="#000"/>
<rect x="172.0" y="535" width="1.5999999999999943" height="4" fill="#000"/>
<rect x="175.5" y="535.5" width="2" height="3" fill="none" stroke="#000" stroke-width="0.9"/>
<rect x="178.5" y="535.5" width="2" height="3" fill="none" stroke="#000" stroke-width="0.9"/>
<rect x="163.5" y="548.5" width="2" height="3" fill="none" stroke="#000" stroke-width="0.9"/>
<rect x="166.0" y="548" width="1.5999999999999943" height="4" fill="#000"/>
<rect x="169.5" y="548.5" width="2" height="3" fill="none" stroke="#000" stroke-width="0.9"/>
<rect x="172.0" y="548" width="1.5999999999999943" height="4" fill="#000"/>
<rect x="175.0" y="548" width="1.5999999999999943" height="4" fill="#000"/>
<rect x="178.0" y="548" width="1.5999999999999943" height="4" fill="#000"/>
<rect x="122.5" y="554.5" width="6" height="2" fill="none" stroke="#000" stroke-width="1"/>
<rect x="130.5" y="554.5" width="13" height="2" fill="none" stroke="#000" stroke-width="1"/>
<rect x="147.5" y="554.5" width="13" height="2" fill="none" stroke="#000" stroke-width="1"/>
<rect x="164.5" y="554.5" width="13" height="2" fill="none" stroke="#000" stroke-width="1"/>
<rect x="180.5" y="554.5" width="7" height="2" fill="none" stroke="#000" stroke-width="1"/>
<text x="124.00" y="567.50" font-size="9.7" text-anchor="start" fill="#0a0a14" font-weight="normal" stroke="#0a0a14" stroke-width="0.06" letter-spacing="0.05" >PCIE1_X2</text>
<rect x="84.30" y="450.30" width="20.20" height="20.20" fill="none" stroke="#000" stroke-width="1.0" />
<text x="57.00" y="478.80" font-size="9.7" text-anchor="start" fill="#0a0a14" font-weight="normal" stroke="#0a0a14" stroke-width="0.06" letter-spacing="0.05" >RTL8111DL</text>
<rect x="60.00" y="499.00" width="16.50" height="17.00" fill="none" stroke="#000" stroke-width="1.0" />
<text x="49.30" y="531.00" font-size="9.7" text-anchor="start" fill="#0a0a14" font-weight="normal" stroke="#0a0a14" stroke-width="0.06" letter-spacing="0.05" >JMB381</text>
<rect x="62.40" y="576.50" width="16.10" height="16.10" fill="none" stroke="#000" stroke-width="1.0" />
<text x="50.20" y="606.50" font-size="9.7" text-anchor="start" fill="#0a0a14" font-weight="normal" stroke="#0a0a14" stroke-width="0.06" letter-spacing="0.05" >ALC888S</text>
<rect x="122.5" y="478.5" width="237" height="19" fill="#fff" stroke="#000" stroke-width="1.1"/>
<rect x="93.5" y="480.5" width="28" height="3" fill="none" stroke="#000" stroke-width="1.0"/>
<rect x="93.5" y="492.5" width="28" height="3" fill="none" stroke="#000" stroke-width="1.0"/>
<rect x="93.5" y="483.5" width="29" height="9" fill="none" stroke="#000" stroke-width="1.0"/>
<rect x="96" y="483" width="1" height="10" fill="#000"/>
<rect x="122.5" y="485.5" width="2" height="4" fill="none" stroke="#000" stroke-width="0.9"/>
<rect x="125.5" y="480.5" width="3" height="3" fill="none" stroke="#000" stroke-width="0.9"/>
<rect x="125.5" y="491.5" width="3" height="3" fill="none" stroke="#000" stroke-width="0.9"/>
<rect x="126" y="484" width="227" height="1" fill="#000"/>
<rect x="126" y="489" width="227" height="1" fill="#000"/>
<rect x="126" y="480" width="1" height="15" fill="#000"/>
<rect x="128" y="480" width="2" height="4" fill="#000"/>
<rect x="133" y="480" width="2" height="4" fill="#000"/>
<rect x="137" y="480" width="2" height="4" fill="#000"/>
<rect x="141" y="480" width="2" height="4" fill="#000"/>
<rect x="146" y="480" width="2" height="4" fill="#000"/>
<rect x="150" y="480" width="2" height="4" fill="#000"/>
<rect x="154" y="480" width="2" height="4" fill="#000"/>
<rect x="167.5" y="480.5" width="2" height="3" fill="none" stroke="#000" stroke-width="0.9"/>
<rect x="172" y="480" width="2" height="4" fill="#000"/>
<rect x="176" y="480" width="2" height="4" fill="#000"/>
<rect x="180" y="480" width="2" height="4" fill="#000"/>
<rect x="184" y="480" width="2" height="4" fill="#000"/>
<rect x="189.5" y="480.5" width="2" height="3" fill="none" stroke="#000" stroke-width="0.9"/>
<rect x="193" y="480" width="2" height="4" fill="#000"/>
<rect x="197" y="480" width="2" height="4" fill="#000"/>
<rect x="202" y="480" width="2" height="4" fill="#000"/>
<rect x="206" y="480" width="2" height="4" fill="#000"/>
<rect x="210" y="480" width="2" height="4" fill="#000"/>
<rect x="215" y="480" width="2" height="4" fill="#000"/>
<rect x="219" y="480" width="2" height="4" fill="#000"/>
<rect x="223" y="480" width="2" height="4" fill="#000"/>
<rect x="227" y="480" width="2" height="4" fill="#000"/>
<rect x="232.5" y="480.5" width="2" height="3" fill="none" stroke="#000" stroke-width="0.9"/>
<rect x="236" y="480" width="2" height="4" fill="#000"/>
<rect x="240" y="480" width="2" height="4" fill="#000"/>
<rect x="245" y="480" width="2" height="4" fill="#000"/>
<rect x="249" y="480" width="2" height="4" fill="#000"/>
<rect x="253" y="480" width="2" height="4" fill="#000"/>
<rect x="258" y="480" width="2" height="4" fill="#000"/>
<rect x="262" y="480" width="2" height="4" fill="#000"/>
<rect x="266" y="480" width="2" height="4" fill="#000"/>
<rect x="270" y="480" width="2" height="4" fill="#000"/>
<rect x="275.5" y="480.5" width="2" height="3" fill="none" stroke="#000" stroke-width="0.9"/>
<rect x="279.5" y="480.5" width="2" height="3" fill="none" stroke="#000" stroke-width="0.9"/>
<rect x="283" y="480" width="2" height="4" fill="#000"/>
<rect x="288" y="480" width="2" height="4" fill="#000"/>
<rect x="292.5" y="480.5" width="2" height="3" fill="none" stroke="#000" stroke-width="0.9"/>
<rect x="296.5" y="480.5" width="2" height="3" fill="none" stroke="#000" stroke-width="0.9"/>
<rect x="301" y="480" width="2" height="4" fill="#000"/>
<rect x="305" y="480" width="2" height="4" fill="#000"/>
<rect x="309" y="480" width="2" height="4" fill="#000"/>
<rect x="313" y="480" width="2" height="4" fill="#000"/>
<rect x="318" y="480" width="2" height="4" fill="#000"/>
<rect x="322" y="480" width="2" height="4" fill="#000"/>
<rect x="326.5" y="480.5" width="2" height="3" fill="none" stroke="#000" stroke-width="0.9"/>
<rect x="331.5" y="480.5" width="2" height="3" fill="none" stroke="#000" stroke-width="0.9"/>
<rect x="335" y="480" width="2" height="4" fill="#000"/>
<rect x="339" y="480" width="2" height="4" fill="#000"/>
<rect x="344" y="480" width="2" height="4" fill="#000"/>
<rect x="348" y="480" width="2" height="4" fill="#000"/>
<rect x="128" y="490" width="2" height="5" fill="#000"/>
<rect x="133" y="490" width="2" height="5" fill="#000"/>
<rect x="137" y="490" width="2" height="5" fill="#000"/>
<rect x="141" y="490" width="2" height="5" fill="#000"/>
<rect x="146" y="490" width="2" height="5" fill="#000"/>
<rect x="150" y="490" width="2" height="5" fill="#000"/>
<rect x="154.5" y="490.5" width="2" height="4" fill="none" stroke="#000" stroke-width="0.9"/>
<rect x="167" y="490" width="2" height="5" fill="#000"/>
<rect x="172" y="490" width="2" height="5" fill="#000"/>
<rect x="176" y="490" width="2" height="5" fill="#000"/>
<rect x="180" y="490" width="2" height="5" fill="#000"/>
<rect x="184" y="490" width="2" height="5" fill="#000"/>
<rect x="189.5" y="490.5" width="2" height="4" fill="none" stroke="#000" stroke-width="0.9"/>
<rect x="193" y="490" width="2" height="5" fill="#000"/>
<rect x="197" y="490" width="2" height="5" fill="#000"/>
<rect x="202.5" y="490.5" width="2" height="4" fill="none" stroke="#000" stroke-width="0.9"/>
<rect x="206" y="490" width="2" height="5" fill="#000"/>
<rect x="210" y="490" width="2" height="5" fill="#000"/>
<rect x="215" y="490" width="2" height="5" fill="#000"/>
<rect x="219" y="490" width="2" height="5" fill="#000"/>
<rect x="223" y="490" width="2" height="5" fill="#000"/>
<rect x="227" y="490" width="2" height="5" fill="#000"/>
<rect x="232" y="490" width="2" height="5" fill="#000"/>
<rect x="236" y="490" width="2" height="5" fill="#000"/>
<rect x="240" y="490" width="2" height="5" fill="#000"/>
<rect x="245" y="490" width="2" height="5" fill="#000"/>
<rect x="249.5" y="490.5" width="2" height="4" fill="none" stroke="#000" stroke-width="0.9"/>
<rect x="253" y="490" width="2" height="5" fill="#000"/>
<rect x="258" y="490" width="2" height="5" fill="#000"/>
<rect x="262" y="490" width="2" height="5" fill="#000"/>
<rect x="266" y="490" width="2" height="5" fill="#000"/>
<rect x="270.5" y="490.5" width="2" height="4" fill="none" stroke="#000" stroke-width="0.9"/>
<rect x="275" y="490" width="2" height="5" fill="#000"/>
<rect x="279.5" y="490.5" width="2" height="4" fill="none" stroke="#000" stroke-width="0.9"/>
<rect x="283.5" y="490.5" width="2" height="4" fill="none" stroke="#000" stroke-width="0.9"/>
<rect x="288" y="490" width="2" height="5" fill="#000"/>
<rect x="292" y="490" width="2" height="5" fill="#000"/>
<rect x="296" y="490" width="2" height="5" fill="#000"/>
<rect x="301" y="490" width="2" height="5" fill="#000"/>
<rect x="305" y="490" width="2" height="5" fill="#000"/>
<rect x="309" y="490" width="2" height="5" fill="#000"/>
<rect x="313" y="490" width="2" height="5" fill="#000"/>
<rect x="318" y="490" width="2" height="5" fill="#000"/>
<rect x="322" y="490" width="2" height="5" fill="#000"/>
<rect x="326.5" y="490.5" width="2" height="4" fill="none" stroke="#000" stroke-width="0.9"/>
<rect x="331" y="490" width="2" height="5" fill="#000"/>
<rect x="335" y="490" width="2" height="5" fill="#000"/>
<rect x="339" y="490" width="2" height="5" fill="#000"/>
<rect x="344" y="490" width="2" height="5" fill="#000"/>
<rect x="348.5" y="490.5" width="2" height="4" fill="none" stroke="#000" stroke-width="0.9"/>
<rect x="159.5" y="480.5" width="5" height="4" fill="none" stroke="#000" stroke-width="1"/>
<rect x="159.5" y="490.5" width="5" height="4" fill="none" stroke="#000" stroke-width="1"/>
<rect x="160" y="484" width="2" height="6" fill="#000"/>
<rect x="163" y="484" width="2" height="6" fill="#000"/>
<rect x="350.5" y="483.5" width="3" height="8" fill="none" stroke="#000" stroke-width="0.8"/>
<rect x="124.5" y="498.5" width="9" height="3" fill="none" stroke="#000" stroke-width="1"/>
<rect x="135.5" y="498.5" width="9" height="3" fill="none" stroke="#000" stroke-width="1"/>
<rect x="147.5" y="498.5" width="9" height="3" fill="none" stroke="#000" stroke-width="1"/>
<rect x="159.5" y="498.5" width="9" height="3" fill="none" stroke="#000" stroke-width="1"/>
<rect x="170.5" y="498.5" width="9" height="3" fill="none" stroke="#000" stroke-width="1"/>
<rect x="182.5" y="498.5" width="9" height="3" fill="none" stroke="#000" stroke-width="1"/>
<rect x="194.5" y="498.5" width="9" height="3" fill="none" stroke="#000" stroke-width="1"/>
<rect x="206.5" y="498.5" width="9" height="3" fill="none" stroke="#000" stroke-width="1"/>
<rect x="218.5" y="498.5" width="9" height="3" fill="none" stroke="#000" stroke-width="1"/>
<rect x="229.5" y="498.5" width="9" height="3" fill="none" stroke="#000" stroke-width="1"/>
<rect x="241.5" y="498.5" width="9" height="3" fill="none" stroke="#000" stroke-width="1"/>
<rect x="253.5" y="498.5" width="9" height="3" fill="none" stroke="#000" stroke-width="1"/>
<rect x="264.5" y="498.5" width="9" height="3" fill="none" stroke="#000" stroke-width="1"/>
<rect x="276.5" y="498.5" width="9" height="3" fill="none" stroke="#000" stroke-width="1"/>
<rect x="288.5" y="498.5" width="9" height="3" fill="none" stroke="#000" stroke-width="1"/>
<rect x="300.5" y="498.5" width="9" height="3" fill="none" stroke="#000" stroke-width="1"/>
<rect x="312.5" y="498.5" width="9" height="3" fill="none" stroke="#000" stroke-width="1"/>
<rect x="323.5" y="498.5" width="9" height="3" fill="none" stroke="#000" stroke-width="1"/>
<rect x="335.5" y="498.5" width="9" height="3" fill="none" stroke="#000" stroke-width="1"/>
<rect x="347.5" y="498.5" width="9" height="3" fill="none" stroke="#000" stroke-width="1"/>
<rect x="359" y="480" width="24" height="1" fill="#000"/>
<rect x="352" y="483" width="25" height="1" fill="#000"/>
<rect x="352" y="492" width="25" height="1" fill="#000"/>
<rect x="359" y="495" width="24" height="1" fill="#000"/>
<rect x="352.5" y="480.5" width="5" height="3" fill="none" stroke="#000" stroke-width="0.8"/>
<rect x="352.5" y="492.5" width="5" height="3" fill="none" stroke="#000" stroke-width="0.8"/>
<rect x="377.5" y="480.5" width="6" height="6" fill="none" stroke="#000" stroke-width="1.1"/>
<rect x="377.5" y="489.5" width="6" height="6" fill="none" stroke="#000" stroke-width="1.1"/>
<rect x="359" y="483" width="1" height="10" fill="#000"/>
<text x="124.00" y="514.90" font-size="9.7" text-anchor="start" fill="#0a0a14" font-weight="normal" stroke="#0a0a14" stroke-width="0.06" letter-spacing="0.05" >PCIE16_X1</text>
<rect x="105.5" y="587.5" width="221" height="23" fill="#fff" stroke="#000" stroke-width="1.2"/>
<path d="M107.5,589.5 L323.5,589.5 L323.5,595.5 L321.5,595.5 L321.5,601.5 L323.5,601.5 L323.5,608.5 L107.5,608.5 L107.5,601.5 L109.5,601.5 L109.5,595.5 L107.5,595.5 Z" fill="none" stroke="#000" stroke-width="0.9"/>
<rect x="108.5" y="590.5" width="4" height="4" fill="none" stroke="#000" stroke-width="1"/>
<rect x="108.5" y="603.5" width="4" height="4" fill="none" stroke="#000" stroke-width="1"/>
<rect x="112" y="590" width="1" height="18" fill="#000"/>
<rect x="113" y="595" width="205" height="1" fill="#000"/>
<rect x="113" y="601" width="205" height="1" fill="#000"/>
<rect x="114" y="590" width="2" height="5" fill="#000"/>
<rect x="118" y="590" width="2" height="5" fill="#000"/>
<rect x="123" y="590" width="2" height="5" fill="#000"/>
<rect x="127" y="590" width="2" height="5" fill="#000"/>
<rect x="131" y="590" width="2" height="5" fill="#000"/>
<rect x="136.5" y="590.5" width="2" height="4" fill="none" stroke="#000" stroke-width="0.9"/>
<rect x="140" y="590" width="2" height="5" fill="#000"/>
<rect x="144" y="590" width="2" height="5" fill="#000"/>
<rect x="149" y="590" width="2" height="5" fill="#000"/>
<rect x="153" y="590" width="2" height="5" fill="#000"/>
<rect x="157" y="590" width="2" height="5" fill="#000"/>
<rect x="162" y="590" width="2" height="5" fill="#000"/>
<rect x="166" y="590" width="2" height="5" fill="#000"/>
<rect x="170.5" y="590.5" width="2" height="4" fill="none" stroke="#000" stroke-width="0.9"/>
<rect x="175.5" y="590.5" width="2" height="4" fill="none" stroke="#000" stroke-width="0.9"/>
<rect x="179" y="590" width="2" height="5" fill="#000"/>
<rect x="183" y="590" width="2" height="5" fill="#000"/>
<rect x="188" y="590" width="2" height="5" fill="#000"/>
<rect x="192.5" y="590.5" width="2" height="4" fill="none" stroke="#000" stroke-width="0.9"/>
<rect x="196.5" y="590.5" width="2" height="4" fill="none" stroke="#000" stroke-width="0.9"/>
<rect x="201" y="590" width="2" height="5" fill="#000"/>
<rect x="205" y="590" width="2" height="5" fill="#000"/>
<rect x="209" y="590" width="2" height="5" fill="#000"/>
<rect x="214" y="590" width="2" height="5" fill="#000"/>
<rect x="218" y="590" width="2" height="5" fill="#000"/>
<rect x="222" y="590" width="2" height="5" fill="#000"/>
<rect x="227" y="590" width="2" height="5" fill="#000"/>
<rect x="231" y="590" width="2" height="5" fill="#000"/>
<rect x="235" y="590" width="2" height="5" fill="#000"/>
<rect x="240" y="590" width="2" height="5" fill="#000"/>
<rect x="244" y="590" width="2" height="5" fill="#000"/>
<rect x="248" y="590" width="2" height="5" fill="#000"/>
<rect x="253" y="590" width="2" height="5" fill="#000"/>
<rect x="257" y="590" width="2" height="5" fill="#000"/>
<rect x="261" y="590" width="2" height="5" fill="#000"/>
<rect x="266.5" y="590.5" width="2" height="4" fill="none" stroke="#000" stroke-width="0.9"/>
<rect x="270" y="590" width="2" height="5" fill="#000"/>
<rect x="283" y="590" width="2" height="5" fill="#000"/>
<rect x="287" y="590" width="2" height="5" fill="#000"/>
<rect x="292" y="590" width="2" height="5" fill="#000"/>
<rect x="296" y="590" width="2" height="5" fill="#000"/>
<rect x="300" y="590" width="2" height="5" fill="#000"/>
<rect x="305.5" y="590.5" width="2" height="4" fill="none" stroke="#000" stroke-width="0.9"/>
<rect x="309.5" y="590.5" width="2" height="4" fill="none" stroke="#000" stroke-width="0.9"/>
<rect x="313" y="590" width="2" height="5" fill="#000"/>
<rect x="114" y="602" width="2" height="5" fill="#000"/>
<rect x="118" y="602" width="2" height="5" fill="#000"/>
<rect x="123.5" y="602.5" width="2" height="4" fill="none" stroke="#000" stroke-width="0.9"/>
<rect x="127" y="602" width="2" height="5" fill="#000"/>
<rect x="131" y="602" width="2" height="5" fill="#000"/>
<rect x="136" y="602" width="2" height="5" fill="#000"/>
<rect x="140.5" y="602.5" width="2" height="4" fill="none" stroke="#000" stroke-width="0.9"/>
<rect x="144" y="602" width="2" height="5" fill="#000"/>
<rect x="149" y="602" width="2" height="5" fill="#000"/>
<rect x="153" y="602" width="2" height="5" fill="#000"/>
<rect x="157.5" y="602.5" width="2" height="4" fill="none" stroke="#000" stroke-width="0.9"/>
<rect x="162" y="602" width="2" height="5" fill="#000"/>
<rect x="166" y="602" width="2" height="5" fill="#000"/>
<rect x="170" y="602" width="2" height="5" fill="#000"/>
<rect x="175" y="602" width="2" height="5" fill="#000"/>
<rect x="179.5" y="602.5" width="2" height="4" fill="none" stroke="#000" stroke-width="0.9"/>
<rect x="183" y="602" width="2" height="5" fill="#000"/>
<rect x="188" y="602" width="2" height="5" fill="#000"/>
<rect x="192" y="602" width="2" height="5" fill="#000"/>
<rect x="196.5" y="602.5" width="2" height="4" fill="none" stroke="#000" stroke-width="0.9"/>
<rect x="201" y="602" width="2" height="5" fill="#000"/>
<rect x="205" y="602" width="2" height="5" fill="#000"/>
<rect x="209" y="602" width="2" height="5" fill="#000"/>
<rect x="214" y="602" width="2" height="5" fill="#000"/>
<rect x="218" y="602" width="2" height="5" fill="#000"/>
<rect x="222.5" y="602.5" width="2" height="4" fill="none" stroke="#000" stroke-width="0.9"/>
<rect x="227" y="602" width="2" height="5" fill="#000"/>
<rect x="231" y="602" width="2" height="5" fill="#000"/>
<rect x="235" y="602" width="2" height="5" fill="#000"/>
<rect x="240" y="602" width="2" height="5" fill="#000"/>
<rect x="244" y="602" width="2" height="5" fill="#000"/>
<rect x="248" y="602" width="2" height="5" fill="#000"/>
<rect x="253" y="602" width="2" height="5" fill="#000"/>
<rect x="257" y="602" width="2" height="5" fill="#000"/>
<rect x="261" y="602" width="2" height="5" fill="#000"/>
<rect x="266" y="602" width="2" height="5" fill="#000"/>
<rect x="270.5" y="602.5" width="2" height="4" fill="none" stroke="#000" stroke-width="0.9"/>
<rect x="283" y="602" width="2" height="5" fill="#000"/>
<rect x="287" y="602" width="2" height="5" fill="#000"/>
<rect x="292" y="602" width="2" height="5" fill="#000"/>
<rect x="296.5" y="602.5" width="2" height="4" fill="none" stroke="#000" stroke-width="0.9"/>
<rect x="300" y="602" width="2" height="5" fill="#000"/>
<rect x="305" y="602" width="2" height="5" fill="#000"/>
<rect x="309.5" y="602.5" width="2" height="4" fill="none" stroke="#000" stroke-width="0.9"/>
<rect x="313" y="602" width="2" height="5" fill="#000"/>
<rect x="276.5" y="590.5" width="4" height="4" fill="none" stroke="#000" stroke-width="1"/>
<rect x="276.5" y="603.5" width="4" height="4" fill="none" stroke="#000" stroke-width="1"/>
<rect x="275.5" y="596.5" width="2" height="5" fill="none" stroke="#000" stroke-width="0.8"/>
<rect x="279.5" y="596.5" width="2" height="5" fill="none" stroke="#000" stroke-width="0.8"/>
<rect x="319.5" y="590.5" width="4" height="4" fill="none" stroke="#000" stroke-width="1"/>
<rect x="319.5" y="603.5" width="4" height="4" fill="none" stroke="#000" stroke-width="1"/>
<rect x="318" y="590" width="1" height="18" fill="#000"/>
<text x="124.00" y="583.80" font-size="9.7" text-anchor="start" fill="#0a0a14" font-weight="normal" stroke="#0a0a14" stroke-width="0.06" letter-spacing="0.05" >PCI1</text>
<rect x="255.30" y="373.20" width="61.10" height="61.00" fill="none" stroke="#000" stroke-width="1.1" />
<path d="M257,375.5 L262,375.5 L257,380 Z" fill="none" stroke="#222" stroke-width="0.9"/>
<text x="263.00" y="385.50" font-size="9.7" text-anchor="start" fill="#0a0a14" font-weight="normal" stroke="#0a0a14" stroke-width="0.06" letter-spacing="0.05" >AMD RX780</text>
<rect x="279.30" y="397.50" width="14.10" height="13.80" fill="#d8d8d8" stroke="#000" stroke-width="1.0" rx="2.5" />
<rect x="460.40" y="487.30" width="62.70" height="61.50" fill="none" stroke="#000" stroke-width="1.1" />
<path d="M462,490 L467,490 L462,494.5 Z" fill="none" stroke="#222" stroke-width="0.9"/>
<text x="462.00" y="505.60" font-size="9.7" text-anchor="start" fill="#0a0a14" font-weight="normal" stroke="#0a0a14" stroke-width="0.06" letter-spacing="0.05" >AMD SB710</text>
<rect x="484.70" y="511.90" width="13.50" height="13.20" fill="#d8d8d8" stroke="#000" stroke-width="1.0" rx="2.5" />
<rect x="612.20" y="280.20" width="26.70" height="136.70" fill="none" stroke="#000" stroke-width="1.8" />
<line x1="625.50" y1="280.20" x2="625.50" y2="414.00" stroke="#000" stroke-width="1.1"/>
<line x1="612.20" y1="292.10" x2="638.90" y2="292.10" stroke="#000" stroke-width="1.0"/>
<line x1="612.20" y1="303.15" x2="638.90" y2="303.15" stroke="#000" stroke-width="1.0"/>
<line x1="612.20" y1="314.20" x2="638.90" y2="314.20" stroke="#000" stroke-width="1.0"/>
<line x1="612.20" y1="325.25" x2="638.90" y2="325.25" stroke="#000" stroke-width="1.0"/>
<line x1="612.20" y1="336.30" x2="638.90" y2="336.30" stroke="#000" stroke-width="1.0"/>
<line x1="612.20" y1="347.35" x2="638.90" y2="347.35" stroke="#000" stroke-width="1.0"/>
<line x1="612.20" y1="358.40" x2="638.90" y2="358.40" stroke="#000" stroke-width="1.0"/>
<line x1="612.20" y1="369.45" x2="638.90" y2="369.45" stroke="#000" stroke-width="1.0"/>
<line x1="612.20" y1="380.50" x2="638.90" y2="380.50" stroke="#000" stroke-width="1.0"/>
<line x1="612.20" y1="391.55" x2="638.90" y2="391.55" stroke="#000" stroke-width="1.0"/>
<line x1="612.20" y1="402.60" x2="638.90" y2="402.60" stroke="#000" stroke-width="1.0"/>
<line x1="612.20" y1="414.30" x2="638.90" y2="414.30" stroke="#000" stroke-width="0.7"/>
<rect x="638.90" y="343.10" width="3.50" height="19.20" fill="none" stroke="#000" stroke-width="0.9" />
<text x="649.30" y="415.10" font-size="9.7" text-anchor="start" fill="#0a0a14" font-weight="normal" stroke="#0a0a14" stroke-width="0.06" transform="rotate(-90 649.30 415.10)" textLength="45.3" lengthAdjust="spacingAndGlyphs" >ATXPWR1</text>
<rect x="599.70" y="478.50" width="36.80" height="126.30" fill="none" stroke="#000" stroke-width="1.1" />
<line x1="604.40" y1="478.50" x2="604.40" y2="604.80" stroke="#000" stroke-width="1.0"/>
<line x1="599.70" y1="520.40" x2="636.50" y2="520.40" stroke="#000" stroke-width="1.0"/>
<line x1="599.70" y1="562.30" x2="636.50" y2="562.30" stroke="#000" stroke-width="1.0"/>
<rect x="621.70" y="488.30" width="12.00" height="5.30" fill="none" stroke="#000" stroke-width="1.0" />
<line x1="624.30" y1="488.30" x2="624.30" y2="493.60" stroke="#000" stroke-width="0.9"/>
<rect x="621.70" y="503.40" width="12.00" height="5.30" fill="none" stroke="#000" stroke-width="1.0" />
<line x1="624.30" y1="503.40" x2="624.30" y2="508.70" stroke="#000" stroke-width="0.9"/>
<rect x="621.70" y="530.20" width="12.00" height="5.30" fill="none" stroke="#000" stroke-width="1.0" />
<line x1="624.30" y1="530.20" x2="624.30" y2="535.50" stroke="#000" stroke-width="0.9"/>
<rect x="621.70" y="545.30" width="12.00" height="5.30" fill="none" stroke="#000" stroke-width="1.0" />
<line x1="624.30" y1="545.30" x2="624.30" y2="550.60" stroke="#000" stroke-width="0.9"/>
<rect x="621.70" y="572.10" width="12.00" height="5.30" fill="none" stroke="#000" stroke-width="1.0" />
<line x1="624.30" y1="572.10" x2="624.30" y2="577.40" stroke="#000" stroke-width="0.9"/>
<rect x="621.70" y="587.20" width="12.00" height="5.30" fill="none" stroke="#000" stroke-width="1.0" />
<line x1="624.30" y1="587.20" x2="624.30" y2="592.50" stroke="#000" stroke-width="0.9"/>
<text x="648.00" y="512.50" font-size="9.7" text-anchor="start" fill="#0a0a14" font-weight="normal" stroke="#0a0a14" stroke-width="0.06" transform="rotate(-90 648.00 512.50)" textLength="28.5" lengthAdjust="spacingAndGlyphs" >SATA3</text>
<text x="648.00" y="554.50" font-size="9.7" text-anchor="start" fill="#0a0a14" font-weight="normal" stroke="#0a0a14" stroke-width="0.06" transform="rotate(-90 648.00 554.50)" textLength="28.5" lengthAdjust="spacingAndGlyphs" >SATA2</text>
<text x="648.00" y="596.50" font-size="9.7" text-anchor="start" fill="#0a0a14" font-weight="normal" stroke="#0a0a14" stroke-width="0.06" transform="rotate(-90 648.00 596.50)" textLength="28.5" lengthAdjust="spacingAndGlyphs" >SATA1</text>
<circle cx="565.6" cy="562.4" r="16" fill="none" stroke="#000" stroke-width="0.9"/>
<circle cx="556" cy="562.4" r="2.6" fill="#666" stroke="#000" stroke-width="1.0"/>
<circle cx="565.1" cy="562.4" r="2.6" fill="none" stroke="#000" stroke-width="0.8"/>
<path id="bz" d="M563.93,552.95 A9.6,9.6 0 0 1 569.20,571.30" fill="none" stroke="none"/>
<text font-size="5.8" fill="#222" stroke="#222" stroke-width="0.1"><textPath href="#bz" textLength="27" lengthAdjust="spacing">AC-1205G</textPath></text>
<circle cx="530" cy="599.2" r="26.4" fill="none" stroke="#000" stroke-width="0.9"/>
<text x="527.00" y="589.50" font-size="9.7" text-anchor="start" fill="#0a0a14" font-weight="normal" stroke="#0a0a14" stroke-width="0.06" letter-spacing="0.05" transform="rotate(90 527.00 589.50)" >BATT</text>
<text x="517.00" y="604.50" font-size="9" text-anchor="start" fill="#222" font-weight="normal" stroke="#222" stroke-width="0.06" letter-spacing="0.05" >+</text>
<rect x="121.65" y="626.80" width="5.90" height="12.90" fill="none" stroke="#222" stroke-width="0.9" rx="2" />
<rect x="123.10" y="629.01" width="3.00" height="2.80" fill="none" stroke="#000" stroke-width="1.0" />
<rect x="123.10" y="635.04" width="3.00" height="2.10" fill="none" stroke="#000" stroke-width="1.0" />
<rect x="128.05" y="626.80" width="5.90" height="12.90" fill="none" stroke="#222" stroke-width="0.9" rx="2" />
<rect x="129.50" y="629.01" width="3.00" height="2.80" fill="none" stroke="#000" stroke-width="1.0" />
<rect x="129.50" y="635.04" width="3.00" height="2.10" fill="none" stroke="#000" stroke-width="1.0" />
<rect x="134.45" y="626.80" width="5.90" height="12.90" fill="none" stroke="#222" stroke-width="0.9" rx="2" />
<rect x="135.90" y="629.01" width="3.00" height="2.80" fill="none" stroke="#000" stroke-width="1.0" />
<rect x="135.90" y="635.04" width="3.00" height="2.10" fill="none" stroke="#000" stroke-width="1.0" />
<rect x="140.85" y="626.80" width="5.90" height="12.90" fill="none" stroke="#222" stroke-width="0.9" rx="2" />
<rect x="142.30" y="635.04" width="3.00" height="2.10" fill="none" stroke="#000" stroke-width="1.0" />
<rect x="147.25" y="626.80" width="5.90" height="12.90" fill="none" stroke="#222" stroke-width="0.9" rx="2" />
<rect x="148.70" y="629.01" width="3.00" height="2.80" fill="none" stroke="#000" stroke-width="1.0" />
<rect x="148.70" y="635.04" width="3.00" height="2.10" fill="none" stroke="#000" stroke-width="1.0" />
<text x="121.70" y="621.70" font-size="9.7" text-anchor="start" fill="#0a0a14" font-weight="normal" stroke="#0a0a14" stroke-width="0.06" letter-spacing="0.05" >JAUD1</text>
<path d="M159,626.3 L190.2,626.3 L190.2,639 L186.4,639 L186.4,642.7 L162.8,642.7 L162.8,639 L159,639 Z" fill="none" stroke="#000" stroke-width="1.1"/>
<rect x="161.50" y="631.70" width="2.00" height="2.00" fill="none" stroke="#000" stroke-width="0.9" />
<rect x="168.70" y="631.70" width="2.00" height="2.00" fill="none" stroke="#000" stroke-width="0.9" />
<rect x="176.30" y="631.70" width="2.00" height="2.00" fill="none" stroke="#000" stroke-width="0.9" />
<rect x="183.60" y="631.70" width="2.00" height="2.00" fill="none" stroke="#000" stroke-width="0.9" />
<text x="161.00" y="621.70" font-size="9.7" text-anchor="start" fill="#0a0a14" font-weight="normal" stroke="#0a0a14" stroke-width="0.06" letter-spacing="0.05" >JCD1</text>
<rect x="209.65" y="625.10" width="6.60" height="12.90" fill="none" stroke="#222" stroke-width="0.9" rx="2" />
<rect x="211.45" y="627.31" width="3.00" height="2.80" fill="none" stroke="#000" stroke-width="1.0" />
<rect x="211.45" y="633.34" width="3.00" height="2.10" fill="none" stroke="#000" stroke-width="1.0" />
<rect x="216.75" y="625.10" width="6.60" height="12.90" fill="none" stroke="#222" stroke-width="0.9" rx="2" />
<rect x="218.55" y="627.31" width="3.00" height="2.80" fill="none" stroke="#000" stroke-width="1.0" />
<rect x="218.55" y="633.34" width="3.00" height="2.10" fill="none" stroke="#000" stroke-width="1.0" />
<rect x="223.85" y="625.10" width="6.60" height="12.90" fill="none" stroke="#222" stroke-width="0.9" rx="2" />
<rect x="225.65" y="627.31" width="3.00" height="2.80" fill="none" stroke="#000" stroke-width="1.0" />
<rect x="225.65" y="633.34" width="3.00" height="2.10" fill="none" stroke="#000" stroke-width="1.0" />
<rect x="230.95" y="625.10" width="6.60" height="12.90" fill="none" stroke="#222" stroke-width="0.9" rx="2" />
<rect x="232.75" y="627.31" width="3.00" height="2.80" fill="none" stroke="#000" stroke-width="1.0" />
<rect x="232.75" y="633.34" width="3.00" height="2.10" fill="none" stroke="#000" stroke-width="1.0" />
<rect x="238.05" y="625.10" width="6.60" height="12.90" fill="none" stroke="#222" stroke-width="0.9" rx="2" />
<rect x="239.85" y="627.31" width="3.00" height="2.80" fill="none" stroke="#000" stroke-width="1.0" />
<text x="207.90" y="620.50" font-size="9.7" text-anchor="start" fill="#0a0a14" font-weight="normal" stroke="#0a0a14" stroke-width="0.06" letter-spacing="0.05" >J1394_1 (OPTIONAL)</text>
<rect x="342.45" y="624.70" width="6.56" height="13.70" fill="none" stroke="#222" stroke-width="0.9" rx="2" />
<rect x="344.23" y="627.14" width="3.00" height="2.80" fill="none" stroke="#000" stroke-width="1.0" />
<rect x="344.23" y="633.51" width="3.00" height="2.10" fill="none" stroke="#000" stroke-width="1.0" />
<rect x="349.51" y="624.70" width="6.56" height="13.70" fill="none" stroke="#222" stroke-width="0.9" rx="2" />
<rect x="351.29" y="627.14" width="3.00" height="2.80" fill="none" stroke="#000" stroke-width="1.0" />
<rect x="351.29" y="633.51" width="3.00" height="2.10" fill="none" stroke="#000" stroke-width="1.0" />
<rect x="356.57" y="624.70" width="6.56" height="13.70" fill="none" stroke="#222" stroke-width="0.9" rx="2" />
<rect x="358.35" y="627.14" width="3.00" height="2.80" fill="none" stroke="#000" stroke-width="1.0" />
<rect x="358.35" y="633.51" width="3.00" height="2.10" fill="none" stroke="#000" stroke-width="1.0" />
<rect x="363.63" y="624.70" width="6.56" height="13.70" fill="none" stroke="#222" stroke-width="0.9" rx="2" />
<rect x="365.41" y="627.14" width="3.00" height="2.80" fill="none" stroke="#000" stroke-width="1.0" />
<rect x="365.41" y="633.51" width="3.00" height="2.10" fill="none" stroke="#000" stroke-width="1.0" />
<rect x="370.69" y="624.70" width="6.56" height="13.70" fill="none" stroke="#222" stroke-width="0.9" rx="2" />
<rect x="372.47" y="627.14" width="3.00" height="2.80" fill="none" stroke="#000" stroke-width="1.0" />
<text x="341.40" y="621.20" font-size="9.7" text-anchor="start" fill="#0a0a14" font-weight="normal" stroke="#0a0a14" stroke-width="0.06" letter-spacing="0.05" >JUSB1</text>
<rect x="389.25" y="624.70" width="6.42" height="13.70" fill="none" stroke="#222" stroke-width="0.9" rx="2" />
<rect x="390.96" y="627.14" width="3.00" height="2.80" fill="none" stroke="#000" stroke-width="1.0" />
<rect x="390.96" y="633.51" width="3.00" height="2.10" fill="none" stroke="#000" stroke-width="1.0" />
<rect x="396.17" y="624.70" width="6.42" height="13.70" fill="none" stroke="#222" stroke-width="0.9" rx="2" />
<rect x="397.88" y="627.14" width="3.00" height="2.80" fill="none" stroke="#000" stroke-width="1.0" />
<rect x="397.88" y="633.51" width="3.00" height="2.10" fill="none" stroke="#000" stroke-width="1.0" />
<rect x="403.09" y="624.70" width="6.42" height="13.70" fill="none" stroke="#222" stroke-width="0.9" rx="2" />
<rect x="404.80" y="627.14" width="3.00" height="2.80" fill="none" stroke="#000" stroke-width="1.0" />
<rect x="404.80" y="633.51" width="3.00" height="2.10" fill="none" stroke="#000" stroke-width="1.0" />
<rect x="410.01" y="624.70" width="6.42" height="13.70" fill="none" stroke="#222" stroke-width="0.9" rx="2" />
<rect x="411.72" y="627.14" width="3.00" height="2.80" fill="none" stroke="#000" stroke-width="1.0" />
<rect x="411.72" y="633.51" width="3.00" height="2.10" fill="none" stroke="#000" stroke-width="1.0" />
<rect x="416.93" y="624.70" width="6.42" height="13.70" fill="none" stroke="#222" stroke-width="0.9" rx="2" />
<rect x="418.64" y="627.14" width="3.00" height="2.80" fill="none" stroke="#000" stroke-width="1.0" />
<text x="388.60" y="621.20" font-size="9.7" text-anchor="start" fill="#0a0a14" font-weight="normal" stroke="#0a0a14" stroke-width="0.06" letter-spacing="0.05" >JUSB2</text>
<rect x="468.95" y="625.20" width="6.44" height="12.60" fill="none" stroke="#222" stroke-width="0.9" rx="2" />
<rect x="470.67" y="627.33" width="3.00" height="2.80" fill="none" stroke="#000" stroke-width="1.0" />
<rect x="470.67" y="633.22" width="3.00" height="2.10" fill="none" stroke="#000" stroke-width="1.0" />
<rect x="475.89" y="625.20" width="6.44" height="12.60" fill="none" stroke="#222" stroke-width="0.9" rx="2" />
<rect x="477.61" y="627.33" width="3.00" height="2.80" fill="none" stroke="#000" stroke-width="1.0" />
<rect x="477.61" y="633.22" width="3.00" height="2.10" fill="none" stroke="#000" stroke-width="1.0" />
<rect x="482.83" y="625.20" width="6.44" height="12.60" fill="none" stroke="#222" stroke-width="0.9" rx="2" />
<rect x="484.55" y="627.33" width="3.00" height="2.80" fill="none" stroke="#000" stroke-width="1.0" />
<rect x="484.55" y="633.22" width="3.00" height="2.10" fill="none" stroke="#000" stroke-width="1.0" />
<rect x="489.77" y="625.20" width="6.44" height="12.60" fill="none" stroke="#222" stroke-width="0.9" rx="2" />
<rect x="491.49" y="627.33" width="3.00" height="2.80" fill="none" stroke="#000" stroke-width="1.0" />
<rect x="491.49" y="633.22" width="3.00" height="2.10" fill="none" stroke="#000" stroke-width="1.0" />
<rect x="496.71" y="625.20" width="6.44" height="12.60" fill="none" stroke="#222" stroke-width="0.9" rx="2" />
<rect x="498.43" y="627.33" width="3.00" height="2.80" fill="none" stroke="#000" stroke-width="1.0" />
<text x="475.70" y="621.30" font-size="9.7" text-anchor="start" fill="#0a0a14" font-weight="normal" stroke="#0a0a14" stroke-width="0.06" letter-spacing="0.05" >JUSB3</text>
<rect x="581.25" y="623.00" width="6.50" height="12.60" fill="none" stroke="#222" stroke-width="0.9" rx="2" />
<rect x="583.00" y="625.13" width="3.00" height="2.80" fill="none" stroke="#000" stroke-width="1.0" />
<rect x="583.00" y="631.02" width="3.00" height="2.10" fill="none" stroke="#000" stroke-width="1.0" />
<rect x="588.25" y="623.00" width="6.50" height="12.60" fill="none" stroke="#222" stroke-width="0.9" rx="2" />
<rect x="590.00" y="625.13" width="3.00" height="2.80" fill="none" stroke="#000" stroke-width="1.0" />
<rect x="590.00" y="631.02" width="3.00" height="2.10" fill="none" stroke="#000" stroke-width="1.0" />
<rect x="595.25" y="623.00" width="6.50" height="12.60" fill="none" stroke="#222" stroke-width="0.9" rx="2" />
<rect x="597.00" y="625.13" width="3.00" height="2.80" fill="none" stroke="#000" stroke-width="1.0" />
<rect x="597.00" y="631.02" width="3.00" height="2.10" fill="none" stroke="#000" stroke-width="1.0" />
<rect x="602.25" y="623.00" width="6.50" height="12.60" fill="none" stroke="#222" stroke-width="0.9" rx="2" />
<rect x="604.00" y="625.13" width="3.00" height="2.80" fill="none" stroke="#000" stroke-width="1.0" />
<rect x="604.00" y="631.02" width="3.00" height="2.10" fill="none" stroke="#000" stroke-width="1.0" />
<rect x="609.25" y="623.00" width="6.50" height="12.60" fill="none" stroke="#222" stroke-width="0.9" rx="2" />
<rect x="611.00" y="631.02" width="3.00" height="2.10" fill="none" stroke="#000" stroke-width="1.0" />
<text x="588.20" y="644.20" font-size="9.7" text-anchor="start" fill="#0a0a14" font-weight="normal" stroke="#0a0a14" stroke-width="0.06" letter-spacing="0.05" >JFP1</text>
<rect x="524.60" y="631.60" width="6.80" height="6.00" fill="none" stroke="#000" stroke-width="1.1" rx="2" />
<rect x="531.40" y="631.60" width="13.20" height="6.00" fill="none" stroke="#000" stroke-width="1.1" rx="2" />
<rect x="526.90" y="633.60" width="2.00" height="2.60" fill="none" stroke="#000" stroke-width="1.0" />
<rect x="533.60" y="633.60" width="2.00" height="2.60" fill="none" stroke="#000" stroke-width="1.0" />
<rect x="540.80" y="633.60" width="2.40" height="2.60" fill="none" stroke="#000" stroke-width="1.0" />
<text x="521.90" y="645.40" font-size="9.7" text-anchor="start" fill="#0a0a14" font-weight="normal" stroke="#0a0a14" stroke-width="0.06" letter-spacing="0.05" >JBAT1</text>
<rect x="375.40" y="542.80" width="11.20" height="6.85" fill="none" stroke="#000" stroke-width="0.8" rx="1.3" />
<rect x="377.60" y="545.20" width="2.60" height="2.00" fill="#000" stroke="#000" stroke-width="0.6" />
<rect x="382.00" y="545.00" width="2.60" height="2.50" fill="none" stroke="#000" stroke-width="0.9" />
<rect x="375.40" y="549.65" width="11.20" height="6.85" fill="none" stroke="#000" stroke-width="0.8" rx="1.3" />
<rect x="377.60" y="552.05" width="2.60" height="2.00" fill="#000" stroke="#000" stroke-width="0.6" />
<rect x="382.00" y="551.85" width="2.60" height="2.50" fill="none" stroke="#000" stroke-width="0.9" />
<rect x="375.40" y="556.50" width="11.20" height="6.85" fill="none" stroke="#000" stroke-width="0.8" rx="1.3" />
<rect x="377.60" y="558.90" width="2.60" height="2.00" fill="#000" stroke="#000" stroke-width="0.6" />
<rect x="382.00" y="558.70" width="2.60" height="2.50" fill="none" stroke="#000" stroke-width="0.9" />
<rect x="375.40" y="563.35" width="11.20" height="6.85" fill="none" stroke="#000" stroke-width="0.8" rx="1.3" />
<rect x="377.60" y="565.75" width="2.60" height="2.00" fill="#000" stroke="#000" stroke-width="0.6" />
<text x="373.40" y="570.20" font-size="9.7" text-anchor="start" fill="#0a0a14" font-weight="normal" stroke="#0a0a14" stroke-width="0.06" transform="rotate(-90 373.40 570.20)" textLength="25" lengthAdjust="spacingAndGlyphs" >JSPI1</text>
<rect x="409.10" y="556.80" width="6.60" height="12.70" fill="none" stroke="#000" stroke-width="1.0" />
<rect x="411.20" y="559.50" width="2.40" height="2.50" fill="none" stroke="#000" stroke-width="0.8" />
<rect x="411.20" y="564.30" width="2.40" height="2.50" fill="none" stroke="#000" stroke-width="0.8" />
<text x="416.80" y="554.20" font-size="9.7" text-anchor="start" fill="#0a0a14" font-weight="normal" stroke="#0a0a14" stroke-width="0.06" transform="rotate(-90 416.80 554.20)" textLength="27.4" lengthAdjust="spacingAndGlyphs" >JSMI1</text>
<rect x="114.00" y="613.50" width="44.50" height="30.30" fill="none" stroke="#f00000" stroke-width="2.2" rx="6" />
<rect x="566.00" y="617.40" width="65.30" height="28.60" fill="none" stroke="#f00000" stroke-width="2.2" rx="8" />
<rect x="144.10" y="643.80" width="2.80" height="71.70" fill="#f5002d" stroke="none" stroke-width="0" />
<rect x="612.10" y="646.00" width="2.80" height="361.00" fill="#f5002d" stroke="none" stroke-width="0" />
<rect x="190.00" y="683.00" width="73.00" height="11.00" fill="#0ca02c" stroke="none" stroke-width="0" />
<rect x="336.00" y="1010.20" width="34.00" height="7.80" fill="#000" stroke="none" stroke-width="0" />
<rect x="369.00" y="1007.30" width="146.00" height="10.70" fill="#000" stroke="none" stroke-width="0" />
<text x="329.5" y="1017.8" font-size="14" font-weight="bold" fill="#18a82a" stroke="#18a82a" stroke-width="0.6" textLength="184.5" lengthAdjust="spacingAndGlyphs">Front Panel Connectors</text>
<rect x="32.40" y="676.70" width="16.30" height="33.00" fill="none" stroke="#333" stroke-width="1.0" rx="3.5" />
<rect x="37.05" y="684.30" width="7.00" height="5.80" fill="none" stroke="#000" stroke-width="1.1" />
<rect x="37.05" y="696.50" width="7.00" height="6.20" fill="none" stroke="#000" stroke-width="1.1" />
<rect x="50.30" y="676.70" width="16.30" height="33.00" fill="none" stroke="#333" stroke-width="1.0" rx="3.5" />
<rect x="54.95" y="684.30" width="7.00" height="5.80" fill="none" stroke="#000" stroke-width="1.1" />
<rect x="54.95" y="696.50" width="7.00" height="6.20" fill="none" stroke="#000" stroke-width="1.1" />
<rect x="68.20" y="676.70" width="16.30" height="33.00" fill="none" stroke="#333" stroke-width="1.0" rx="3.5" />
<rect x="72.85" y="684.30" width="7.00" height="5.80" fill="none" stroke="#000" stroke-width="1.1" />
<rect x="72.85" y="696.50" width="7.00" height="6.20" fill="none" stroke="#000" stroke-width="1.1" />
<rect x="86.10" y="676.70" width="16.30" height="33.00" fill="none" stroke="#333" stroke-width="1.0" rx="3.5" />
<rect x="90.75" y="696.50" width="7.00" height="6.20" fill="none" stroke="#000" stroke-width="1.1" />
<rect x="104.00" y="676.70" width="16.30" height="33.00" fill="none" stroke="#333" stroke-width="1.0" rx="3.5" />
<rect x="108.65" y="684.30" width="7.00" height="5.80" fill="none" stroke="#000" stroke-width="1.1" />
<rect x="108.65" y="696.50" width="7.00" height="6.20" fill="none" stroke="#000" stroke-width="1.1" />
<text x="21.00" y="691.60" font-size="12.5" text-anchor="start" fill="#111" font-weight="bold" stroke="#111" stroke-width="0.06" letter-spacing="0.05" >2</text>
<text x="21.00" y="705.50" font-size="12.5" text-anchor="start" fill="#111" font-weight="bold" stroke="#111" stroke-width="0.06" letter-spacing="0.05" >1</text>
<text x="122.90" y="691.60" font-size="12.5" text-anchor="start" fill="#111" font-weight="bold" stroke="#111" stroke-width="0.06" letter-spacing="0.05" >10</text>
<text x="128.30" y="705.50" font-size="12.5" text-anchor="start" fill="#111" font-weight="bold" stroke="#111" stroke-width="0.06" letter-spacing="0.05" >9</text>
<rect x="537.80" y="1007.20" width="15.30" height="33.00" fill="none" stroke="#333" stroke-width="1.0" rx="3.5" />
<rect x="541.95" y="1014.80" width="7.00" height="5.80" fill="none" stroke="#000" stroke-width="1.1" />
<rect x="541.95" y="1027.00" width="7.00" height="6.20" fill="none" stroke="#000" stroke-width="1.1" />
<rect x="555.55" y="1007.20" width="15.30" height="33.00" fill="none" stroke="#333" stroke-width="1.0" rx="3.5" />
<rect x="559.70" y="1014.80" width="7.00" height="5.80" fill="none" stroke="#000" stroke-width="1.1" />
<rect x="559.70" y="1027.00" width="7.00" height="6.20" fill="none" stroke="#000" stroke-width="1.1" />
<rect x="573.30" y="1007.20" width="15.30" height="33.00" fill="none" stroke="#333" stroke-width="1.0" rx="3.5" />
<rect x="577.45" y="1014.80" width="7.00" height="5.80" fill="none" stroke="#000" stroke-width="1.1" />
<rect x="577.45" y="1027.00" width="7.00" height="6.20" fill="none" stroke="#000" stroke-width="1.1" />
<rect x="591.05" y="1007.20" width="15.30" height="33.00" fill="none" stroke="#333" stroke-width="1.0" rx="3.5" />
<rect x="595.20" y="1014.80" width="7.00" height="5.80" fill="none" stroke="#000" stroke-width="1.1" />
<rect x="595.20" y="1027.00" width="7.00" height="6.20" fill="none" stroke="#000" stroke-width="1.1" />
<rect x="608.80" y="1007.20" width="15.30" height="33.00" fill="none" stroke="#333" stroke-width="1.0" rx="3.5" />
<rect x="612.95" y="1027.00" width="7.00" height="6.20" fill="none" stroke="#000" stroke-width="1.1" />
<text x="528.70" y="1019.60" font-size="12.5" text-anchor="start" fill="#111" font-weight="bold" stroke="#111" stroke-width="0.06" letter-spacing="0.05" >2</text>
<text x="528.70" y="1035.40" font-size="12.5" text-anchor="start" fill="#111" font-weight="bold" stroke="#111" stroke-width="0.06" letter-spacing="0.05" >1</text>
<text x="630.20" y="1019.60" font-size="12.5" text-anchor="start" fill="#111" font-weight="bold" stroke="#111" stroke-width="0.06" letter-spacing="0.05" >10</text>
<text x="633.30" y="1035.40" font-size="12.5" text-anchor="start" fill="#111" font-weight="bold" stroke="#111" stroke-width="0.06" letter-spacing="0.05" >9</text>
<path d="M590.5,715.5 L590.5,976.5 L3.5,976.5 L3.5,715.5" fill="none" stroke="#000" stroke-width="1.1"/>
<line x1="3.0" y1="715.5" x2="591.0" y2="715.5" stroke="#555" stroke-width="1.1"/>
<line x1="3.5" y1="743.5" x2="590.5" y2="743.5" stroke="#000" stroke-width="1.2"/>
<line x1="63.5" y1="715.5" x2="63.5" y2="976.5" stroke="#000" stroke-width="1.2"/>
<line x1="200.5" y1="715.5" x2="200.5" y2="976.5" stroke="#000" stroke-width="1.2"/>
<text x="14.5" y="734.7" font-size="13.6" font-weight="bold" fill="#000">PIN</text>
<text x="73.5" y="734.7" font-size="13.6" font-weight="bold" fill="#000">SIGNAL</text>
<text x="209.0" y="734.7" font-size="13.6" font-weight="bold" fill="#000">DESCRIPTION</text>
<text x="14.5" y="764.80" font-size="13.5" fill="#000">1</text>
<text x="73.5" y="764.80" font-size="13.5" fill="#000">MIC_L</text>
<text x="209.0" y="764.80" font-size="13.5" fill="#000" word-spacing="-0.43" letter-spacing="-0.066">Microphone - Left channel</text>
<text x="14.5" y="785.40" font-size="13.5" fill="#000">2</text>
<text x="73.5" y="785.40" font-size="13.5" fill="#000">GND</text>
<text x="209.0" y="785.40" font-size="13.5" fill="#000" textLength="44.5" lengthAdjust="spacing">Ground</text>
<text x="14.5" y="806.00" font-size="13.5" fill="#000">3</text>
<text x="73.5" y="806.00" font-size="13.5" fill="#000">MIC_R</text>
<text x="209.0" y="806.00" font-size="13.5" fill="#000" word-spacing="0.12" letter-spacing="0.018">Microphone - Right channel</text>
<text x="14.5" y="826.60" font-size="13.5" fill="#000">4</text>
<text x="73.5" y="826.60" font-size="13.5" fill="#000">NC</text>
<text x="209.0" y="826.60" font-size="13.5" fill="#000" word-spacing="0.12" letter-spacing="0.017">No control</text>
<text x="14.5" y="847.20" font-size="13.5" fill="#000">5</text>
<text x="73.5" y="847.20" font-size="13.5" fill="#000">LINEout_R</text>
<text x="209.0" y="847.20" font-size="13.5" fill="#000" word-spacing="0.09" letter-spacing="0.017">Analog Port - Right channel</text>
<text x="14.5" y="867.80" font-size="13.5" fill="#000">6</text>
<text x="73.5" y="867.80" font-size="13.5" fill="#000">MIC_JD</text>
<text x="209.0" y="867.80" font-size="13.5" fill="#000" word-spacing="-0.53" letter-spacing="-0.084">Jack detection return from front panel microphone JACK1</text>
<text x="14.5" y="888.40" font-size="13.5" fill="#000">7</text>
<text x="73.5" y="888.40" font-size="13.5" fill="#000">Front_JD</text>
<text x="209.0" y="888.40" font-size="13.5" fill="#000" word-spacing="-0.84" letter-spacing="-0.151">Jack detection sense line from the High Definition Audio CODEC</text>
<text x="209.0" y="909.00" font-size="13.5" fill="#000" word-spacing="-0.68" letter-spacing="-0.084">jack detection resistor network</text>
<text x="14.5" y="929.60" font-size="13.5" fill="#000">8</text>
<text x="73.5" y="929.60" font-size="13.5" fill="#000">NC</text>
<text x="209.0" y="929.60" font-size="13.5" fill="#000" word-spacing="0.12" letter-spacing="0.017">No control</text>
<text x="14.5" y="950.20" font-size="13.5" fill="#000">9</text>
<text x="73.5" y="950.20" font-size="13.5" fill="#000">LINEout_L</text>
<text x="209.0" y="950.20" font-size="13.5" fill="#000" word-spacing="-0.33" letter-spacing="-0.064">Analog Port - Left channel</text>
<text x="14.5" y="970.80" font-size="13.5" fill="#000">10</text>
<text x="73.5" y="970.80" font-size="13.5" fill="#000">LINEout_JD</text>
<text x="209.0" y="970.80" font-size="13.5" fill="#000" word-spacing="-0.43" letter-spacing="-0.074">Jack detection return from front panel JACK2</text>
<path d="M652.2,1052.5 L652.2,1274.5 L147.5,1274.5 L147.5,1052.5" fill="none" stroke="#000" stroke-width="1.1"/>
<line x1="147.0" y1="1052.5" x2="652.7" y2="1052.5" stroke="#555" stroke-width="1.1"/>
<line x1="147.5" y1="1080.5" x2="652.2" y2="1080.5" stroke="#000" stroke-width="1.2"/>
<line x1="214.5" y1="1052.5" x2="214.5" y2="1274.5" stroke="#000" stroke-width="1.2"/>
<line x1="352.5" y1="1052.5" x2="352.5" y2="1274.5" stroke="#000" stroke-width="1.2"/>
<text x="165.3" y="1071.9" font-size="13.6" font-weight="bold" fill="#000">PIN</text>
<text x="229.7" y="1071.9" font-size="13.6" font-weight="bold" fill="#000">SIGNAL</text>
<text x="359.5" y="1071.9" font-size="13.6" font-weight="bold" fill="#000">DESCRIPTION</text>
<text x="165.3" y="1098.40" font-size="13.5" fill="#000">1</text>
<text x="229.7" y="1098.40" font-size="13.5" fill="#000">HD_LED +</text>
<text x="359.5" y="1098.40" font-size="13.5" fill="#000" word-spacing="-0.71" letter-spacing="-0.129">Hard disk LED pull-up</text>
<text x="165.3" y="1119.02" font-size="13.5" fill="#000">2</text>
<text x="229.7" y="1119.02" font-size="13.5" fill="#000">FPPWR/SLP</text>
<text x="359.5" y="1119.02" font-size="13.5" fill="#000" word-spacing="-0.59" letter-spacing="-0.104">MSG LED pull-up</text>
<text x="165.3" y="1139.64" font-size="13.5" fill="#000">3</text>
<text x="229.7" y="1139.64" font-size="13.5" fill="#000">HD_LED -</text>
<text x="359.5" y="1139.64" font-size="13.5" fill="#000" word-spacing="-0.95" letter-spacing="-0.184">Hard disk active LED</text>
<text x="165.3" y="1160.26" font-size="13.5" fill="#000">4</text>
<text x="229.7" y="1160.26" font-size="13.5" fill="#000">FPPWR/SLP</text>
<text x="359.5" y="1160.26" font-size="13.5" fill="#000" word-spacing="-0.59" letter-spacing="-0.104">MSG LED pull-up</text>
<text x="165.3" y="1180.88" font-size="13.5" fill="#000">5</text>
<text x="229.7" y="1180.88" font-size="13.5" fill="#000">RST_SW -</text>
<text x="359.5" y="1180.88" font-size="13.5" fill="#000" word-spacing="-0.81" letter-spacing="-0.141">Reset Switch low reference pull-down to GND</text>
<text x="165.3" y="1201.50" font-size="13.5" fill="#000">6</text>
<text x="229.7" y="1201.50" font-size="13.5" fill="#000">PWR_SW +</text>
<text x="359.5" y="1201.50" font-size="13.5" fill="#000" word-spacing="-0.98" letter-spacing="-0.141">Power Switch high reference pull-up</text>
<text x="165.3" y="1222.12" font-size="13.5" fill="#000">7</text>
<text x="229.7" y="1222.12" font-size="13.5" fill="#000">RST_SW +</text>
<text x="359.5" y="1222.12" font-size="13.5" fill="#000" word-spacing="-0.80" letter-spacing="-0.115">Reset Switch high reference pull-up</text>
<text x="165.3" y="1242.74" font-size="13.5" fill="#000">8</text>
<text x="229.7" y="1242.74" font-size="13.5" fill="#000">PWR_SW -</text>
<text x="359.5" y="1242.74" font-size="13.5" fill="#000" word-spacing="-0.93" letter-spacing="-0.162">Power Switch low reference pull-down to GND</text>
<text x="165.3" y="1263.36" font-size="13.5" fill="#000">9</text>
<text x="229.7" y="1263.36" font-size="13.5" fill="#000">RSVD_DNU</text>
<text x="359.5" y="1263.36" font-size="13.5" fill="#000" word-spacing="-1.16" letter-spacing="-0.212">Reserved. Do not use.</text>
</svg>
</body></html>
